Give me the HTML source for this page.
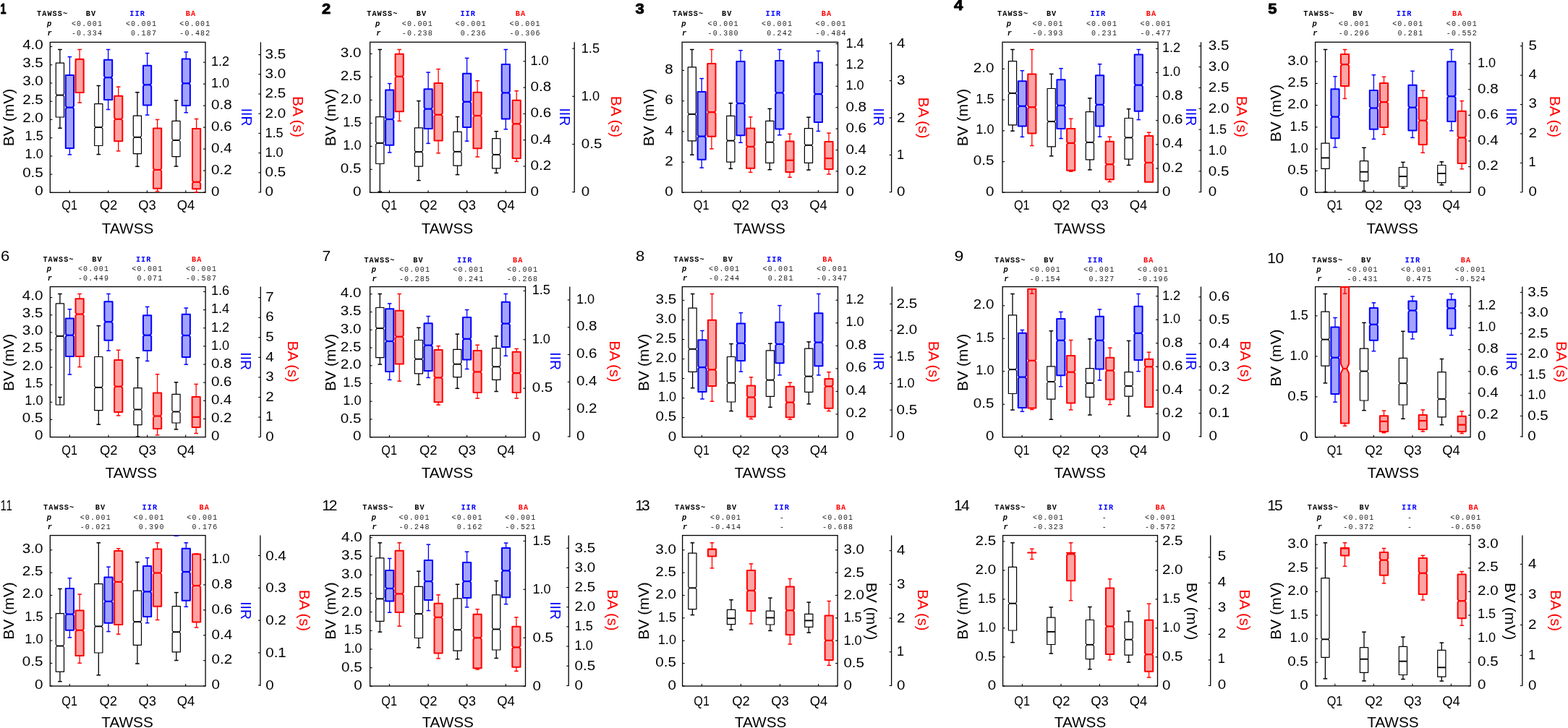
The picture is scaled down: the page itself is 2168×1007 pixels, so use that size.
<!DOCTYPE html><html><head><meta charset="utf-8"><title>Figure</title><style>html,body{margin:0;padding:0;background:#fff;width:2168px;height:1007px;overflow:hidden}svg{display:block}text{font-family:"Liberation Sans",Arial,sans-serif}text.m{font-family:"Liberation Mono","Courier New",monospace}</style></head><body><svg width="2168" height="1007" viewBox="0 0 2168 1007">
<rect width="2168" height="1007" fill="#fff"/>
<text transform="translate(0.50,19.45) scale(0.72,1)" font-size="20" fill="#000" font-weight="bold" stroke="#000" stroke-width="0.9" stroke-linejoin="round">1</text>
<text x="51.00" y="22.20" font-size="10.2" class="m" font-weight="bold" letter-spacing="1.08">TAWSS~</text>
<text x="118.80" y="22.20" font-size="10.2" class="m" font-weight="bold" letter-spacing="1.08">BV</text>
<text x="179.30" y="22.20" font-size="10.2" fill="#0000ff" class="m" font-weight="bold" letter-spacing="1.08">IIR</text>
<text x="256.70" y="22.20" font-size="10.2" fill="#ff0000" class="m" font-weight="bold" letter-spacing="1.08">BA</text>
<text x="65.10" y="35.80" font-size="10.5" class="m" font-weight="bold" font-style="italic">p</text>
<text x="65.40" y="48.80" font-size="10.5" class="m" font-weight="bold" font-style="italic">r</text>
<text x="142.10" y="35.80" font-size="10.0" text-anchor="end" fill="#222" class="m" letter-spacing="1.20">&lt;0.001</text>
<text x="142.10" y="48.80" font-size="10.0" text-anchor="end" fill="#222" class="m" letter-spacing="1.20">-0.334</text>
<text x="217.10" y="35.80" font-size="10.0" text-anchor="end" fill="#222" class="m" letter-spacing="1.20">&lt;0.001</text>
<text x="217.10" y="48.80" font-size="10.0" text-anchor="end" fill="#222" class="m" letter-spacing="1.20">0.187</text>
<text x="291.50" y="35.80" font-size="10.0" text-anchor="end" fill="#222" class="m" letter-spacing="1.20">&lt;0.001</text>
<text x="291.50" y="48.80" font-size="10.0" text-anchor="end" fill="#222" class="m" letter-spacing="1.20">-0.482</text>
<rect x="69.30" y="58.40" width="214.70" height="207.90" fill="none" stroke="#000" stroke-width="1.3"/>
<line x1="96.40" y1="266.30" x2="96.40" y2="263.30" stroke="#000" stroke-width="1.1"/>
<line x1="149.80" y1="266.30" x2="149.80" y2="263.30" stroke="#000" stroke-width="1.1"/>
<line x1="203.40" y1="266.30" x2="203.40" y2="263.30" stroke="#000" stroke-width="1.1"/>
<line x1="256.80" y1="266.30" x2="256.80" y2="263.30" stroke="#000" stroke-width="1.1"/>
<text x="96.10" y="289.90" font-size="18.4" text-anchor="middle" textLength="21.6" lengthAdjust="spacingAndGlyphs">Q1</text>
<text x="150.00" y="289.90" font-size="18.4" text-anchor="middle">Q2</text>
<text x="203.60" y="289.90" font-size="18.4" text-anchor="middle">Q3</text>
<text x="257.00" y="289.90" font-size="18.4" text-anchor="middle">Q4</text>
<text x="176.60" y="322.80" font-size="21" text-anchor="middle" textLength="71.5" lengthAdjust="spacingAndGlyphs">TAWSS</text>
<line x1="69.30" y1="266.40" x2="72.30" y2="266.40" stroke="#000" stroke-width="1.1"/>
<text x="59.80" y="269.90" font-size="17.6" text-anchor="end" textLength="11.45" lengthAdjust="spacingAndGlyphs">0</text>
<line x1="69.30" y1="241.16" x2="72.30" y2="241.16" stroke="#000" stroke-width="1.1"/>
<text x="59.80" y="244.66" font-size="17.6" text-anchor="end" textLength="28.62" lengthAdjust="spacingAndGlyphs">0.5</text>
<line x1="69.30" y1="215.92" x2="72.30" y2="215.92" stroke="#000" stroke-width="1.1"/>
<text x="59.80" y="219.42" font-size="17.6" text-anchor="end" textLength="25.20" lengthAdjust="spacingAndGlyphs">1.0</text>
<line x1="69.30" y1="190.69" x2="72.30" y2="190.69" stroke="#000" stroke-width="1.1"/>
<text x="59.80" y="194.19" font-size="17.6" text-anchor="end" textLength="25.20" lengthAdjust="spacingAndGlyphs">1.5</text>
<line x1="69.30" y1="165.45" x2="72.30" y2="165.45" stroke="#000" stroke-width="1.1"/>
<text x="59.80" y="168.95" font-size="17.6" text-anchor="end" textLength="28.62" lengthAdjust="spacingAndGlyphs">2.0</text>
<line x1="69.30" y1="140.21" x2="72.30" y2="140.21" stroke="#000" stroke-width="1.1"/>
<text x="59.80" y="143.71" font-size="17.6" text-anchor="end" textLength="28.62" lengthAdjust="spacingAndGlyphs">2.5</text>
<line x1="69.30" y1="114.97" x2="72.30" y2="114.97" stroke="#000" stroke-width="1.1"/>
<text x="59.80" y="118.47" font-size="17.6" text-anchor="end" textLength="28.62" lengthAdjust="spacingAndGlyphs">3.0</text>
<line x1="69.30" y1="89.74" x2="72.30" y2="89.74" stroke="#000" stroke-width="1.1"/>
<text x="59.80" y="93.24" font-size="17.6" text-anchor="end" textLength="28.62" lengthAdjust="spacingAndGlyphs">3.5</text>
<line x1="69.30" y1="64.50" x2="72.30" y2="64.50" stroke="#000" stroke-width="1.1"/>
<text x="59.80" y="68.00" font-size="17.6" text-anchor="end" textLength="28.62" lengthAdjust="spacingAndGlyphs">4.0</text>
<text transform="translate(18.60,162.50) rotate(-90)" font-size="21" text-anchor="middle" fill="#000">BV (mV)</text>
<line x1="284.00" y1="266.00" x2="281.00" y2="266.00" stroke="#000" stroke-width="1.1"/>
<text x="292.00" y="270.50" font-size="17.6" textLength="11.45" lengthAdjust="spacingAndGlyphs">0</text>
<line x1="284.00" y1="236.03" x2="281.00" y2="236.03" stroke="#000" stroke-width="1.1"/>
<text x="292.00" y="240.53" font-size="17.6" textLength="28.62" lengthAdjust="spacingAndGlyphs">0.2</text>
<line x1="284.00" y1="206.07" x2="281.00" y2="206.07" stroke="#000" stroke-width="1.1"/>
<text x="292.00" y="210.57" font-size="17.6" textLength="28.62" lengthAdjust="spacingAndGlyphs">0.4</text>
<line x1="284.00" y1="176.10" x2="281.00" y2="176.10" stroke="#000" stroke-width="1.1"/>
<text x="292.00" y="180.60" font-size="17.6" textLength="28.62" lengthAdjust="spacingAndGlyphs">0.6</text>
<line x1="284.00" y1="146.13" x2="281.00" y2="146.13" stroke="#000" stroke-width="1.1"/>
<text x="292.00" y="150.63" font-size="17.6" textLength="28.62" lengthAdjust="spacingAndGlyphs">0.8</text>
<line x1="284.00" y1="116.17" x2="281.00" y2="116.17" stroke="#000" stroke-width="1.1"/>
<text x="292.00" y="120.67" font-size="17.6" textLength="25.20" lengthAdjust="spacingAndGlyphs">1.0</text>
<line x1="284.00" y1="86.20" x2="281.00" y2="86.20" stroke="#000" stroke-width="1.1"/>
<text x="292.00" y="90.70" font-size="17.6" textLength="25.20" lengthAdjust="spacingAndGlyphs">1.2</text>
<text transform="translate(333.80,162.00) rotate(90)" font-size="21" text-anchor="middle" fill="#0000ff" textLength="24.6" lengthAdjust="spacingAndGlyphs">IIR</text>
<line x1="360.40" y1="58.40" x2="360.40" y2="266.30" stroke="#000" stroke-width="1.3"/>
<line x1="360.40" y1="266.00" x2="357.40" y2="266.00" stroke="#000" stroke-width="1.1"/>
<text x="366.50" y="271.30" font-size="17.6" textLength="11.45" lengthAdjust="spacingAndGlyphs">0</text>
<line x1="360.40" y1="238.80" x2="357.40" y2="238.80" stroke="#000" stroke-width="1.1"/>
<text x="366.50" y="244.10" font-size="17.6" textLength="28.62" lengthAdjust="spacingAndGlyphs">0.5</text>
<line x1="360.40" y1="211.60" x2="357.40" y2="211.60" stroke="#000" stroke-width="1.1"/>
<text x="366.50" y="216.90" font-size="17.6" textLength="25.20" lengthAdjust="spacingAndGlyphs">1.0</text>
<line x1="360.40" y1="184.40" x2="357.40" y2="184.40" stroke="#000" stroke-width="1.1"/>
<text x="366.50" y="189.70" font-size="17.6" textLength="25.20" lengthAdjust="spacingAndGlyphs">1.5</text>
<line x1="360.40" y1="157.20" x2="357.40" y2="157.20" stroke="#000" stroke-width="1.1"/>
<text x="366.50" y="162.50" font-size="17.6" textLength="28.62" lengthAdjust="spacingAndGlyphs">2.0</text>
<line x1="360.40" y1="130.00" x2="357.40" y2="130.00" stroke="#000" stroke-width="1.1"/>
<text x="366.50" y="135.30" font-size="17.6" textLength="28.62" lengthAdjust="spacingAndGlyphs">2.5</text>
<line x1="360.40" y1="102.80" x2="357.40" y2="102.80" stroke="#000" stroke-width="1.1"/>
<text x="366.50" y="108.10" font-size="17.6" textLength="28.62" lengthAdjust="spacingAndGlyphs">3.0</text>
<line x1="360.40" y1="75.60" x2="357.40" y2="75.60" stroke="#000" stroke-width="1.1"/>
<text x="366.50" y="80.90" font-size="17.6" textLength="28.62" lengthAdjust="spacingAndGlyphs">3.5</text>
<text transform="translate(405.00,161.50) rotate(90)" font-size="21" text-anchor="middle" fill="#ff0000">BA (s)</text>
<path d="M77.30,87.20H88.50V129.60L87.00,131.60L88.50,133.60V162.00H77.30V133.60L78.80,131.60L77.30,129.60Z" fill="#fff" stroke="#000" stroke-width="1.2" stroke-linejoin="round"/>
<line x1="82.90" y1="68.50" x2="82.90" y2="87.20" stroke="#000" stroke-width="1.3"/>
<line x1="80.10" y1="68.50" x2="85.70" y2="68.50" stroke="#000" stroke-width="1.5"/>
<line x1="82.90" y1="177.30" x2="82.90" y2="162.00" stroke="#000" stroke-width="1.3"/>
<line x1="80.10" y1="177.30" x2="85.70" y2="177.30" stroke="#000" stroke-width="1.5"/>
<line x1="78.80" y1="131.60" x2="87.00" y2="131.60" stroke="#000" stroke-width="1.9"/>
<path d="M90.80,103.90H102.00V146.70L100.50,148.70L102.00,150.70V205.10H90.80V150.70L92.30,148.70L90.80,146.70Z" fill="#a3a3ff" stroke="#0000ff" stroke-width="2.0" stroke-linejoin="round"/>
<line x1="96.40" y1="78.60" x2="96.40" y2="103.90" stroke="#0000ff" stroke-width="1.3"/>
<line x1="93.60" y1="78.60" x2="99.20" y2="78.60" stroke="#0000ff" stroke-width="1.5"/>
<line x1="96.40" y1="213.90" x2="96.40" y2="205.10" stroke="#0000ff" stroke-width="1.3"/>
<line x1="93.60" y1="213.90" x2="99.20" y2="213.90" stroke="#0000ff" stroke-width="1.5"/>
<line x1="92.30" y1="148.70" x2="100.50" y2="148.70" stroke="#0000ff" stroke-width="2.2"/>
<path d="M104.50,81.90H115.70V81.90L114.20,81.90L115.70,83.90V128.10H104.50V83.90L106.00,81.90L104.50,81.90Z" fill="#ffa3a3" stroke="#ff0000" stroke-width="2.0" stroke-linejoin="round"/>
<line x1="110.10" y1="68.50" x2="110.10" y2="81.90" stroke="#ff0000" stroke-width="1.3"/>
<line x1="107.30" y1="68.50" x2="112.90" y2="68.50" stroke="#ff0000" stroke-width="1.5"/>
<line x1="110.10" y1="142.00" x2="110.10" y2="128.10" stroke="#ff0000" stroke-width="1.3"/>
<line x1="107.30" y1="142.00" x2="112.90" y2="142.00" stroke="#ff0000" stroke-width="1.5"/>
<line x1="106.00" y1="81.90" x2="114.20" y2="81.90" stroke="#ff0000" stroke-width="2.2"/>
<path d="M130.70,143.60H141.90V174.10L140.40,176.10L141.90,178.10V201.50H130.70V178.10L132.20,176.10L130.70,174.10Z" fill="#fff" stroke="#000" stroke-width="1.2" stroke-linejoin="round"/>
<line x1="136.30" y1="118.50" x2="136.30" y2="143.60" stroke="#000" stroke-width="1.3"/>
<line x1="133.50" y1="118.50" x2="139.10" y2="118.50" stroke="#000" stroke-width="1.5"/>
<line x1="136.30" y1="213.60" x2="136.30" y2="201.50" stroke="#000" stroke-width="1.3"/>
<line x1="133.50" y1="213.60" x2="139.10" y2="213.60" stroke="#000" stroke-width="1.5"/>
<line x1="132.20" y1="176.10" x2="140.40" y2="176.10" stroke="#000" stroke-width="1.9"/>
<path d="M144.00,82.80H155.20V105.20L153.70,107.20L155.20,109.20V138.00H144.00V109.20L145.50,107.20L144.00,105.20Z" fill="#a3a3ff" stroke="#0000ff" stroke-width="2.0" stroke-linejoin="round"/>
<line x1="149.60" y1="68.50" x2="149.60" y2="82.80" stroke="#0000ff" stroke-width="1.3"/>
<line x1="146.80" y1="68.50" x2="152.40" y2="68.50" stroke="#0000ff" stroke-width="1.5"/>
<line x1="149.60" y1="151.50" x2="149.60" y2="138.00" stroke="#0000ff" stroke-width="1.3"/>
<line x1="146.80" y1="151.50" x2="152.40" y2="151.50" stroke="#0000ff" stroke-width="1.5"/>
<line x1="145.50" y1="107.20" x2="153.70" y2="107.20" stroke="#0000ff" stroke-width="2.2"/>
<path d="M158.10,132.80H169.30V162.80L167.80,164.80L169.30,166.80V195.20H158.10V166.80L159.60,164.80L158.10,162.80Z" fill="#ffa3a3" stroke="#ff0000" stroke-width="2.0" stroke-linejoin="round"/>
<line x1="163.70" y1="120.10" x2="163.70" y2="132.80" stroke="#ff0000" stroke-width="1.3"/>
<line x1="160.90" y1="120.10" x2="166.50" y2="120.10" stroke="#ff0000" stroke-width="1.5"/>
<line x1="163.70" y1="208.90" x2="163.70" y2="195.20" stroke="#ff0000" stroke-width="1.3"/>
<line x1="160.90" y1="208.90" x2="166.50" y2="208.90" stroke="#ff0000" stroke-width="1.5"/>
<line x1="159.60" y1="164.80" x2="167.80" y2="164.80" stroke="#ff0000" stroke-width="2.2"/>
<path d="M184.30,160.20H195.50V187.80L194.00,189.80L195.50,191.80V212.70H184.30V191.80L185.80,189.80L184.30,187.80Z" fill="#fff" stroke="#000" stroke-width="1.2" stroke-linejoin="round"/>
<line x1="189.90" y1="127.70" x2="189.90" y2="160.20" stroke="#000" stroke-width="1.3"/>
<line x1="187.10" y1="127.70" x2="192.70" y2="127.70" stroke="#000" stroke-width="1.5"/>
<line x1="189.90" y1="230.30" x2="189.90" y2="212.70" stroke="#000" stroke-width="1.3"/>
<line x1="187.10" y1="230.30" x2="192.70" y2="230.30" stroke="#000" stroke-width="1.5"/>
<line x1="185.80" y1="189.80" x2="194.00" y2="189.80" stroke="#000" stroke-width="1.9"/>
<path d="M198.00,90.80H209.20V115.30L207.70,117.30L209.20,119.30V145.40H198.00V119.30L199.50,117.30L198.00,115.30Z" fill="#a3a3ff" stroke="#0000ff" stroke-width="2.0" stroke-linejoin="round"/>
<line x1="203.60" y1="73.60" x2="203.60" y2="90.80" stroke="#0000ff" stroke-width="1.3"/>
<line x1="200.80" y1="73.60" x2="206.40" y2="73.60" stroke="#0000ff" stroke-width="1.5"/>
<line x1="203.60" y1="159.10" x2="203.60" y2="145.40" stroke="#0000ff" stroke-width="1.3"/>
<line x1="200.80" y1="159.10" x2="206.40" y2="159.10" stroke="#0000ff" stroke-width="1.5"/>
<line x1="199.50" y1="117.30" x2="207.70" y2="117.30" stroke="#0000ff" stroke-width="2.2"/>
<path d="M212.00,177.60H223.20V232.90L221.70,234.90L223.20,236.90V260.70H212.00V236.90L213.50,234.90L212.00,232.90Z" fill="#ffa3a3" stroke="#ff0000" stroke-width="2.0" stroke-linejoin="round"/>
<line x1="217.60" y1="165.40" x2="217.60" y2="177.60" stroke="#ff0000" stroke-width="1.3"/>
<line x1="214.80" y1="165.40" x2="220.40" y2="165.40" stroke="#ff0000" stroke-width="1.5"/>
<line x1="217.60" y1="264.60" x2="217.60" y2="260.70" stroke="#ff0000" stroke-width="1.3"/>
<line x1="214.80" y1="264.60" x2="220.40" y2="264.60" stroke="#ff0000" stroke-width="1.5"/>
<line x1="213.50" y1="234.90" x2="221.70" y2="234.90" stroke="#ff0000" stroke-width="2.2"/>
<path d="M237.90,167.40H249.10V192.00L247.60,194.00L249.10,196.00V216.60H237.90V196.00L239.40,194.00L237.90,192.00Z" fill="#fff" stroke="#000" stroke-width="1.2" stroke-linejoin="round"/>
<line x1="243.50" y1="138.80" x2="243.50" y2="167.40" stroke="#000" stroke-width="1.3"/>
<line x1="240.70" y1="138.80" x2="246.30" y2="138.80" stroke="#000" stroke-width="1.5"/>
<line x1="243.50" y1="230.10" x2="243.50" y2="216.60" stroke="#000" stroke-width="1.3"/>
<line x1="240.70" y1="230.10" x2="246.30" y2="230.10" stroke="#000" stroke-width="1.5"/>
<line x1="239.40" y1="194.00" x2="247.60" y2="194.00" stroke="#000" stroke-width="1.9"/>
<path d="M251.70,81.60H262.90V113.30L261.40,115.30L262.90,117.30V145.90H251.70V117.30L253.20,115.30L251.70,113.30Z" fill="#a3a3ff" stroke="#0000ff" stroke-width="2.0" stroke-linejoin="round"/>
<line x1="257.30" y1="72.00" x2="257.30" y2="81.60" stroke="#0000ff" stroke-width="1.3"/>
<line x1="254.50" y1="72.00" x2="260.10" y2="72.00" stroke="#0000ff" stroke-width="1.5"/>
<line x1="257.30" y1="155.80" x2="257.30" y2="145.90" stroke="#0000ff" stroke-width="1.3"/>
<line x1="254.50" y1="155.80" x2="260.10" y2="155.80" stroke="#0000ff" stroke-width="1.5"/>
<line x1="253.20" y1="115.30" x2="261.40" y2="115.30" stroke="#0000ff" stroke-width="2.2"/>
<path d="M266.00,177.90H277.20V249.80L275.70,251.80L277.20,253.80V261.30H266.00V253.80L267.50,251.80L266.00,249.80Z" fill="#ffa3a3" stroke="#ff0000" stroke-width="2.0" stroke-linejoin="round"/>
<line x1="271.60" y1="164.50" x2="271.60" y2="177.90" stroke="#ff0000" stroke-width="1.3"/>
<line x1="268.80" y1="164.50" x2="274.40" y2="164.50" stroke="#ff0000" stroke-width="1.5"/>
<line x1="271.60" y1="266.00" x2="271.60" y2="261.30" stroke="#ff0000" stroke-width="1.3"/>
<line x1="268.80" y1="266.00" x2="274.40" y2="266.00" stroke="#ff0000" stroke-width="1.5"/>
<line x1="267.50" y1="251.80" x2="275.70" y2="251.80" stroke="#ff0000" stroke-width="2.2"/>
<text transform="translate(445.10,19.35) scale(1.1,1)" font-size="20" fill="#000" font-weight="bold" stroke="#000" stroke-width="0.9" stroke-linejoin="round">2</text>
<text x="507.20" y="22.10" font-size="10.2" class="m" font-weight="bold" letter-spacing="1.08">TAWSS~</text>
<text x="575.70" y="22.10" font-size="10.2" class="m" font-weight="bold" letter-spacing="1.08">BV</text>
<text x="636.40" y="22.10" font-size="10.2" fill="#0000ff" class="m" font-weight="bold" letter-spacing="1.08">IIR</text>
<text x="712.70" y="22.10" font-size="10.2" fill="#ff0000" class="m" font-weight="bold" letter-spacing="1.08">BA</text>
<text x="518.90" y="35.90" font-size="10.5" class="m" font-weight="bold" font-style="italic">p</text>
<text x="520.30" y="48.70" font-size="10.5" class="m" font-weight="bold" font-style="italic">r</text>
<text x="599.00" y="35.90" font-size="10.0" text-anchor="end" fill="#222" class="m" letter-spacing="1.20">&lt;0.001</text>
<text x="599.00" y="48.70" font-size="10.0" text-anchor="end" fill="#222" class="m" letter-spacing="1.20">-0.238</text>
<text x="672.80" y="35.90" font-size="10.0" text-anchor="end" fill="#222" class="m" letter-spacing="1.20">&lt;0.001</text>
<text x="672.80" y="48.70" font-size="10.0" text-anchor="end" fill="#222" class="m" letter-spacing="1.20">0.236</text>
<text x="747.80" y="35.90" font-size="10.0" text-anchor="end" fill="#222" class="m" letter-spacing="1.20">&lt;0.001</text>
<text x="747.80" y="48.70" font-size="10.0" text-anchor="end" fill="#222" class="m" letter-spacing="1.20">-0.306</text>
<rect x="511.60" y="58.30" width="214.90" height="208.00" fill="none" stroke="#000" stroke-width="1.3"/>
<line x1="538.40" y1="266.30" x2="538.40" y2="263.30" stroke="#000" stroke-width="1.1"/>
<line x1="592.10" y1="266.30" x2="592.10" y2="263.30" stroke="#000" stroke-width="1.1"/>
<line x1="645.60" y1="266.30" x2="645.60" y2="263.30" stroke="#000" stroke-width="1.1"/>
<line x1="699.30" y1="266.30" x2="699.30" y2="263.30" stroke="#000" stroke-width="1.1"/>
<text x="538.10" y="289.90" font-size="18.4" text-anchor="middle" textLength="21.6" lengthAdjust="spacingAndGlyphs">Q1</text>
<text x="592.30" y="289.90" font-size="18.4" text-anchor="middle">Q2</text>
<text x="645.80" y="289.90" font-size="18.4" text-anchor="middle">Q3</text>
<text x="699.50" y="289.90" font-size="18.4" text-anchor="middle">Q4</text>
<text x="618.40" y="322.80" font-size="21" text-anchor="middle" textLength="71.5" lengthAdjust="spacingAndGlyphs">TAWSS</text>
<line x1="511.60" y1="266.30" x2="514.60" y2="266.30" stroke="#000" stroke-width="1.1"/>
<text x="499.50" y="270.50" font-size="17.6" text-anchor="end" textLength="11.45" lengthAdjust="spacingAndGlyphs">0</text>
<line x1="511.60" y1="234.32" x2="514.60" y2="234.32" stroke="#000" stroke-width="1.1"/>
<text x="499.50" y="238.52" font-size="17.6" text-anchor="end" textLength="28.62" lengthAdjust="spacingAndGlyphs">0.5</text>
<line x1="511.60" y1="202.33" x2="514.60" y2="202.33" stroke="#000" stroke-width="1.1"/>
<text x="499.50" y="206.53" font-size="17.6" text-anchor="end" textLength="25.20" lengthAdjust="spacingAndGlyphs">1.0</text>
<line x1="511.60" y1="170.35" x2="514.60" y2="170.35" stroke="#000" stroke-width="1.1"/>
<text x="499.50" y="174.55" font-size="17.6" text-anchor="end" textLength="25.20" lengthAdjust="spacingAndGlyphs">1.5</text>
<line x1="511.60" y1="138.37" x2="514.60" y2="138.37" stroke="#000" stroke-width="1.1"/>
<text x="499.50" y="142.57" font-size="17.6" text-anchor="end" textLength="28.62" lengthAdjust="spacingAndGlyphs">2.0</text>
<line x1="511.60" y1="106.38" x2="514.60" y2="106.38" stroke="#000" stroke-width="1.1"/>
<text x="499.50" y="110.58" font-size="17.6" text-anchor="end" textLength="28.62" lengthAdjust="spacingAndGlyphs">2.5</text>
<line x1="511.60" y1="74.40" x2="514.60" y2="74.40" stroke="#000" stroke-width="1.1"/>
<text x="499.50" y="78.60" font-size="17.6" text-anchor="end" textLength="28.62" lengthAdjust="spacingAndGlyphs">3.0</text>
<text transform="translate(463.80,162.50) rotate(-90)" font-size="21" text-anchor="middle" fill="#000">BV (mV)</text>
<line x1="726.50" y1="266.30" x2="723.50" y2="266.30" stroke="#000" stroke-width="1.1"/>
<text x="733.50" y="271.30" font-size="17.6" textLength="11.45" lengthAdjust="spacingAndGlyphs">0</text>
<line x1="726.50" y1="230.00" x2="723.50" y2="230.00" stroke="#000" stroke-width="1.1"/>
<text x="733.50" y="235.00" font-size="17.6" textLength="28.62" lengthAdjust="spacingAndGlyphs">0.2</text>
<line x1="726.50" y1="193.70" x2="723.50" y2="193.70" stroke="#000" stroke-width="1.1"/>
<text x="733.50" y="198.70" font-size="17.6" textLength="28.62" lengthAdjust="spacingAndGlyphs">0.4</text>
<line x1="726.50" y1="157.40" x2="723.50" y2="157.40" stroke="#000" stroke-width="1.1"/>
<text x="733.50" y="162.40" font-size="17.6" textLength="28.62" lengthAdjust="spacingAndGlyphs">0.6</text>
<line x1="726.50" y1="121.10" x2="723.50" y2="121.10" stroke="#000" stroke-width="1.1"/>
<text x="733.50" y="126.10" font-size="17.6" textLength="28.62" lengthAdjust="spacingAndGlyphs">0.8</text>
<line x1="726.50" y1="84.80" x2="723.50" y2="84.80" stroke="#000" stroke-width="1.1"/>
<text x="733.50" y="89.80" font-size="17.6" textLength="25.20" lengthAdjust="spacingAndGlyphs">1.0</text>
<text transform="translate(774.30,161.80) rotate(90)" font-size="21" text-anchor="middle" fill="#0000ff" textLength="24.6" lengthAdjust="spacingAndGlyphs">IIR</text>
<line x1="794.20" y1="58.30" x2="794.20" y2="266.30" stroke="#000" stroke-width="1.3"/>
<line x1="794.20" y1="265.70" x2="791.20" y2="265.70" stroke="#000" stroke-width="1.1"/>
<text x="803.80" y="271.40" font-size="17.6" textLength="11.45" lengthAdjust="spacingAndGlyphs">0</text>
<line x1="794.20" y1="199.50" x2="791.20" y2="199.50" stroke="#000" stroke-width="1.1"/>
<text x="803.80" y="205.20" font-size="17.6" textLength="28.62" lengthAdjust="spacingAndGlyphs">0.5</text>
<line x1="794.20" y1="133.30" x2="791.20" y2="133.30" stroke="#000" stroke-width="1.1"/>
<text x="803.80" y="139.00" font-size="17.6" textLength="25.20" lengthAdjust="spacingAndGlyphs">1.0</text>
<line x1="794.20" y1="67.10" x2="791.20" y2="67.10" stroke="#000" stroke-width="1.1"/>
<text x="803.80" y="72.80" font-size="17.6" textLength="25.20" lengthAdjust="spacingAndGlyphs">1.5</text>
<text transform="translate(844.50,161.30) rotate(90)" font-size="21" text-anchor="middle" fill="#ff0000">BA (s)</text>
<path d="M519.70,161.60H530.90V195.90L529.40,197.90L530.90,199.90V226.50H519.70V199.90L521.20,197.90L519.70,195.90Z" fill="#fff" stroke="#000" stroke-width="1.2" stroke-linejoin="round"/>
<line x1="525.30" y1="68.50" x2="525.30" y2="161.60" stroke="#000" stroke-width="1.3"/>
<line x1="522.50" y1="68.50" x2="528.10" y2="68.50" stroke="#000" stroke-width="1.5"/>
<line x1="525.30" y1="265.10" x2="525.30" y2="226.50" stroke="#000" stroke-width="1.3"/>
<line x1="522.50" y1="265.10" x2="528.10" y2="265.10" stroke="#000" stroke-width="1.5"/>
<line x1="521.20" y1="197.90" x2="529.40" y2="197.90" stroke="#000" stroke-width="1.9"/>
<path d="M533.10,124.50H544.30V163.00L542.80,165.00L544.30,167.00V200.80H533.10V167.00L534.60,165.00L533.10,163.00Z" fill="#a3a3ff" stroke="#0000ff" stroke-width="2.0" stroke-linejoin="round"/>
<line x1="538.70" y1="115.60" x2="538.70" y2="124.50" stroke="#0000ff" stroke-width="1.3"/>
<line x1="535.90" y1="115.60" x2="541.50" y2="115.60" stroke="#0000ff" stroke-width="1.5"/>
<line x1="538.70" y1="211.00" x2="538.70" y2="200.80" stroke="#0000ff" stroke-width="1.3"/>
<line x1="535.90" y1="211.00" x2="541.50" y2="211.00" stroke="#0000ff" stroke-width="1.5"/>
<line x1="534.60" y1="165.00" x2="542.80" y2="165.00" stroke="#0000ff" stroke-width="2.2"/>
<path d="M546.60,74.70H557.80V103.80L556.30,105.80L557.80,107.80V154.30H546.60V107.80L548.10,105.80L546.60,103.80Z" fill="#ffa3a3" stroke="#ff0000" stroke-width="2.0" stroke-linejoin="round"/>
<line x1="552.20" y1="68.50" x2="552.20" y2="74.70" stroke="#ff0000" stroke-width="1.3"/>
<line x1="549.40" y1="68.50" x2="555.00" y2="68.50" stroke="#ff0000" stroke-width="1.5"/>
<line x1="552.20" y1="167.40" x2="552.20" y2="154.30" stroke="#ff0000" stroke-width="1.3"/>
<line x1="549.40" y1="167.40" x2="555.00" y2="167.40" stroke="#ff0000" stroke-width="1.5"/>
<line x1="548.10" y1="105.80" x2="556.30" y2="105.80" stroke="#ff0000" stroke-width="2.2"/>
<path d="M573.30,176.90H584.50V208.10L583.00,210.10L584.50,212.10V230.10H573.30V212.10L574.80,210.10L573.30,208.10Z" fill="#fff" stroke="#000" stroke-width="1.2" stroke-linejoin="round"/>
<line x1="578.90" y1="139.60" x2="578.90" y2="176.90" stroke="#000" stroke-width="1.3"/>
<line x1="576.10" y1="139.60" x2="581.70" y2="139.60" stroke="#000" stroke-width="1.5"/>
<line x1="578.90" y1="249.60" x2="578.90" y2="230.10" stroke="#000" stroke-width="1.3"/>
<line x1="576.10" y1="249.60" x2="581.70" y2="249.60" stroke="#000" stroke-width="1.5"/>
<line x1="574.80" y1="210.10" x2="583.00" y2="210.10" stroke="#000" stroke-width="1.9"/>
<path d="M586.50,123.30H597.70V148.70L596.20,150.70L597.70,152.70V178.10H586.50V152.70L588.00,150.70L586.50,148.70Z" fill="#a3a3ff" stroke="#0000ff" stroke-width="2.0" stroke-linejoin="round"/>
<line x1="592.10" y1="100.10" x2="592.10" y2="123.30" stroke="#0000ff" stroke-width="1.3"/>
<line x1="589.30" y1="100.10" x2="594.90" y2="100.10" stroke="#0000ff" stroke-width="1.5"/>
<line x1="592.10" y1="198.40" x2="592.10" y2="178.10" stroke="#0000ff" stroke-width="1.3"/>
<line x1="589.30" y1="198.40" x2="594.90" y2="198.40" stroke="#0000ff" stroke-width="1.5"/>
<line x1="588.00" y1="150.70" x2="596.20" y2="150.70" stroke="#0000ff" stroke-width="2.2"/>
<path d="M600.50,115.00H611.70V156.70L610.20,158.70L611.70,160.70V194.60H600.50V160.70L602.00,158.70L600.50,156.70Z" fill="#ffa3a3" stroke="#ff0000" stroke-width="2.0" stroke-linejoin="round"/>
<line x1="606.10" y1="95.60" x2="606.10" y2="115.00" stroke="#ff0000" stroke-width="1.3"/>
<line x1="603.30" y1="95.60" x2="608.90" y2="95.60" stroke="#ff0000" stroke-width="1.5"/>
<line x1="606.10" y1="211.80" x2="606.10" y2="194.60" stroke="#ff0000" stroke-width="1.3"/>
<line x1="603.30" y1="211.80" x2="608.90" y2="211.80" stroke="#ff0000" stroke-width="1.5"/>
<line x1="602.00" y1="158.70" x2="610.20" y2="158.70" stroke="#ff0000" stroke-width="2.2"/>
<path d="M626.90,182.40H638.10V207.80L636.60,209.80L638.10,211.80V229.10H626.90V211.80L628.40,209.80L626.90,207.80Z" fill="#fff" stroke="#000" stroke-width="1.2" stroke-linejoin="round"/>
<line x1="632.50" y1="161.50" x2="632.50" y2="182.40" stroke="#000" stroke-width="1.3"/>
<line x1="629.70" y1="161.50" x2="635.30" y2="161.50" stroke="#000" stroke-width="1.5"/>
<line x1="632.50" y1="241.60" x2="632.50" y2="229.10" stroke="#000" stroke-width="1.3"/>
<line x1="629.70" y1="241.60" x2="635.30" y2="241.60" stroke="#000" stroke-width="1.5"/>
<line x1="628.40" y1="209.80" x2="636.60" y2="209.80" stroke="#000" stroke-width="1.9"/>
<path d="M640.00,101.80H651.20V138.80L649.70,140.80L651.20,142.80V176.10H640.00V142.80L641.50,140.80L640.00,138.80Z" fill="#a3a3ff" stroke="#0000ff" stroke-width="2.0" stroke-linejoin="round"/>
<line x1="645.60" y1="80.40" x2="645.60" y2="101.80" stroke="#0000ff" stroke-width="1.3"/>
<line x1="642.80" y1="80.40" x2="648.40" y2="80.40" stroke="#0000ff" stroke-width="1.5"/>
<line x1="645.60" y1="195.20" x2="645.60" y2="176.10" stroke="#0000ff" stroke-width="1.3"/>
<line x1="642.80" y1="195.20" x2="648.40" y2="195.20" stroke="#0000ff" stroke-width="1.5"/>
<line x1="641.50" y1="140.80" x2="649.70" y2="140.80" stroke="#0000ff" stroke-width="2.2"/>
<path d="M654.50,127.80H665.70V158.00L664.20,160.00L665.70,162.00V205.30H654.50V162.00L656.00,160.00L654.50,158.00Z" fill="#ffa3a3" stroke="#ff0000" stroke-width="2.0" stroke-linejoin="round"/>
<line x1="660.10" y1="111.70" x2="660.10" y2="127.80" stroke="#ff0000" stroke-width="1.3"/>
<line x1="657.30" y1="111.70" x2="662.90" y2="111.70" stroke="#ff0000" stroke-width="1.5"/>
<line x1="660.10" y1="217.00" x2="660.10" y2="205.30" stroke="#ff0000" stroke-width="1.3"/>
<line x1="657.30" y1="217.00" x2="662.90" y2="217.00" stroke="#ff0000" stroke-width="1.5"/>
<line x1="656.00" y1="160.00" x2="664.20" y2="160.00" stroke="#ff0000" stroke-width="2.2"/>
<path d="M680.60,191.60H691.80V211.90L690.30,213.90L691.80,215.90V232.90H680.60V215.90L682.10,213.90L680.60,211.90Z" fill="#fff" stroke="#000" stroke-width="1.2" stroke-linejoin="round"/>
<line x1="686.20" y1="181.70" x2="686.20" y2="191.60" stroke="#000" stroke-width="1.3"/>
<line x1="683.40" y1="181.70" x2="689.00" y2="181.70" stroke="#000" stroke-width="1.5"/>
<line x1="686.20" y1="239.30" x2="686.20" y2="232.90" stroke="#000" stroke-width="1.3"/>
<line x1="683.40" y1="239.30" x2="689.00" y2="239.30" stroke="#000" stroke-width="1.5"/>
<line x1="682.10" y1="213.90" x2="690.30" y2="213.90" stroke="#000" stroke-width="1.9"/>
<path d="M693.70,89.00H704.90V126.40L703.40,128.40L704.90,130.40V164.60H693.70V130.40L695.20,128.40L693.70,126.40Z" fill="#a3a3ff" stroke="#0000ff" stroke-width="2.0" stroke-linejoin="round"/>
<line x1="699.30" y1="68.50" x2="699.30" y2="89.00" stroke="#0000ff" stroke-width="1.3"/>
<line x1="696.50" y1="68.50" x2="702.10" y2="68.50" stroke="#0000ff" stroke-width="1.5"/>
<line x1="699.30" y1="178.80" x2="699.30" y2="164.60" stroke="#0000ff" stroke-width="1.3"/>
<line x1="696.50" y1="178.80" x2="702.10" y2="178.80" stroke="#0000ff" stroke-width="1.5"/>
<line x1="695.20" y1="128.40" x2="703.40" y2="128.40" stroke="#0000ff" stroke-width="2.2"/>
<path d="M708.60,138.80H719.80V169.30L718.30,171.30L719.80,173.30V219.00H708.60V173.30L710.10,171.30L708.60,169.30Z" fill="#ffa3a3" stroke="#ff0000" stroke-width="2.0" stroke-linejoin="round"/>
<line x1="714.20" y1="125.70" x2="714.20" y2="138.80" stroke="#ff0000" stroke-width="1.3"/>
<line x1="711.40" y1="125.70" x2="717.00" y2="125.70" stroke="#ff0000" stroke-width="1.5"/>
<line x1="714.20" y1="223.40" x2="714.20" y2="219.00" stroke="#ff0000" stroke-width="1.3"/>
<line x1="711.40" y1="223.40" x2="717.00" y2="223.40" stroke="#ff0000" stroke-width="1.5"/>
<line x1="710.10" y1="171.30" x2="718.30" y2="171.30" stroke="#ff0000" stroke-width="2.2"/>
<text transform="translate(878.60,19.45) scale(1.1,1)" font-size="20" fill="#000" font-weight="bold" stroke="#000" stroke-width="0.9" stroke-linejoin="round">3</text>
<text x="930.10" y="22.10" font-size="10.2" class="m" font-weight="bold" letter-spacing="1.08">TAWSS~</text>
<text x="998.00" y="22.10" font-size="10.2" class="m" font-weight="bold" letter-spacing="1.08">BV</text>
<text x="1058.60" y="22.10" font-size="10.2" fill="#0000ff" class="m" font-weight="bold" letter-spacing="1.08">IIR</text>
<text x="1135.80" y="22.10" font-size="10.2" fill="#ff0000" class="m" font-weight="bold" letter-spacing="1.08">BA</text>
<text x="942.20" y="35.70" font-size="10.5" class="m" font-weight="bold" font-style="italic">p</text>
<text x="943.10" y="48.60" font-size="10.5" class="m" font-weight="bold" font-style="italic">r</text>
<text x="1021.80" y="35.70" font-size="10.0" text-anchor="end" fill="#222" class="m" letter-spacing="1.20">&lt;0.001</text>
<text x="1021.80" y="48.60" font-size="10.0" text-anchor="end" fill="#222" class="m" letter-spacing="1.20">-0.380</text>
<text x="1096.20" y="35.70" font-size="10.0" text-anchor="end" fill="#222" class="m" letter-spacing="1.20">&lt;0.001</text>
<text x="1096.20" y="48.60" font-size="10.0" text-anchor="end" fill="#222" class="m" letter-spacing="1.20">0.242</text>
<text x="1170.80" y="35.70" font-size="10.0" text-anchor="end" fill="#222" class="m" letter-spacing="1.20">&lt;0.001</text>
<text x="1170.80" y="48.60" font-size="10.0" text-anchor="end" fill="#222" class="m" letter-spacing="1.20">-0.484</text>
<rect x="943.10" y="58.30" width="215.40" height="207.80" fill="none" stroke="#000" stroke-width="1.3"/>
<line x1="969.90" y1="266.10" x2="969.90" y2="263.10" stroke="#000" stroke-width="1.1"/>
<line x1="1023.60" y1="266.10" x2="1023.60" y2="263.10" stroke="#000" stroke-width="1.1"/>
<line x1="1077.70" y1="266.10" x2="1077.70" y2="263.10" stroke="#000" stroke-width="1.1"/>
<line x1="1131.40" y1="266.10" x2="1131.40" y2="263.10" stroke="#000" stroke-width="1.1"/>
<text x="969.60" y="289.90" font-size="18.4" text-anchor="middle" textLength="21.6" lengthAdjust="spacingAndGlyphs">Q1</text>
<text x="1023.80" y="289.90" font-size="18.4" text-anchor="middle">Q2</text>
<text x="1077.90" y="289.90" font-size="18.4" text-anchor="middle">Q3</text>
<text x="1131.60" y="289.90" font-size="18.4" text-anchor="middle">Q4</text>
<text x="1050.10" y="322.80" font-size="21" text-anchor="middle" textLength="71.5" lengthAdjust="spacingAndGlyphs">TAWSS</text>
<line x1="943.10" y1="266.50" x2="946.10" y2="266.50" stroke="#000" stroke-width="1.1"/>
<text x="930.70" y="271.10" font-size="17.6" text-anchor="end" textLength="11.45" lengthAdjust="spacingAndGlyphs">0</text>
<line x1="943.10" y1="224.22" x2="946.10" y2="224.22" stroke="#000" stroke-width="1.1"/>
<text x="930.70" y="228.82" font-size="17.6" text-anchor="end" textLength="11.45" lengthAdjust="spacingAndGlyphs">2</text>
<line x1="943.10" y1="181.95" x2="946.10" y2="181.95" stroke="#000" stroke-width="1.1"/>
<text x="930.70" y="186.55" font-size="17.6" text-anchor="end" textLength="11.45" lengthAdjust="spacingAndGlyphs">4</text>
<line x1="943.10" y1="139.68" x2="946.10" y2="139.68" stroke="#000" stroke-width="1.1"/>
<text x="930.70" y="144.28" font-size="17.6" text-anchor="end" textLength="11.45" lengthAdjust="spacingAndGlyphs">6</text>
<line x1="943.10" y1="97.40" x2="946.10" y2="97.40" stroke="#000" stroke-width="1.1"/>
<text x="930.70" y="102.00" font-size="17.6" text-anchor="end" textLength="11.45" lengthAdjust="spacingAndGlyphs">8</text>
<text transform="translate(903.80,162.50) rotate(-90)" font-size="21" text-anchor="middle" fill="#000">BV (mV)</text>
<line x1="1158.50" y1="266.30" x2="1155.50" y2="266.30" stroke="#000" stroke-width="1.1"/>
<text x="1169.40" y="271.30" font-size="17.6" textLength="11.45" lengthAdjust="spacingAndGlyphs">0</text>
<line x1="1158.50" y1="236.90" x2="1155.50" y2="236.90" stroke="#000" stroke-width="1.1"/>
<text x="1169.40" y="241.90" font-size="17.6" textLength="28.62" lengthAdjust="spacingAndGlyphs">0.2</text>
<line x1="1158.50" y1="207.50" x2="1155.50" y2="207.50" stroke="#000" stroke-width="1.1"/>
<text x="1169.40" y="212.50" font-size="17.6" textLength="28.62" lengthAdjust="spacingAndGlyphs">0.4</text>
<line x1="1158.50" y1="178.10" x2="1155.50" y2="178.10" stroke="#000" stroke-width="1.1"/>
<text x="1169.40" y="183.10" font-size="17.6" textLength="28.62" lengthAdjust="spacingAndGlyphs">0.6</text>
<line x1="1158.50" y1="148.70" x2="1155.50" y2="148.70" stroke="#000" stroke-width="1.1"/>
<text x="1169.40" y="153.70" font-size="17.6" textLength="28.62" lengthAdjust="spacingAndGlyphs">0.8</text>
<line x1="1158.50" y1="119.30" x2="1155.50" y2="119.30" stroke="#000" stroke-width="1.1"/>
<text x="1169.40" y="124.30" font-size="17.6" textLength="25.20" lengthAdjust="spacingAndGlyphs">1.0</text>
<line x1="1158.50" y1="89.90" x2="1155.50" y2="89.90" stroke="#000" stroke-width="1.1"/>
<text x="1169.40" y="94.90" font-size="17.6" textLength="25.20" lengthAdjust="spacingAndGlyphs">1.2</text>
<line x1="1158.50" y1="60.50" x2="1155.50" y2="60.50" stroke="#000" stroke-width="1.1"/>
<text x="1169.40" y="65.50" font-size="17.6" textLength="25.20" lengthAdjust="spacingAndGlyphs">1.4</text>
<text transform="translate(1207.70,161.80) rotate(90)" font-size="21" text-anchor="middle" fill="#0000ff" textLength="24.6" lengthAdjust="spacingAndGlyphs">IIR</text>
<line x1="1232.60" y1="58.30" x2="1232.60" y2="266.10" stroke="#000" stroke-width="1.3"/>
<line x1="1232.60" y1="265.70" x2="1229.60" y2="265.70" stroke="#000" stroke-width="1.1"/>
<text x="1240.10" y="271.40" font-size="17.6" textLength="11.45" lengthAdjust="spacingAndGlyphs">0</text>
<line x1="1232.60" y1="214.35" x2="1229.60" y2="214.35" stroke="#000" stroke-width="1.1"/>
<text x="1240.10" y="220.05" font-size="17.6" textLength="10.08" lengthAdjust="spacingAndGlyphs">1</text>
<line x1="1232.60" y1="163.00" x2="1229.60" y2="163.00" stroke="#000" stroke-width="1.1"/>
<text x="1240.10" y="168.70" font-size="17.6" textLength="11.45" lengthAdjust="spacingAndGlyphs">2</text>
<line x1="1232.60" y1="111.65" x2="1229.60" y2="111.65" stroke="#000" stroke-width="1.1"/>
<text x="1240.10" y="117.35" font-size="17.6" textLength="11.45" lengthAdjust="spacingAndGlyphs">3</text>
<line x1="1232.60" y1="60.30" x2="1229.60" y2="60.30" stroke="#000" stroke-width="1.1"/>
<text x="1240.10" y="66.00" font-size="17.6" textLength="11.45" lengthAdjust="spacingAndGlyphs">4</text>
<text transform="translate(1269.60,163.00) rotate(90)" font-size="21" text-anchor="middle" fill="#ff0000">BA (s)</text>
<path d="M951.20,92.90H962.40V155.90L960.90,157.90L962.40,159.90V194.90H951.20V159.90L952.70,157.90L951.20,155.90Z" fill="#fff" stroke="#000" stroke-width="1.2" stroke-linejoin="round"/>
<line x1="956.80" y1="68.50" x2="956.80" y2="92.90" stroke="#000" stroke-width="1.3"/>
<line x1="954.00" y1="68.50" x2="959.60" y2="68.50" stroke="#000" stroke-width="1.5"/>
<line x1="956.80" y1="214.20" x2="956.80" y2="194.90" stroke="#000" stroke-width="1.3"/>
<line x1="954.00" y1="214.20" x2="959.60" y2="214.20" stroke="#000" stroke-width="1.5"/>
<line x1="952.70" y1="157.90" x2="960.90" y2="157.90" stroke="#000" stroke-width="1.9"/>
<path d="M964.60,126.90H975.80V186.60L974.30,188.60L975.80,190.60V220.80H964.60V190.60L966.10,188.60L964.60,186.60Z" fill="#a3a3ff" stroke="#0000ff" stroke-width="2.0" stroke-linejoin="round"/>
<line x1="970.20" y1="108.60" x2="970.20" y2="126.90" stroke="#0000ff" stroke-width="1.3"/>
<line x1="967.40" y1="108.60" x2="973.00" y2="108.60" stroke="#0000ff" stroke-width="1.5"/>
<line x1="970.20" y1="232.10" x2="970.20" y2="220.80" stroke="#0000ff" stroke-width="1.3"/>
<line x1="967.40" y1="232.10" x2="973.00" y2="232.10" stroke="#0000ff" stroke-width="1.5"/>
<line x1="966.10" y1="188.60" x2="974.30" y2="188.60" stroke="#0000ff" stroke-width="2.2"/>
<path d="M978.30,87.90H989.50V153.10L988.00,155.10L989.50,157.10V188.80H978.30V157.10L979.80,155.10L978.30,153.10Z" fill="#ffa3a3" stroke="#ff0000" stroke-width="2.0" stroke-linejoin="round"/>
<line x1="983.90" y1="68.50" x2="983.90" y2="87.90" stroke="#ff0000" stroke-width="1.3"/>
<line x1="981.10" y1="68.50" x2="986.70" y2="68.50" stroke="#ff0000" stroke-width="1.5"/>
<line x1="983.90" y1="205.90" x2="983.90" y2="188.80" stroke="#ff0000" stroke-width="1.3"/>
<line x1="981.10" y1="205.90" x2="986.70" y2="205.90" stroke="#ff0000" stroke-width="1.5"/>
<line x1="979.80" y1="155.10" x2="988.00" y2="155.10" stroke="#ff0000" stroke-width="2.2"/>
<path d="M1004.70,160.30H1015.90V192.60L1014.40,194.60L1015.90,196.60V224.10H1004.70V196.60L1006.20,194.60L1004.70,192.60Z" fill="#fff" stroke="#000" stroke-width="1.2" stroke-linejoin="round"/>
<line x1="1010.30" y1="142.70" x2="1010.30" y2="160.30" stroke="#000" stroke-width="1.3"/>
<line x1="1007.50" y1="142.70" x2="1013.10" y2="142.70" stroke="#000" stroke-width="1.5"/>
<line x1="1010.30" y1="233.30" x2="1010.30" y2="224.10" stroke="#000" stroke-width="1.3"/>
<line x1="1007.50" y1="233.30" x2="1013.10" y2="233.30" stroke="#000" stroke-width="1.5"/>
<line x1="1006.20" y1="194.60" x2="1014.40" y2="194.60" stroke="#000" stroke-width="1.9"/>
<path d="M1018.40,84.90H1029.60V141.00L1028.10,143.00L1029.60,145.00V187.20H1018.40V145.00L1019.90,143.00L1018.40,141.00Z" fill="#a3a3ff" stroke="#0000ff" stroke-width="2.0" stroke-linejoin="round"/>
<line x1="1024.00" y1="69.70" x2="1024.00" y2="84.90" stroke="#0000ff" stroke-width="1.3"/>
<line x1="1021.20" y1="69.70" x2="1026.80" y2="69.70" stroke="#0000ff" stroke-width="1.5"/>
<line x1="1024.00" y1="197.30" x2="1024.00" y2="187.20" stroke="#0000ff" stroke-width="1.3"/>
<line x1="1021.20" y1="197.30" x2="1026.80" y2="197.30" stroke="#0000ff" stroke-width="1.5"/>
<line x1="1019.90" y1="143.00" x2="1028.10" y2="143.00" stroke="#0000ff" stroke-width="2.2"/>
<path d="M1032.10,177.60H1043.30V200.90L1041.80,202.90L1043.30,204.90V232.70H1032.10V204.90L1033.60,202.90L1032.10,200.90Z" fill="#ffa3a3" stroke="#ff0000" stroke-width="2.0" stroke-linejoin="round"/>
<line x1="1037.70" y1="161.80" x2="1037.70" y2="177.60" stroke="#ff0000" stroke-width="1.3"/>
<line x1="1034.90" y1="161.80" x2="1040.50" y2="161.80" stroke="#ff0000" stroke-width="1.5"/>
<line x1="1037.70" y1="238.40" x2="1037.70" y2="232.70" stroke="#ff0000" stroke-width="1.3"/>
<line x1="1034.90" y1="238.40" x2="1040.50" y2="238.40" stroke="#ff0000" stroke-width="1.5"/>
<line x1="1033.60" y1="202.90" x2="1041.80" y2="202.90" stroke="#ff0000" stroke-width="2.2"/>
<path d="M1058.70,167.30H1069.90V194.70L1068.40,196.70L1069.90,198.70V225.30H1058.70V198.70L1060.20,196.70L1058.70,194.70Z" fill="#fff" stroke="#000" stroke-width="1.2" stroke-linejoin="round"/>
<line x1="1064.30" y1="150.40" x2="1064.30" y2="167.30" stroke="#000" stroke-width="1.3"/>
<line x1="1061.50" y1="150.40" x2="1067.10" y2="150.40" stroke="#000" stroke-width="1.5"/>
<line x1="1064.30" y1="234.70" x2="1064.30" y2="225.30" stroke="#000" stroke-width="1.3"/>
<line x1="1061.50" y1="234.70" x2="1067.10" y2="234.70" stroke="#000" stroke-width="1.5"/>
<line x1="1060.20" y1="196.70" x2="1068.40" y2="196.70" stroke="#000" stroke-width="1.9"/>
<path d="M1072.20,84.00H1083.40V126.40L1081.90,128.40L1083.40,130.40V178.50H1072.20V130.40L1073.70,128.40L1072.20,126.40Z" fill="#a3a3ff" stroke="#0000ff" stroke-width="2.0" stroke-linejoin="round"/>
<line x1="1077.80" y1="68.50" x2="1077.80" y2="84.00" stroke="#0000ff" stroke-width="1.3"/>
<line x1="1075.00" y1="68.50" x2="1080.60" y2="68.50" stroke="#0000ff" stroke-width="1.5"/>
<line x1="1077.80" y1="186.80" x2="1077.80" y2="178.50" stroke="#0000ff" stroke-width="1.3"/>
<line x1="1075.00" y1="186.80" x2="1080.60" y2="186.80" stroke="#0000ff" stroke-width="1.5"/>
<line x1="1073.70" y1="128.40" x2="1081.90" y2="128.40" stroke="#0000ff" stroke-width="2.2"/>
<path d="M1086.40,195.50H1097.60V238.10H1086.40Z" fill="#ffa3a3" stroke="#ff0000" stroke-width="2.0" stroke-linejoin="round"/>
<line x1="1092.00" y1="185.30" x2="1092.00" y2="195.50" stroke="#ff0000" stroke-width="1.3"/>
<line x1="1089.20" y1="185.30" x2="1094.80" y2="185.30" stroke="#ff0000" stroke-width="1.5"/>
<line x1="1092.00" y1="245.20" x2="1092.00" y2="238.10" stroke="#ff0000" stroke-width="1.3"/>
<line x1="1089.20" y1="245.20" x2="1094.80" y2="245.20" stroke="#ff0000" stroke-width="1.5"/>
<line x1="1086.40" y1="221.70" x2="1097.60" y2="221.70" stroke="#ff0000" stroke-width="2.2"/>
<path d="M1112.40,177.60H1123.60V198.80L1122.10,200.80L1123.60,202.80V225.30H1112.40V202.80L1113.90,200.80L1112.40,198.80Z" fill="#fff" stroke="#000" stroke-width="1.2" stroke-linejoin="round"/>
<line x1="1118.00" y1="162.20" x2="1118.00" y2="177.60" stroke="#000" stroke-width="1.3"/>
<line x1="1115.20" y1="162.20" x2="1120.80" y2="162.20" stroke="#000" stroke-width="1.5"/>
<line x1="1118.00" y1="235.10" x2="1118.00" y2="225.30" stroke="#000" stroke-width="1.3"/>
<line x1="1115.20" y1="235.10" x2="1120.80" y2="235.10" stroke="#000" stroke-width="1.5"/>
<line x1="1113.90" y1="200.80" x2="1122.10" y2="200.80" stroke="#000" stroke-width="1.9"/>
<path d="M1125.80,86.40H1137.00V128.10L1135.50,130.10L1137.00,132.10V168.90H1125.80V132.10L1127.30,130.10L1125.80,128.10Z" fill="#a3a3ff" stroke="#0000ff" stroke-width="2.0" stroke-linejoin="round"/>
<line x1="1131.40" y1="70.50" x2="1131.40" y2="86.40" stroke="#0000ff" stroke-width="1.3"/>
<line x1="1128.60" y1="70.50" x2="1134.20" y2="70.50" stroke="#0000ff" stroke-width="1.5"/>
<line x1="1131.40" y1="181.50" x2="1131.40" y2="168.90" stroke="#0000ff" stroke-width="1.3"/>
<line x1="1128.60" y1="181.50" x2="1134.20" y2="181.50" stroke="#0000ff" stroke-width="1.5"/>
<line x1="1127.30" y1="130.10" x2="1135.50" y2="130.10" stroke="#0000ff" stroke-width="2.2"/>
<path d="M1140.40,196.00H1151.60V233.90H1140.40Z" fill="#ffa3a3" stroke="#ff0000" stroke-width="2.0" stroke-linejoin="round"/>
<line x1="1146.00" y1="184.10" x2="1146.00" y2="196.00" stroke="#ff0000" stroke-width="1.3"/>
<line x1="1143.20" y1="184.10" x2="1148.80" y2="184.10" stroke="#ff0000" stroke-width="1.5"/>
<line x1="1146.00" y1="241.00" x2="1146.00" y2="233.90" stroke="#ff0000" stroke-width="1.3"/>
<line x1="1143.20" y1="241.00" x2="1148.80" y2="241.00" stroke="#ff0000" stroke-width="1.5"/>
<line x1="1140.40" y1="219.00" x2="1151.60" y2="219.00" stroke="#ff0000" stroke-width="2.2"/>
<text transform="translate(1318.90,14.45) scale(1.12,1)" font-size="20" fill="#000" font-weight="bold" stroke="#000" stroke-width="0.9" stroke-linejoin="round">4</text>
<text x="1379.00" y="22.10" font-size="10.2" class="m" font-weight="bold" letter-spacing="1.08">TAWSS~</text>
<text x="1446.90" y="22.10" font-size="10.2" class="m" font-weight="bold" letter-spacing="1.08">BV</text>
<text x="1507.50" y="22.10" font-size="10.2" fill="#0000ff" class="m" font-weight="bold" letter-spacing="1.08">IIR</text>
<text x="1584.70" y="22.10" font-size="10.2" fill="#ff0000" class="m" font-weight="bold" letter-spacing="1.08">BA</text>
<text x="1391.80" y="35.70" font-size="10.5" class="m" font-weight="bold" font-style="italic">p</text>
<text x="1392.70" y="48.60" font-size="10.5" class="m" font-weight="bold" font-style="italic">r</text>
<text x="1470.70" y="35.70" font-size="10.0" text-anchor="end" fill="#222" class="m" letter-spacing="1.20">&lt;0.001</text>
<text x="1470.70" y="48.60" font-size="10.0" text-anchor="end" fill="#222" class="m" letter-spacing="1.20">-0.393</text>
<text x="1545.10" y="35.70" font-size="10.0" text-anchor="end" fill="#222" class="m" letter-spacing="1.20">&lt;0.001</text>
<text x="1545.10" y="48.60" font-size="10.0" text-anchor="end" fill="#222" class="m" letter-spacing="1.20">0.231</text>
<text x="1619.70" y="35.70" font-size="10.0" text-anchor="end" fill="#222" class="m" letter-spacing="1.20">&lt;0.001</text>
<text x="1619.70" y="48.60" font-size="10.0" text-anchor="end" fill="#222" class="m" letter-spacing="1.20">-0.477</text>
<rect x="1386.00" y="58.30" width="215.10" height="207.80" fill="none" stroke="#000" stroke-width="1.3"/>
<line x1="1413.10" y1="266.10" x2="1413.10" y2="263.10" stroke="#000" stroke-width="1.1"/>
<line x1="1466.80" y1="266.10" x2="1466.80" y2="263.10" stroke="#000" stroke-width="1.1"/>
<line x1="1520.40" y1="266.10" x2="1520.40" y2="263.10" stroke="#000" stroke-width="1.1"/>
<line x1="1573.70" y1="266.10" x2="1573.70" y2="263.10" stroke="#000" stroke-width="1.1"/>
<text x="1412.80" y="289.90" font-size="18.4" text-anchor="middle" textLength="21.6" lengthAdjust="spacingAndGlyphs">Q1</text>
<text x="1467.00" y="289.90" font-size="18.4" text-anchor="middle">Q2</text>
<text x="1520.60" y="289.90" font-size="18.4" text-anchor="middle">Q3</text>
<text x="1573.90" y="289.90" font-size="18.4" text-anchor="middle">Q4</text>
<text x="1492.90" y="322.80" font-size="21" text-anchor="middle" textLength="71.5" lengthAdjust="spacingAndGlyphs">TAWSS</text>
<line x1="1386.00" y1="266.40" x2="1389.00" y2="266.40" stroke="#000" stroke-width="1.1"/>
<text x="1374.50" y="270.90" font-size="17.6" text-anchor="end" textLength="11.45" lengthAdjust="spacingAndGlyphs">0</text>
<line x1="1386.00" y1="223.62" x2="1389.00" y2="223.62" stroke="#000" stroke-width="1.1"/>
<text x="1374.50" y="228.12" font-size="17.6" text-anchor="end" textLength="28.62" lengthAdjust="spacingAndGlyphs">0.5</text>
<line x1="1386.00" y1="180.85" x2="1389.00" y2="180.85" stroke="#000" stroke-width="1.1"/>
<text x="1374.50" y="185.35" font-size="17.6" text-anchor="end" textLength="25.20" lengthAdjust="spacingAndGlyphs">1.0</text>
<line x1="1386.00" y1="138.07" x2="1389.00" y2="138.07" stroke="#000" stroke-width="1.1"/>
<text x="1374.50" y="142.57" font-size="17.6" text-anchor="end" textLength="25.20" lengthAdjust="spacingAndGlyphs">1.5</text>
<line x1="1386.00" y1="95.30" x2="1389.00" y2="95.30" stroke="#000" stroke-width="1.1"/>
<text x="1374.50" y="99.80" font-size="17.6" text-anchor="end" textLength="28.62" lengthAdjust="spacingAndGlyphs">2.0</text>
<text transform="translate(1337.80,162.50) rotate(-90)" font-size="21" text-anchor="middle" fill="#000">BV (mV)</text>
<line x1="1601.10" y1="266.10" x2="1598.10" y2="266.10" stroke="#000" stroke-width="1.1"/>
<text x="1606.90" y="270.70" font-size="17.6" textLength="11.45" lengthAdjust="spacingAndGlyphs">0</text>
<line x1="1601.10" y1="232.97" x2="1598.10" y2="232.97" stroke="#000" stroke-width="1.1"/>
<text x="1606.90" y="237.57" font-size="17.6" textLength="28.62" lengthAdjust="spacingAndGlyphs">0.2</text>
<line x1="1601.10" y1="199.83" x2="1598.10" y2="199.83" stroke="#000" stroke-width="1.1"/>
<text x="1606.90" y="204.43" font-size="17.6" textLength="28.62" lengthAdjust="spacingAndGlyphs">0.4</text>
<line x1="1601.10" y1="166.70" x2="1598.10" y2="166.70" stroke="#000" stroke-width="1.1"/>
<text x="1606.90" y="171.30" font-size="17.6" textLength="28.62" lengthAdjust="spacingAndGlyphs">0.6</text>
<line x1="1601.10" y1="133.57" x2="1598.10" y2="133.57" stroke="#000" stroke-width="1.1"/>
<text x="1606.90" y="138.17" font-size="17.6" textLength="28.62" lengthAdjust="spacingAndGlyphs">0.8</text>
<line x1="1601.10" y1="100.43" x2="1598.10" y2="100.43" stroke="#000" stroke-width="1.1"/>
<text x="1606.90" y="105.03" font-size="17.6" textLength="25.20" lengthAdjust="spacingAndGlyphs">1.0</text>
<line x1="1601.10" y1="67.30" x2="1598.10" y2="67.30" stroke="#000" stroke-width="1.1"/>
<text x="1606.90" y="71.90" font-size="17.6" textLength="25.20" lengthAdjust="spacingAndGlyphs">1.2</text>
<text transform="translate(1640.20,161.80) rotate(90)" font-size="21" text-anchor="middle" fill="#0000ff" textLength="24.6" lengthAdjust="spacingAndGlyphs">IIR</text>
<line x1="1660.50" y1="58.30" x2="1660.50" y2="266.10" stroke="#000" stroke-width="1.3"/>
<line x1="1660.50" y1="265.70" x2="1657.50" y2="265.70" stroke="#000" stroke-width="1.1"/>
<text x="1670.80" y="271.40" font-size="17.6" textLength="11.45" lengthAdjust="spacingAndGlyphs">0</text>
<line x1="1660.50" y1="236.84" x2="1657.50" y2="236.84" stroke="#000" stroke-width="1.1"/>
<text x="1670.80" y="242.54" font-size="17.6" textLength="28.62" lengthAdjust="spacingAndGlyphs">0.5</text>
<line x1="1660.50" y1="207.99" x2="1657.50" y2="207.99" stroke="#000" stroke-width="1.1"/>
<text x="1670.80" y="213.69" font-size="17.6" textLength="25.20" lengthAdjust="spacingAndGlyphs">1.0</text>
<line x1="1660.50" y1="179.13" x2="1657.50" y2="179.13" stroke="#000" stroke-width="1.1"/>
<text x="1670.80" y="184.83" font-size="17.6" textLength="25.20" lengthAdjust="spacingAndGlyphs">1.5</text>
<line x1="1660.50" y1="150.27" x2="1657.50" y2="150.27" stroke="#000" stroke-width="1.1"/>
<text x="1670.80" y="155.97" font-size="17.6" textLength="28.62" lengthAdjust="spacingAndGlyphs">2.0</text>
<line x1="1660.50" y1="121.41" x2="1657.50" y2="121.41" stroke="#000" stroke-width="1.1"/>
<text x="1670.80" y="127.11" font-size="17.6" textLength="28.62" lengthAdjust="spacingAndGlyphs">2.5</text>
<line x1="1660.50" y1="92.56" x2="1657.50" y2="92.56" stroke="#000" stroke-width="1.1"/>
<text x="1670.80" y="98.26" font-size="17.6" textLength="28.62" lengthAdjust="spacingAndGlyphs">3.0</text>
<line x1="1660.50" y1="63.70" x2="1657.50" y2="63.70" stroke="#000" stroke-width="1.1"/>
<text x="1670.80" y="69.40" font-size="17.6" textLength="28.62" lengthAdjust="spacingAndGlyphs">3.5</text>
<text transform="translate(1710.30,161.30) rotate(90)" font-size="21" text-anchor="middle" fill="#ff0000">BA (s)</text>
<path d="M1394.40,84.60H1405.60V126.90L1404.10,128.90L1405.60,130.90V172.90H1394.40V130.90L1395.90,128.90L1394.40,126.90Z" fill="#fff" stroke="#000" stroke-width="1.2" stroke-linejoin="round"/>
<line x1="1400.00" y1="68.50" x2="1400.00" y2="84.60" stroke="#000" stroke-width="1.3"/>
<line x1="1397.20" y1="68.50" x2="1402.80" y2="68.50" stroke="#000" stroke-width="1.5"/>
<line x1="1400.00" y1="181.20" x2="1400.00" y2="172.90" stroke="#000" stroke-width="1.3"/>
<line x1="1397.20" y1="181.20" x2="1402.80" y2="181.20" stroke="#000" stroke-width="1.5"/>
<line x1="1395.90" y1="128.90" x2="1404.10" y2="128.90" stroke="#000" stroke-width="1.9"/>
<path d="M1407.80,112.20H1419.00V144.80L1417.50,146.80L1419.00,148.80V174.50H1407.80V148.80L1409.30,146.80L1407.80,144.80Z" fill="#a3a3ff" stroke="#0000ff" stroke-width="2.0" stroke-linejoin="round"/>
<line x1="1413.40" y1="97.70" x2="1413.40" y2="112.20" stroke="#0000ff" stroke-width="1.3"/>
<line x1="1410.60" y1="97.70" x2="1416.20" y2="97.70" stroke="#0000ff" stroke-width="1.5"/>
<line x1="1413.40" y1="189.40" x2="1413.40" y2="174.50" stroke="#0000ff" stroke-width="1.3"/>
<line x1="1410.60" y1="189.40" x2="1416.20" y2="189.40" stroke="#0000ff" stroke-width="1.5"/>
<line x1="1409.30" y1="146.80" x2="1417.50" y2="146.80" stroke="#0000ff" stroke-width="2.2"/>
<path d="M1421.20,102.40H1432.40V146.30L1430.90,148.30L1432.40,150.30V184.40H1421.20V150.30L1422.70,148.30L1421.20,146.30Z" fill="#ffa3a3" stroke="#ff0000" stroke-width="2.0" stroke-linejoin="round"/>
<line x1="1426.80" y1="68.50" x2="1426.80" y2="102.40" stroke="#ff0000" stroke-width="1.3"/>
<line x1="1424.00" y1="68.50" x2="1429.60" y2="68.50" stroke="#ff0000" stroke-width="1.5"/>
<line x1="1426.80" y1="201.50" x2="1426.80" y2="184.40" stroke="#ff0000" stroke-width="1.3"/>
<line x1="1424.00" y1="201.50" x2="1429.60" y2="201.50" stroke="#ff0000" stroke-width="1.5"/>
<line x1="1422.70" y1="148.30" x2="1430.90" y2="148.30" stroke="#ff0000" stroke-width="2.2"/>
<path d="M1448.10,122.50H1459.30V166.10L1457.80,168.10L1459.30,170.10V202.90H1448.10V170.10L1449.60,168.10L1448.10,166.10Z" fill="#fff" stroke="#000" stroke-width="1.2" stroke-linejoin="round"/>
<line x1="1453.70" y1="102.40" x2="1453.70" y2="122.50" stroke="#000" stroke-width="1.3"/>
<line x1="1450.90" y1="102.40" x2="1456.50" y2="102.40" stroke="#000" stroke-width="1.5"/>
<line x1="1453.70" y1="215.80" x2="1453.70" y2="202.90" stroke="#000" stroke-width="1.3"/>
<line x1="1450.90" y1="215.80" x2="1456.50" y2="215.80" stroke="#000" stroke-width="1.5"/>
<line x1="1449.60" y1="168.10" x2="1457.80" y2="168.10" stroke="#000" stroke-width="1.9"/>
<path d="M1461.40,110.20H1472.60V143.90L1471.10,145.90L1472.60,147.90V177.90H1461.40V147.90L1462.90,145.90L1461.40,143.90Z" fill="#a3a3ff" stroke="#0000ff" stroke-width="2.0" stroke-linejoin="round"/>
<line x1="1467.00" y1="94.70" x2="1467.00" y2="110.20" stroke="#0000ff" stroke-width="1.3"/>
<line x1="1464.20" y1="94.70" x2="1469.80" y2="94.70" stroke="#0000ff" stroke-width="1.5"/>
<line x1="1467.00" y1="191.60" x2="1467.00" y2="177.90" stroke="#0000ff" stroke-width="1.3"/>
<line x1="1464.20" y1="191.60" x2="1469.80" y2="191.60" stroke="#0000ff" stroke-width="1.5"/>
<line x1="1462.90" y1="145.90" x2="1471.10" y2="145.90" stroke="#0000ff" stroke-width="2.2"/>
<path d="M1475.10,178.10H1486.30V195.90L1484.80,197.90L1486.30,199.90V235.70H1475.10V199.90L1476.60,197.90L1475.10,195.90Z" fill="#ffa3a3" stroke="#ff0000" stroke-width="2.0" stroke-linejoin="round"/>
<line x1="1480.70" y1="164.20" x2="1480.70" y2="178.10" stroke="#ff0000" stroke-width="1.3"/>
<line x1="1477.90" y1="164.20" x2="1483.50" y2="164.20" stroke="#ff0000" stroke-width="1.5"/>
<line x1="1480.70" y1="237.20" x2="1480.70" y2="235.70" stroke="#ff0000" stroke-width="1.3"/>
<line x1="1477.90" y1="237.20" x2="1483.50" y2="237.20" stroke="#ff0000" stroke-width="1.5"/>
<line x1="1476.60" y1="197.90" x2="1484.80" y2="197.90" stroke="#ff0000" stroke-width="2.2"/>
<path d="M1501.30,154.60H1512.50V194.90L1511.00,196.90L1512.50,198.90V220.80H1501.30V198.90L1502.80,196.90L1501.30,194.90Z" fill="#fff" stroke="#000" stroke-width="1.2" stroke-linejoin="round"/>
<line x1="1506.90" y1="135.80" x2="1506.90" y2="154.60" stroke="#000" stroke-width="1.3"/>
<line x1="1504.10" y1="135.80" x2="1509.70" y2="135.80" stroke="#000" stroke-width="1.5"/>
<line x1="1506.90" y1="234.90" x2="1506.90" y2="220.80" stroke="#000" stroke-width="1.3"/>
<line x1="1504.10" y1="234.90" x2="1509.70" y2="234.90" stroke="#000" stroke-width="1.5"/>
<line x1="1502.80" y1="196.90" x2="1511.00" y2="196.90" stroke="#000" stroke-width="1.9"/>
<path d="M1515.00,104.20H1526.20V142.80L1524.70,144.80L1526.20,146.80V174.50H1515.00V146.80L1516.50,144.80L1515.00,142.80Z" fill="#a3a3ff" stroke="#0000ff" stroke-width="2.0" stroke-linejoin="round"/>
<line x1="1520.60" y1="88.70" x2="1520.60" y2="104.20" stroke="#0000ff" stroke-width="1.3"/>
<line x1="1517.80" y1="88.70" x2="1523.40" y2="88.70" stroke="#0000ff" stroke-width="1.5"/>
<line x1="1520.60" y1="189.20" x2="1520.60" y2="174.50" stroke="#0000ff" stroke-width="1.3"/>
<line x1="1517.80" y1="189.20" x2="1523.40" y2="189.20" stroke="#0000ff" stroke-width="1.5"/>
<line x1="1516.50" y1="144.80" x2="1524.70" y2="144.80" stroke="#0000ff" stroke-width="2.2"/>
<path d="M1528.70,195.80H1539.90V225.30L1538.40,227.30L1539.90,229.30V248.20H1528.70V229.30L1530.20,227.30L1528.70,225.30Z" fill="#ffa3a3" stroke="#ff0000" stroke-width="2.0" stroke-linejoin="round"/>
<line x1="1534.30" y1="189.20" x2="1534.30" y2="195.80" stroke="#ff0000" stroke-width="1.3"/>
<line x1="1531.50" y1="189.20" x2="1537.10" y2="189.20" stroke="#ff0000" stroke-width="1.5"/>
<line x1="1534.30" y1="251.50" x2="1534.30" y2="248.20" stroke="#ff0000" stroke-width="1.3"/>
<line x1="1531.50" y1="251.50" x2="1537.10" y2="251.50" stroke="#ff0000" stroke-width="1.5"/>
<line x1="1530.20" y1="227.30" x2="1538.40" y2="227.30" stroke="#ff0000" stroke-width="2.2"/>
<path d="M1555.00,163.50H1566.20V188.40L1564.70,190.40L1566.20,192.40V220.20H1555.00V192.40L1556.50,190.40L1555.00,188.40Z" fill="#fff" stroke="#000" stroke-width="1.2" stroke-linejoin="round"/>
<line x1="1560.60" y1="150.70" x2="1560.60" y2="163.50" stroke="#000" stroke-width="1.3"/>
<line x1="1557.80" y1="150.70" x2="1563.40" y2="150.70" stroke="#000" stroke-width="1.5"/>
<line x1="1560.60" y1="228.50" x2="1560.60" y2="220.20" stroke="#000" stroke-width="1.3"/>
<line x1="1557.80" y1="228.50" x2="1563.40" y2="228.50" stroke="#000" stroke-width="1.5"/>
<line x1="1556.50" y1="190.40" x2="1564.70" y2="190.40" stroke="#000" stroke-width="1.9"/>
<path d="M1568.70,75.60H1579.90V115.70L1578.40,117.70L1579.90,119.70V153.70H1568.70V119.70L1570.20,117.70L1568.70,115.70Z" fill="#a3a3ff" stroke="#0000ff" stroke-width="2.0" stroke-linejoin="round"/>
<line x1="1574.30" y1="68.50" x2="1574.30" y2="75.60" stroke="#0000ff" stroke-width="1.3"/>
<line x1="1571.50" y1="68.50" x2="1577.10" y2="68.50" stroke="#0000ff" stroke-width="1.5"/>
<line x1="1574.30" y1="165.60" x2="1574.30" y2="153.70" stroke="#0000ff" stroke-width="1.3"/>
<line x1="1571.50" y1="165.60" x2="1577.10" y2="165.60" stroke="#0000ff" stroke-width="1.5"/>
<line x1="1570.20" y1="117.70" x2="1578.40" y2="117.70" stroke="#0000ff" stroke-width="2.2"/>
<path d="M1583.00,188.00H1594.20V223.00L1592.70,225.00L1594.20,227.00V251.80H1583.00V227.00L1584.50,225.00L1583.00,223.00Z" fill="#ffa3a3" stroke="#ff0000" stroke-width="2.0" stroke-linejoin="round"/>
<line x1="1588.60" y1="183.20" x2="1588.60" y2="188.00" stroke="#ff0000" stroke-width="1.3"/>
<line x1="1585.80" y1="183.20" x2="1591.40" y2="183.20" stroke="#ff0000" stroke-width="1.5"/>
<line x1="1584.50" y1="225.00" x2="1592.70" y2="225.00" stroke="#ff0000" stroke-width="2.2"/>
<text transform="translate(1753.30,19.45) scale(1.1,1)" font-size="20" fill="#000" font-weight="bold" stroke="#000" stroke-width="0.9" stroke-linejoin="round">5</text>
<text x="1802.30" y="22.10" font-size="10.2" class="m" font-weight="bold" letter-spacing="1.08">TAWSS~</text>
<text x="1870.20" y="22.10" font-size="10.2" class="m" font-weight="bold" letter-spacing="1.08">BV</text>
<text x="1930.80" y="22.10" font-size="10.2" fill="#0000ff" class="m" font-weight="bold" letter-spacing="1.08">IIR</text>
<text x="2008.00" y="22.10" font-size="10.2" fill="#ff0000" class="m" font-weight="bold" letter-spacing="1.08">BA</text>
<text x="1814.40" y="35.70" font-size="10.5" class="m" font-weight="bold" font-style="italic">p</text>
<text x="1815.30" y="48.60" font-size="10.5" class="m" font-weight="bold" font-style="italic">r</text>
<text x="1894.00" y="35.70" font-size="10.0" text-anchor="end" fill="#222" class="m" letter-spacing="1.20">&lt;0.001</text>
<text x="1894.00" y="48.60" font-size="10.0" text-anchor="end" fill="#222" class="m" letter-spacing="1.20">-0.296</text>
<text x="1968.40" y="35.70" font-size="10.0" text-anchor="end" fill="#222" class="m" letter-spacing="1.20">&lt;0.001</text>
<text x="1968.40" y="48.60" font-size="10.0" text-anchor="end" fill="#222" class="m" letter-spacing="1.20">0.281</text>
<text x="2043.00" y="35.70" font-size="10.0" text-anchor="end" fill="#222" class="m" letter-spacing="1.20">&lt;0.001</text>
<text x="2043.00" y="48.60" font-size="10.0" text-anchor="end" fill="#222" class="m" letter-spacing="1.20">-0.552</text>
<rect x="1818.60" y="58.30" width="214.50" height="207.80" fill="none" stroke="#000" stroke-width="1.3"/>
<line x1="1845.80" y1="266.10" x2="1845.80" y2="263.10" stroke="#000" stroke-width="1.1"/>
<line x1="1899.40" y1="266.10" x2="1899.40" y2="263.10" stroke="#000" stroke-width="1.1"/>
<line x1="1953.00" y1="266.10" x2="1953.00" y2="263.10" stroke="#000" stroke-width="1.1"/>
<line x1="2006.40" y1="266.10" x2="2006.40" y2="263.10" stroke="#000" stroke-width="1.1"/>
<text x="1845.50" y="289.90" font-size="18.4" text-anchor="middle" textLength="21.6" lengthAdjust="spacingAndGlyphs">Q1</text>
<text x="1899.60" y="289.90" font-size="18.4" text-anchor="middle">Q2</text>
<text x="1953.20" y="289.90" font-size="18.4" text-anchor="middle">Q3</text>
<text x="2006.60" y="289.90" font-size="18.4" text-anchor="middle">Q4</text>
<text x="1925.20" y="322.80" font-size="21" text-anchor="middle" textLength="71.5" lengthAdjust="spacingAndGlyphs">TAWSS</text>
<line x1="1818.60" y1="266.50" x2="1821.60" y2="266.50" stroke="#000" stroke-width="1.1"/>
<text x="1808.80" y="271.30" font-size="17.6" text-anchor="end" textLength="11.45" lengthAdjust="spacingAndGlyphs">0</text>
<line x1="1818.60" y1="236.28" x2="1821.60" y2="236.28" stroke="#000" stroke-width="1.1"/>
<text x="1808.80" y="241.08" font-size="17.6" text-anchor="end" textLength="28.62" lengthAdjust="spacingAndGlyphs">0.5</text>
<line x1="1818.60" y1="206.07" x2="1821.60" y2="206.07" stroke="#000" stroke-width="1.1"/>
<text x="1808.80" y="210.87" font-size="17.6" text-anchor="end" textLength="25.20" lengthAdjust="spacingAndGlyphs">1.0</text>
<line x1="1818.60" y1="175.85" x2="1821.60" y2="175.85" stroke="#000" stroke-width="1.1"/>
<text x="1808.80" y="180.65" font-size="17.6" text-anchor="end" textLength="25.20" lengthAdjust="spacingAndGlyphs">1.5</text>
<line x1="1818.60" y1="145.63" x2="1821.60" y2="145.63" stroke="#000" stroke-width="1.1"/>
<text x="1808.80" y="150.43" font-size="17.6" text-anchor="end" textLength="28.62" lengthAdjust="spacingAndGlyphs">2.0</text>
<line x1="1818.60" y1="115.42" x2="1821.60" y2="115.42" stroke="#000" stroke-width="1.1"/>
<text x="1808.80" y="120.22" font-size="17.6" text-anchor="end" textLength="28.62" lengthAdjust="spacingAndGlyphs">2.5</text>
<line x1="1818.60" y1="85.20" x2="1821.60" y2="85.20" stroke="#000" stroke-width="1.1"/>
<text x="1808.80" y="90.00" font-size="17.6" text-anchor="end" textLength="28.62" lengthAdjust="spacingAndGlyphs">3.0</text>
<text transform="translate(1770.60,156.70) rotate(-90)" font-size="21" text-anchor="middle" fill="#000">BV (mV)</text>
<line x1="2033.10" y1="266.20" x2="2030.10" y2="266.20" stroke="#000" stroke-width="1.1"/>
<text x="2043.00" y="271.00" font-size="17.6" textLength="11.45" lengthAdjust="spacingAndGlyphs">0</text>
<line x1="2033.10" y1="230.58" x2="2030.10" y2="230.58" stroke="#000" stroke-width="1.1"/>
<text x="2043.00" y="235.38" font-size="17.6" textLength="28.62" lengthAdjust="spacingAndGlyphs">0.2</text>
<line x1="2033.10" y1="194.96" x2="2030.10" y2="194.96" stroke="#000" stroke-width="1.1"/>
<text x="2043.00" y="199.76" font-size="17.6" textLength="28.62" lengthAdjust="spacingAndGlyphs">0.4</text>
<line x1="2033.10" y1="159.34" x2="2030.10" y2="159.34" stroke="#000" stroke-width="1.1"/>
<text x="2043.00" y="164.14" font-size="17.6" textLength="28.62" lengthAdjust="spacingAndGlyphs">0.6</text>
<line x1="2033.10" y1="123.72" x2="2030.10" y2="123.72" stroke="#000" stroke-width="1.1"/>
<text x="2043.00" y="128.52" font-size="17.6" textLength="28.62" lengthAdjust="spacingAndGlyphs">0.8</text>
<line x1="2033.10" y1="88.10" x2="2030.10" y2="88.10" stroke="#000" stroke-width="1.1"/>
<text x="2043.00" y="92.90" font-size="17.6" textLength="25.20" lengthAdjust="spacingAndGlyphs">1.0</text>
<text transform="translate(2083.40,161.90) rotate(90)" font-size="21" text-anchor="middle" fill="#0000ff" textLength="24.6" lengthAdjust="spacingAndGlyphs">IIR</text>
<line x1="2104.90" y1="58.30" x2="2104.90" y2="266.10" stroke="#000" stroke-width="1.3"/>
<line x1="2104.90" y1="265.90" x2="2101.90" y2="265.90" stroke="#000" stroke-width="1.1"/>
<text x="2113.40" y="270.70" font-size="17.6" textLength="11.45" lengthAdjust="spacingAndGlyphs">0</text>
<line x1="2104.90" y1="225.46" x2="2101.90" y2="225.46" stroke="#000" stroke-width="1.1"/>
<text x="2113.40" y="230.26" font-size="17.6" textLength="10.08" lengthAdjust="spacingAndGlyphs">1</text>
<line x1="2104.90" y1="185.02" x2="2101.90" y2="185.02" stroke="#000" stroke-width="1.1"/>
<text x="2113.40" y="189.82" font-size="17.6" textLength="11.45" lengthAdjust="spacingAndGlyphs">2</text>
<line x1="2104.90" y1="144.58" x2="2101.90" y2="144.58" stroke="#000" stroke-width="1.1"/>
<text x="2113.40" y="149.38" font-size="17.6" textLength="11.45" lengthAdjust="spacingAndGlyphs">3</text>
<line x1="2104.90" y1="104.14" x2="2101.90" y2="104.14" stroke="#000" stroke-width="1.1"/>
<text x="2113.40" y="108.94" font-size="17.6" textLength="11.45" lengthAdjust="spacingAndGlyphs">4</text>
<line x1="2104.90" y1="63.70" x2="2101.90" y2="63.70" stroke="#000" stroke-width="1.1"/>
<text x="2113.40" y="68.50" font-size="17.6" textLength="11.45" lengthAdjust="spacingAndGlyphs">5</text>
<text transform="translate(2142.60,161.30) rotate(90)" font-size="21" text-anchor="middle" fill="#ff0000">BA (s)</text>
<path d="M1826.90,198.10H1838.10V233.30H1826.90Z" fill="#fff" stroke="#000" stroke-width="1.2" stroke-linejoin="round"/>
<line x1="1832.50" y1="68.50" x2="1832.50" y2="198.10" stroke="#000" stroke-width="1.3"/>
<line x1="1829.70" y1="68.50" x2="1835.30" y2="68.50" stroke="#000" stroke-width="1.5"/>
<line x1="1832.50" y1="265.50" x2="1832.50" y2="233.30" stroke="#000" stroke-width="1.3"/>
<line x1="1829.70" y1="265.50" x2="1835.30" y2="265.50" stroke="#000" stroke-width="1.5"/>
<line x1="1826.90" y1="218.40" x2="1838.10" y2="218.40" stroke="#000" stroke-width="1.9"/>
<path d="M1840.40,123.30H1851.60V159.60L1850.10,161.60L1851.60,163.60V191.20H1840.40V163.60L1841.90,161.60L1840.40,159.60Z" fill="#a3a3ff" stroke="#0000ff" stroke-width="2.0" stroke-linejoin="round"/>
<line x1="1846.00" y1="105.80" x2="1846.00" y2="123.30" stroke="#0000ff" stroke-width="1.3"/>
<line x1="1843.20" y1="105.80" x2="1848.80" y2="105.80" stroke="#0000ff" stroke-width="1.5"/>
<line x1="1846.00" y1="203.90" x2="1846.00" y2="191.20" stroke="#0000ff" stroke-width="1.3"/>
<line x1="1843.20" y1="203.90" x2="1848.80" y2="203.90" stroke="#0000ff" stroke-width="1.5"/>
<line x1="1841.90" y1="161.60" x2="1850.10" y2="161.60" stroke="#0000ff" stroke-width="2.2"/>
<path d="M1853.90,75.00H1865.10V87.10L1863.60,89.10L1865.10,91.10V118.90H1853.90V91.10L1855.40,89.10L1853.90,87.10Z" fill="#ffa3a3" stroke="#ff0000" stroke-width="2.0" stroke-linejoin="round"/>
<line x1="1859.50" y1="68.50" x2="1859.50" y2="75.00" stroke="#ff0000" stroke-width="1.3"/>
<line x1="1856.70" y1="68.50" x2="1862.30" y2="68.50" stroke="#ff0000" stroke-width="1.5"/>
<line x1="1859.50" y1="136.40" x2="1859.50" y2="118.90" stroke="#ff0000" stroke-width="1.3"/>
<line x1="1856.70" y1="136.40" x2="1862.30" y2="136.40" stroke="#ff0000" stroke-width="1.5"/>
<line x1="1855.40" y1="89.10" x2="1863.60" y2="89.10" stroke="#ff0000" stroke-width="2.2"/>
<path d="M1880.40,222.60H1891.60V250.30H1880.40Z" fill="#fff" stroke="#000" stroke-width="1.2" stroke-linejoin="round"/>
<line x1="1886.00" y1="204.30" x2="1886.00" y2="222.60" stroke="#000" stroke-width="1.3"/>
<line x1="1883.20" y1="204.30" x2="1888.80" y2="204.30" stroke="#000" stroke-width="1.5"/>
<line x1="1886.00" y1="264.30" x2="1886.00" y2="250.30" stroke="#000" stroke-width="1.3"/>
<line x1="1883.20" y1="264.30" x2="1888.80" y2="264.30" stroke="#000" stroke-width="1.5"/>
<line x1="1880.40" y1="237.70" x2="1891.60" y2="237.70" stroke="#000" stroke-width="1.9"/>
<path d="M1893.80,124.90H1905.00V147.50L1903.50,149.50L1905.00,151.50V178.80H1893.80V151.50L1895.30,149.50L1893.80,147.50Z" fill="#a3a3ff" stroke="#0000ff" stroke-width="2.0" stroke-linejoin="round"/>
<line x1="1899.40" y1="103.60" x2="1899.40" y2="124.90" stroke="#0000ff" stroke-width="1.3"/>
<line x1="1896.60" y1="103.60" x2="1902.20" y2="103.60" stroke="#0000ff" stroke-width="1.5"/>
<line x1="1899.40" y1="192.40" x2="1899.40" y2="178.80" stroke="#0000ff" stroke-width="1.3"/>
<line x1="1896.60" y1="192.40" x2="1902.20" y2="192.40" stroke="#0000ff" stroke-width="1.5"/>
<line x1="1895.30" y1="149.50" x2="1903.50" y2="149.50" stroke="#0000ff" stroke-width="2.2"/>
<path d="M1907.90,115.00H1919.10V139.20L1917.60,141.20L1919.10,143.20V176.10H1907.90V143.20L1909.40,141.20L1907.90,139.20Z" fill="#ffa3a3" stroke="#ff0000" stroke-width="2.0" stroke-linejoin="round"/>
<line x1="1913.50" y1="106.30" x2="1913.50" y2="115.00" stroke="#ff0000" stroke-width="1.3"/>
<line x1="1910.70" y1="106.30" x2="1916.30" y2="106.30" stroke="#ff0000" stroke-width="1.5"/>
<line x1="1913.50" y1="186.00" x2="1913.50" y2="176.10" stroke="#ff0000" stroke-width="1.3"/>
<line x1="1910.70" y1="186.00" x2="1916.30" y2="186.00" stroke="#ff0000" stroke-width="1.5"/>
<line x1="1909.40" y1="141.20" x2="1917.60" y2="141.20" stroke="#ff0000" stroke-width="2.2"/>
<path d="M1934.30,231.50H1945.50V258.00H1934.30Z" fill="#fff" stroke="#000" stroke-width="1.2" stroke-linejoin="round"/>
<line x1="1939.90" y1="224.40" x2="1939.90" y2="231.50" stroke="#000" stroke-width="1.3"/>
<line x1="1937.10" y1="224.40" x2="1942.70" y2="224.40" stroke="#000" stroke-width="1.5"/>
<line x1="1939.90" y1="260.40" x2="1939.90" y2="258.00" stroke="#000" stroke-width="1.3"/>
<line x1="1937.10" y1="260.40" x2="1942.70" y2="260.40" stroke="#000" stroke-width="1.5"/>
<line x1="1934.30" y1="244.00" x2="1945.50" y2="244.00" stroke="#000" stroke-width="1.9"/>
<path d="M1947.40,117.70H1958.60V146.70L1957.10,148.70L1958.60,150.70V180.50H1947.40V150.70L1948.90,148.70L1947.40,146.70Z" fill="#a3a3ff" stroke="#0000ff" stroke-width="2.0" stroke-linejoin="round"/>
<line x1="1953.00" y1="98.30" x2="1953.00" y2="117.70" stroke="#0000ff" stroke-width="1.3"/>
<line x1="1950.20" y1="98.30" x2="1955.80" y2="98.30" stroke="#0000ff" stroke-width="1.5"/>
<line x1="1953.00" y1="190.40" x2="1953.00" y2="180.50" stroke="#0000ff" stroke-width="1.3"/>
<line x1="1950.20" y1="190.40" x2="1955.80" y2="190.40" stroke="#0000ff" stroke-width="1.5"/>
<line x1="1948.90" y1="148.70" x2="1957.10" y2="148.70" stroke="#0000ff" stroke-width="2.2"/>
<path d="M1961.70,134.90H1972.90V164.70L1971.40,166.70L1972.90,168.70V199.90H1961.70V168.70L1963.20,166.70L1961.70,164.70Z" fill="#ffa3a3" stroke="#ff0000" stroke-width="2.0" stroke-linejoin="round"/>
<line x1="1967.30" y1="125.30" x2="1967.30" y2="134.90" stroke="#ff0000" stroke-width="1.3"/>
<line x1="1964.50" y1="125.30" x2="1970.10" y2="125.30" stroke="#ff0000" stroke-width="1.5"/>
<line x1="1967.30" y1="211.30" x2="1967.30" y2="199.90" stroke="#ff0000" stroke-width="1.3"/>
<line x1="1964.50" y1="211.30" x2="1970.10" y2="211.30" stroke="#ff0000" stroke-width="1.5"/>
<line x1="1963.20" y1="166.70" x2="1971.40" y2="166.70" stroke="#ff0000" stroke-width="2.2"/>
<path d="M1987.70,228.50H1998.90V252.70H1987.70Z" fill="#fff" stroke="#000" stroke-width="1.2" stroke-linejoin="round"/>
<line x1="1993.30" y1="223.80" x2="1993.30" y2="228.50" stroke="#000" stroke-width="1.3"/>
<line x1="1990.50" y1="223.80" x2="1996.10" y2="223.80" stroke="#000" stroke-width="1.5"/>
<line x1="1993.30" y1="255.90" x2="1993.30" y2="252.70" stroke="#000" stroke-width="1.3"/>
<line x1="1990.50" y1="255.90" x2="1996.10" y2="255.90" stroke="#000" stroke-width="1.5"/>
<line x1="1987.70" y1="239.90" x2="1998.90" y2="239.90" stroke="#000" stroke-width="1.9"/>
<path d="M2001.30,85.20H2012.50V131.20L2011.00,133.20L2012.50,135.20V168.00H2001.30V135.20L2002.80,133.20L2001.30,131.20Z" fill="#a3a3ff" stroke="#0000ff" stroke-width="2.0" stroke-linejoin="round"/>
<line x1="2006.90" y1="68.50" x2="2006.90" y2="85.20" stroke="#0000ff" stroke-width="1.3"/>
<line x1="2004.10" y1="68.50" x2="2009.70" y2="68.50" stroke="#0000ff" stroke-width="1.5"/>
<line x1="2006.90" y1="180.90" x2="2006.90" y2="168.00" stroke="#0000ff" stroke-width="1.3"/>
<line x1="2004.10" y1="180.90" x2="2009.70" y2="180.90" stroke="#0000ff" stroke-width="1.5"/>
<line x1="2002.80" y1="133.20" x2="2011.00" y2="133.20" stroke="#0000ff" stroke-width="2.2"/>
<path d="M2015.60,153.70H2026.80V188.40L2025.30,190.40L2026.80,192.40V226.10H2015.60V192.40L2017.10,190.40L2015.60,188.40Z" fill="#ffa3a3" stroke="#ff0000" stroke-width="2.0" stroke-linejoin="round"/>
<line x1="2021.20" y1="139.60" x2="2021.20" y2="153.70" stroke="#ff0000" stroke-width="1.3"/>
<line x1="2018.40" y1="139.60" x2="2024.00" y2="139.60" stroke="#ff0000" stroke-width="1.5"/>
<line x1="2021.20" y1="233.70" x2="2021.20" y2="226.10" stroke="#ff0000" stroke-width="1.3"/>
<line x1="2018.40" y1="233.70" x2="2024.00" y2="233.70" stroke="#ff0000" stroke-width="1.5"/>
<line x1="2017.10" y1="190.40" x2="2025.30" y2="190.40" stroke="#ff0000" stroke-width="2.2"/>
<text transform="translate(1.10,361.30) scale(1.05,1)" font-size="21" fill="#000" font-weight="normal">6</text>
<text x="59.40" y="362.10" font-size="10.2" class="m" font-weight="bold" letter-spacing="1.08">TAWSS~</text>
<text x="127.30" y="362.10" font-size="10.2" class="m" font-weight="bold" letter-spacing="1.08">BV</text>
<text x="187.90" y="362.10" font-size="10.2" fill="#0000ff" class="m" font-weight="bold" letter-spacing="1.08">IIR</text>
<text x="265.10" y="362.10" font-size="10.2" fill="#ff0000" class="m" font-weight="bold" letter-spacing="1.08">BA</text>
<text x="64.80" y="375.20" font-size="10.5" class="m" font-weight="bold" font-style="italic">p</text>
<text x="65.70" y="388.40" font-size="10.5" class="m" font-weight="bold" font-style="italic">r</text>
<text x="151.10" y="375.20" font-size="10.0" text-anchor="end" fill="#222" class="m" letter-spacing="1.20">&lt;0.001</text>
<text x="151.10" y="388.40" font-size="10.0" text-anchor="end" fill="#222" class="m" letter-spacing="1.20">-0.449</text>
<text x="225.50" y="375.20" font-size="10.0" text-anchor="end" fill="#222" class="m" letter-spacing="1.20">&lt;0.001</text>
<text x="225.50" y="388.40" font-size="10.0" text-anchor="end" fill="#222" class="m" letter-spacing="1.20">0.071</text>
<text x="300.10" y="375.20" font-size="10.0" text-anchor="end" fill="#222" class="m" letter-spacing="1.20">&lt;0.001</text>
<text x="300.10" y="388.40" font-size="10.0" text-anchor="end" fill="#222" class="m" letter-spacing="1.20">-0.587</text>
<rect x="69.30" y="396.60" width="214.80" height="208.00" fill="none" stroke="#000" stroke-width="1.3"/>
<line x1="96.40" y1="604.60" x2="96.40" y2="601.60" stroke="#000" stroke-width="1.1"/>
<line x1="150.00" y1="604.60" x2="150.00" y2="601.60" stroke="#000" stroke-width="1.1"/>
<line x1="203.60" y1="604.60" x2="203.60" y2="601.60" stroke="#000" stroke-width="1.1"/>
<line x1="256.70" y1="604.60" x2="256.70" y2="601.60" stroke="#000" stroke-width="1.1"/>
<text x="96.10" y="628.60" font-size="18.4" text-anchor="middle" textLength="21.6" lengthAdjust="spacingAndGlyphs">Q1</text>
<text x="150.20" y="628.60" font-size="18.4" text-anchor="middle">Q2</text>
<text x="203.80" y="628.60" font-size="18.4" text-anchor="middle">Q3</text>
<text x="256.90" y="628.60" font-size="18.4" text-anchor="middle">Q4</text>
<text x="181.30" y="660.90" font-size="21" text-anchor="middle" textLength="71.5" lengthAdjust="spacingAndGlyphs">TAWSS</text>
<line x1="69.30" y1="604.50" x2="72.30" y2="604.50" stroke="#000" stroke-width="1.1"/>
<text x="59.50" y="608.00" font-size="17.6" text-anchor="end" textLength="11.45" lengthAdjust="spacingAndGlyphs">0</text>
<line x1="69.30" y1="580.39" x2="72.30" y2="580.39" stroke="#000" stroke-width="1.1"/>
<text x="59.50" y="583.89" font-size="17.6" text-anchor="end" textLength="28.62" lengthAdjust="spacingAndGlyphs">0.5</text>
<line x1="69.30" y1="556.27" x2="72.30" y2="556.27" stroke="#000" stroke-width="1.1"/>
<text x="59.50" y="559.77" font-size="17.6" text-anchor="end" textLength="25.20" lengthAdjust="spacingAndGlyphs">1.0</text>
<line x1="69.30" y1="532.16" x2="72.30" y2="532.16" stroke="#000" stroke-width="1.1"/>
<text x="59.50" y="535.66" font-size="17.6" text-anchor="end" textLength="25.20" lengthAdjust="spacingAndGlyphs">1.5</text>
<line x1="69.30" y1="508.05" x2="72.30" y2="508.05" stroke="#000" stroke-width="1.1"/>
<text x="59.50" y="511.55" font-size="17.6" text-anchor="end" textLength="28.62" lengthAdjust="spacingAndGlyphs">2.0</text>
<line x1="69.30" y1="483.94" x2="72.30" y2="483.94" stroke="#000" stroke-width="1.1"/>
<text x="59.50" y="487.44" font-size="17.6" text-anchor="end" textLength="28.62" lengthAdjust="spacingAndGlyphs">2.5</text>
<line x1="69.30" y1="459.83" x2="72.30" y2="459.83" stroke="#000" stroke-width="1.1"/>
<text x="59.50" y="463.33" font-size="17.6" text-anchor="end" textLength="28.62" lengthAdjust="spacingAndGlyphs">3.0</text>
<line x1="69.30" y1="435.71" x2="72.30" y2="435.71" stroke="#000" stroke-width="1.1"/>
<text x="59.50" y="439.21" font-size="17.6" text-anchor="end" textLength="28.62" lengthAdjust="spacingAndGlyphs">3.5</text>
<line x1="69.30" y1="411.60" x2="72.30" y2="411.60" stroke="#000" stroke-width="1.1"/>
<text x="59.50" y="415.10" font-size="17.6" text-anchor="end" textLength="28.62" lengthAdjust="spacingAndGlyphs">4.0</text>
<text transform="translate(18.60,501.30) rotate(-90)" font-size="21" text-anchor="middle" fill="#000">BV (mV)</text>
<line x1="284.10" y1="604.50" x2="281.10" y2="604.50" stroke="#000" stroke-width="1.1"/>
<text x="291.90" y="609.30" font-size="17.6" textLength="11.45" lengthAdjust="spacingAndGlyphs">0</text>
<line x1="284.10" y1="579.38" x2="281.10" y2="579.38" stroke="#000" stroke-width="1.1"/>
<text x="291.90" y="584.17" font-size="17.6" textLength="28.62" lengthAdjust="spacingAndGlyphs">0.2</text>
<line x1="284.10" y1="554.25" x2="281.10" y2="554.25" stroke="#000" stroke-width="1.1"/>
<text x="291.90" y="559.05" font-size="17.6" textLength="28.62" lengthAdjust="spacingAndGlyphs">0.4</text>
<line x1="284.10" y1="529.12" x2="281.10" y2="529.12" stroke="#000" stroke-width="1.1"/>
<text x="291.90" y="533.92" font-size="17.6" textLength="28.62" lengthAdjust="spacingAndGlyphs">0.6</text>
<line x1="284.10" y1="504.00" x2="281.10" y2="504.00" stroke="#000" stroke-width="1.1"/>
<text x="291.90" y="508.80" font-size="17.6" textLength="28.62" lengthAdjust="spacingAndGlyphs">0.8</text>
<line x1="284.10" y1="478.88" x2="281.10" y2="478.88" stroke="#000" stroke-width="1.1"/>
<text x="291.90" y="483.68" font-size="17.6" textLength="25.20" lengthAdjust="spacingAndGlyphs">1.0</text>
<line x1="284.10" y1="453.75" x2="281.10" y2="453.75" stroke="#000" stroke-width="1.1"/>
<text x="291.90" y="458.55" font-size="17.6" textLength="25.20" lengthAdjust="spacingAndGlyphs">1.2</text>
<line x1="284.10" y1="428.62" x2="281.10" y2="428.62" stroke="#000" stroke-width="1.1"/>
<text x="291.90" y="433.43" font-size="17.6" textLength="25.20" lengthAdjust="spacingAndGlyphs">1.4</text>
<line x1="284.10" y1="403.50" x2="281.10" y2="403.50" stroke="#000" stroke-width="1.1"/>
<text x="291.90" y="408.30" font-size="17.6" textLength="25.20" lengthAdjust="spacingAndGlyphs">1.6</text>
<text transform="translate(333.10,499.60) rotate(90)" font-size="21" text-anchor="middle" fill="#0000ff" textLength="24.6" lengthAdjust="spacingAndGlyphs">IIR</text>
<line x1="360.30" y1="396.60" x2="360.30" y2="604.60" stroke="#000" stroke-width="1.3"/>
<line x1="360.30" y1="604.60" x2="357.30" y2="604.60" stroke="#000" stroke-width="1.1"/>
<text x="367.20" y="609.80" font-size="17.6" textLength="11.45" lengthAdjust="spacingAndGlyphs">0</text>
<line x1="360.30" y1="577.04" x2="357.30" y2="577.04" stroke="#000" stroke-width="1.1"/>
<text x="367.20" y="582.24" font-size="17.6" textLength="10.08" lengthAdjust="spacingAndGlyphs">1</text>
<line x1="360.30" y1="549.49" x2="357.30" y2="549.49" stroke="#000" stroke-width="1.1"/>
<text x="367.20" y="554.69" font-size="17.6" textLength="11.45" lengthAdjust="spacingAndGlyphs">2</text>
<line x1="360.30" y1="521.93" x2="357.30" y2="521.93" stroke="#000" stroke-width="1.1"/>
<text x="367.20" y="527.13" font-size="17.6" textLength="11.45" lengthAdjust="spacingAndGlyphs">3</text>
<line x1="360.30" y1="494.37" x2="357.30" y2="494.37" stroke="#000" stroke-width="1.1"/>
<text x="367.20" y="499.57" font-size="17.6" textLength="11.45" lengthAdjust="spacingAndGlyphs">4</text>
<line x1="360.30" y1="466.81" x2="357.30" y2="466.81" stroke="#000" stroke-width="1.1"/>
<text x="367.20" y="472.01" font-size="17.6" textLength="11.45" lengthAdjust="spacingAndGlyphs">5</text>
<line x1="360.30" y1="439.26" x2="357.30" y2="439.26" stroke="#000" stroke-width="1.1"/>
<text x="367.20" y="444.46" font-size="17.6" textLength="11.45" lengthAdjust="spacingAndGlyphs">6</text>
<line x1="360.30" y1="411.70" x2="357.30" y2="411.70" stroke="#000" stroke-width="1.1"/>
<text x="367.20" y="416.90" font-size="17.6" textLength="11.45" lengthAdjust="spacingAndGlyphs">7</text>
<text transform="translate(397.60,500.10) rotate(90)" font-size="21" text-anchor="middle" fill="#ff0000">BA (s)</text>
<path d="M77.30,419.90H88.50V462.90L87.00,464.90L88.50,466.90V560.00H77.30V466.90L78.80,464.90L77.30,462.90Z" fill="#fff" stroke="#000" stroke-width="1.2" stroke-linejoin="round"/>
<line x1="82.90" y1="406.50" x2="82.90" y2="419.90" stroke="#000" stroke-width="1.3"/>
<line x1="80.10" y1="406.50" x2="85.70" y2="406.50" stroke="#000" stroke-width="1.5"/>
<line x1="82.90" y1="549.50" x2="82.90" y2="560.00" stroke="#000" stroke-width="1.3"/>
<line x1="80.10" y1="549.50" x2="85.70" y2="549.50" stroke="#000" stroke-width="1.5"/>
<line x1="78.80" y1="464.90" x2="87.00" y2="464.90" stroke="#000" stroke-width="1.9"/>
<path d="M90.80,440.40H102.00V461.70L100.50,463.70L102.00,465.70V492.90H90.80V465.70L92.30,463.70L90.80,461.70Z" fill="#a3a3ff" stroke="#0000ff" stroke-width="2.0" stroke-linejoin="round"/>
<line x1="96.40" y1="427.70" x2="96.40" y2="440.40" stroke="#0000ff" stroke-width="1.3"/>
<line x1="93.60" y1="427.70" x2="99.20" y2="427.70" stroke="#0000ff" stroke-width="1.5"/>
<line x1="96.40" y1="518.00" x2="96.40" y2="492.90" stroke="#0000ff" stroke-width="1.3"/>
<line x1="93.60" y1="518.00" x2="99.20" y2="518.00" stroke="#0000ff" stroke-width="1.5"/>
<line x1="92.30" y1="463.70" x2="100.50" y2="463.70" stroke="#0000ff" stroke-width="2.2"/>
<path d="M104.50,413.30H115.70V432.50L114.20,434.50L115.70,436.50V492.90H104.50V436.50L106.00,434.50L104.50,432.50Z" fill="#ffa3a3" stroke="#ff0000" stroke-width="2.0" stroke-linejoin="round"/>
<line x1="110.10" y1="406.50" x2="110.10" y2="413.30" stroke="#ff0000" stroke-width="1.3"/>
<line x1="107.30" y1="406.50" x2="112.90" y2="406.50" stroke="#ff0000" stroke-width="1.5"/>
<line x1="110.10" y1="507.60" x2="110.10" y2="492.90" stroke="#ff0000" stroke-width="1.3"/>
<line x1="107.30" y1="507.60" x2="112.90" y2="507.60" stroke="#ff0000" stroke-width="1.5"/>
<line x1="106.00" y1="434.50" x2="114.20" y2="434.50" stroke="#ff0000" stroke-width="2.2"/>
<path d="M130.70,493.50H141.90V533.90L140.40,535.90L141.90,537.90V567.70H130.70V537.90L132.20,535.90L130.70,533.90Z" fill="#fff" stroke="#000" stroke-width="1.2" stroke-linejoin="round"/>
<line x1="136.30" y1="450.60" x2="136.30" y2="493.50" stroke="#000" stroke-width="1.3"/>
<line x1="133.50" y1="450.60" x2="139.10" y2="450.60" stroke="#000" stroke-width="1.5"/>
<line x1="136.30" y1="587.20" x2="136.30" y2="567.70" stroke="#000" stroke-width="1.3"/>
<line x1="133.50" y1="587.20" x2="139.10" y2="587.20" stroke="#000" stroke-width="1.5"/>
<line x1="132.20" y1="535.90" x2="140.40" y2="535.90" stroke="#000" stroke-width="1.9"/>
<path d="M144.40,417.20H155.60V443.20L154.10,445.20L155.60,447.20V470.80H144.40V447.20L145.90,445.20L144.40,443.20Z" fill="#a3a3ff" stroke="#0000ff" stroke-width="2.0" stroke-linejoin="round"/>
<line x1="150.00" y1="406.50" x2="150.00" y2="417.20" stroke="#0000ff" stroke-width="1.3"/>
<line x1="147.20" y1="406.50" x2="152.80" y2="406.50" stroke="#0000ff" stroke-width="1.5"/>
<line x1="150.00" y1="485.10" x2="150.00" y2="470.80" stroke="#0000ff" stroke-width="1.3"/>
<line x1="147.20" y1="485.10" x2="152.80" y2="485.10" stroke="#0000ff" stroke-width="1.5"/>
<line x1="145.90" y1="445.20" x2="154.10" y2="445.20" stroke="#0000ff" stroke-width="2.2"/>
<path d="M158.10,497.90H169.30V532.70L167.80,534.70L169.30,536.70V570.10H158.10V536.70L159.60,534.70L158.10,532.70Z" fill="#ffa3a3" stroke="#ff0000" stroke-width="2.0" stroke-linejoin="round"/>
<line x1="163.70" y1="484.30" x2="163.70" y2="497.90" stroke="#ff0000" stroke-width="1.3"/>
<line x1="160.90" y1="484.30" x2="166.50" y2="484.30" stroke="#ff0000" stroke-width="1.5"/>
<line x1="163.70" y1="574.90" x2="163.70" y2="570.10" stroke="#ff0000" stroke-width="1.3"/>
<line x1="160.90" y1="574.90" x2="166.50" y2="574.90" stroke="#ff0000" stroke-width="1.5"/>
<line x1="159.60" y1="534.70" x2="167.80" y2="534.70" stroke="#ff0000" stroke-width="2.2"/>
<path d="M184.90,536.70H196.10V564.50L194.60,566.50L196.10,568.50V587.60H184.90V568.50L186.40,566.50L184.90,564.50Z" fill="#fff" stroke="#000" stroke-width="1.2" stroke-linejoin="round"/>
<line x1="190.50" y1="494.70" x2="190.50" y2="536.70" stroke="#000" stroke-width="1.3"/>
<line x1="187.70" y1="494.70" x2="193.30" y2="494.70" stroke="#000" stroke-width="1.5"/>
<line x1="190.50" y1="604.10" x2="190.50" y2="587.60" stroke="#000" stroke-width="1.3"/>
<line x1="187.70" y1="604.10" x2="193.30" y2="604.10" stroke="#000" stroke-width="1.5"/>
<line x1="186.40" y1="566.50" x2="194.60" y2="566.50" stroke="#000" stroke-width="1.9"/>
<path d="M198.00,436.30H209.20V461.70L207.70,463.70L209.20,465.70V485.10H198.00V465.70L199.50,463.70L198.00,461.70Z" fill="#a3a3ff" stroke="#0000ff" stroke-width="2.0" stroke-linejoin="round"/>
<line x1="203.60" y1="424.40" x2="203.60" y2="436.30" stroke="#0000ff" stroke-width="1.3"/>
<line x1="200.80" y1="424.40" x2="206.40" y2="424.40" stroke="#0000ff" stroke-width="1.5"/>
<line x1="203.60" y1="499.40" x2="203.60" y2="485.10" stroke="#0000ff" stroke-width="1.3"/>
<line x1="200.80" y1="499.40" x2="206.40" y2="499.40" stroke="#0000ff" stroke-width="1.5"/>
<line x1="199.50" y1="463.70" x2="207.70" y2="463.70" stroke="#0000ff" stroke-width="2.2"/>
<path d="M212.00,543.50H223.20V573.50L221.70,575.50L223.20,577.50V593.10H212.00V577.50L213.50,575.50L212.00,573.50Z" fill="#ffa3a3" stroke="#ff0000" stroke-width="2.0" stroke-linejoin="round"/>
<line x1="217.60" y1="517.70" x2="217.60" y2="543.50" stroke="#ff0000" stroke-width="1.3"/>
<line x1="214.80" y1="517.70" x2="220.40" y2="517.70" stroke="#ff0000" stroke-width="1.5"/>
<line x1="217.60" y1="601.90" x2="217.60" y2="593.10" stroke="#ff0000" stroke-width="1.3"/>
<line x1="214.80" y1="601.90" x2="220.40" y2="601.90" stroke="#ff0000" stroke-width="1.5"/>
<line x1="213.50" y1="575.50" x2="221.70" y2="575.50" stroke="#ff0000" stroke-width="2.2"/>
<path d="M237.90,545.40H249.10V567.50L247.60,569.50L249.10,571.50V585.00H237.90V571.50L239.40,569.50L237.90,567.50Z" fill="#fff" stroke="#000" stroke-width="1.2" stroke-linejoin="round"/>
<line x1="243.50" y1="528.80" x2="243.50" y2="545.40" stroke="#000" stroke-width="1.3"/>
<line x1="240.70" y1="528.80" x2="246.30" y2="528.80" stroke="#000" stroke-width="1.5"/>
<line x1="243.50" y1="593.90" x2="243.50" y2="585.00" stroke="#000" stroke-width="1.3"/>
<line x1="240.70" y1="593.90" x2="246.30" y2="593.90" stroke="#000" stroke-width="1.5"/>
<line x1="239.40" y1="569.50" x2="247.60" y2="569.50" stroke="#000" stroke-width="1.9"/>
<path d="M251.70,434.70H262.90V462.00L261.40,464.00L262.90,466.00V494.10H251.70V466.00L253.20,464.00L251.70,462.00Z" fill="#a3a3ff" stroke="#0000ff" stroke-width="2.0" stroke-linejoin="round"/>
<line x1="257.30" y1="426.10" x2="257.30" y2="434.70" stroke="#0000ff" stroke-width="1.3"/>
<line x1="254.50" y1="426.10" x2="260.10" y2="426.10" stroke="#0000ff" stroke-width="1.5"/>
<line x1="257.30" y1="504.20" x2="257.30" y2="494.10" stroke="#0000ff" stroke-width="1.3"/>
<line x1="254.50" y1="504.20" x2="260.10" y2="504.20" stroke="#0000ff" stroke-width="1.5"/>
<line x1="253.20" y1="464.00" x2="261.40" y2="464.00" stroke="#0000ff" stroke-width="2.2"/>
<path d="M265.60,549.00H276.80V591.00H265.60Z" fill="#ffa3a3" stroke="#ff0000" stroke-width="2.0" stroke-linejoin="round"/>
<line x1="271.20" y1="531.40" x2="271.20" y2="549.00" stroke="#ff0000" stroke-width="1.3"/>
<line x1="268.40" y1="531.40" x2="274.00" y2="531.40" stroke="#ff0000" stroke-width="1.5"/>
<line x1="271.20" y1="599.50" x2="271.20" y2="591.00" stroke="#ff0000" stroke-width="1.3"/>
<line x1="268.40" y1="599.50" x2="274.00" y2="599.50" stroke="#ff0000" stroke-width="1.5"/>
<line x1="265.60" y1="576.90" x2="276.80" y2="576.90" stroke="#ff0000" stroke-width="2.2"/>
<text transform="translate(445.60,361.10) scale(1.0,1)" font-size="21" fill="#000" font-weight="normal">7</text>
<text x="503.40" y="362.90" font-size="10.2" class="m" font-weight="bold" letter-spacing="1.08">TAWSS~</text>
<text x="571.30" y="362.90" font-size="10.2" class="m" font-weight="bold" letter-spacing="1.08">BV</text>
<text x="631.90" y="362.90" font-size="10.2" fill="#0000ff" class="m" font-weight="bold" letter-spacing="1.08">IIR</text>
<text x="709.10" y="362.90" font-size="10.2" fill="#ff0000" class="m" font-weight="bold" letter-spacing="1.08">BA</text>
<text x="513.70" y="375.90" font-size="10.5" class="m" font-weight="bold" font-style="italic">p</text>
<text x="514.60" y="389.20" font-size="10.5" class="m" font-weight="bold" font-style="italic">r</text>
<text x="595.10" y="375.90" font-size="10.0" text-anchor="end" fill="#222" class="m" letter-spacing="1.20">&lt;0.001</text>
<text x="595.10" y="389.20" font-size="10.0" text-anchor="end" fill="#222" class="m" letter-spacing="1.20">-0.285</text>
<text x="669.50" y="375.90" font-size="10.0" text-anchor="end" fill="#222" class="m" letter-spacing="1.20">&lt;0.001</text>
<text x="669.50" y="389.20" font-size="10.0" text-anchor="end" fill="#222" class="m" letter-spacing="1.20">0.241</text>
<text x="744.10" y="375.90" font-size="10.0" text-anchor="end" fill="#222" class="m" letter-spacing="1.20">&lt;0.001</text>
<text x="744.10" y="389.20" font-size="10.0" text-anchor="end" fill="#222" class="m" letter-spacing="1.20">-0.268</text>
<rect x="511.60" y="396.60" width="214.90" height="208.10" fill="none" stroke="#000" stroke-width="1.3"/>
<line x1="538.40" y1="604.70" x2="538.40" y2="601.70" stroke="#000" stroke-width="1.1"/>
<line x1="592.10" y1="604.70" x2="592.10" y2="601.70" stroke="#000" stroke-width="1.1"/>
<line x1="645.60" y1="604.70" x2="645.60" y2="601.70" stroke="#000" stroke-width="1.1"/>
<line x1="699.30" y1="604.70" x2="699.30" y2="601.70" stroke="#000" stroke-width="1.1"/>
<text x="538.10" y="628.80" font-size="18.4" text-anchor="middle" textLength="21.6" lengthAdjust="spacingAndGlyphs">Q1</text>
<text x="592.30" y="628.80" font-size="18.4" text-anchor="middle">Q2</text>
<text x="645.80" y="628.80" font-size="18.4" text-anchor="middle">Q3</text>
<text x="699.50" y="628.80" font-size="18.4" text-anchor="middle">Q4</text>
<text x="618.40" y="660.90" font-size="21" text-anchor="middle" textLength="71.5" lengthAdjust="spacingAndGlyphs">TAWSS</text>
<line x1="511.60" y1="604.70" x2="514.60" y2="604.70" stroke="#000" stroke-width="1.1"/>
<text x="499.50" y="609.30" font-size="17.6" text-anchor="end" textLength="11.45" lengthAdjust="spacingAndGlyphs">0</text>
<line x1="511.60" y1="579.96" x2="514.60" y2="579.96" stroke="#000" stroke-width="1.1"/>
<text x="499.50" y="584.56" font-size="17.6" text-anchor="end" textLength="28.62" lengthAdjust="spacingAndGlyphs">0.5</text>
<line x1="511.60" y1="555.23" x2="514.60" y2="555.23" stroke="#000" stroke-width="1.1"/>
<text x="499.50" y="559.83" font-size="17.6" text-anchor="end" textLength="25.20" lengthAdjust="spacingAndGlyphs">1.0</text>
<line x1="511.60" y1="530.49" x2="514.60" y2="530.49" stroke="#000" stroke-width="1.1"/>
<text x="499.50" y="535.09" font-size="17.6" text-anchor="end" textLength="25.20" lengthAdjust="spacingAndGlyphs">1.5</text>
<line x1="511.60" y1="505.75" x2="514.60" y2="505.75" stroke="#000" stroke-width="1.1"/>
<text x="499.50" y="510.35" font-size="17.6" text-anchor="end" textLength="28.62" lengthAdjust="spacingAndGlyphs">2.0</text>
<line x1="511.60" y1="481.01" x2="514.60" y2="481.01" stroke="#000" stroke-width="1.1"/>
<text x="499.50" y="485.61" font-size="17.6" text-anchor="end" textLength="28.62" lengthAdjust="spacingAndGlyphs">2.5</text>
<line x1="511.60" y1="456.28" x2="514.60" y2="456.28" stroke="#000" stroke-width="1.1"/>
<text x="499.50" y="460.88" font-size="17.6" text-anchor="end" textLength="28.62" lengthAdjust="spacingAndGlyphs">3.0</text>
<line x1="511.60" y1="431.54" x2="514.60" y2="431.54" stroke="#000" stroke-width="1.1"/>
<text x="499.50" y="436.14" font-size="17.6" text-anchor="end" textLength="28.62" lengthAdjust="spacingAndGlyphs">3.5</text>
<line x1="511.60" y1="406.80" x2="514.60" y2="406.80" stroke="#000" stroke-width="1.1"/>
<text x="499.50" y="411.40" font-size="17.6" text-anchor="end" textLength="28.62" lengthAdjust="spacingAndGlyphs">4.0</text>
<text transform="translate(463.80,501.30) rotate(-90)" font-size="21" text-anchor="middle" fill="#000">BV (mV)</text>
<line x1="726.50" y1="604.50" x2="723.50" y2="604.50" stroke="#000" stroke-width="1.1"/>
<text x="735.70" y="609.50" font-size="17.6" textLength="11.45" lengthAdjust="spacingAndGlyphs">0</text>
<line x1="726.50" y1="537.10" x2="723.50" y2="537.10" stroke="#000" stroke-width="1.1"/>
<text x="735.70" y="542.10" font-size="17.6" textLength="28.62" lengthAdjust="spacingAndGlyphs">0.5</text>
<line x1="726.50" y1="469.70" x2="723.50" y2="469.70" stroke="#000" stroke-width="1.1"/>
<text x="735.70" y="474.70" font-size="17.6" textLength="25.20" lengthAdjust="spacingAndGlyphs">1.0</text>
<line x1="726.50" y1="402.30" x2="723.50" y2="402.30" stroke="#000" stroke-width="1.1"/>
<text x="735.70" y="407.30" font-size="17.6" textLength="25.20" lengthAdjust="spacingAndGlyphs">1.5</text>
<text transform="translate(761.30,499.60) rotate(90)" font-size="21" text-anchor="middle" fill="#0000ff" textLength="24.6" lengthAdjust="spacingAndGlyphs">IIR</text>
<line x1="787.80" y1="396.60" x2="787.80" y2="604.70" stroke="#000" stroke-width="1.3"/>
<line x1="787.80" y1="603.90" x2="784.80" y2="603.90" stroke="#000" stroke-width="1.1"/>
<text x="796.90" y="608.50" font-size="17.6" textLength="11.45" lengthAdjust="spacingAndGlyphs">0</text>
<line x1="787.80" y1="566.10" x2="784.80" y2="566.10" stroke="#000" stroke-width="1.1"/>
<text x="796.90" y="570.70" font-size="17.6" textLength="28.62" lengthAdjust="spacingAndGlyphs">0.2</text>
<line x1="787.80" y1="528.30" x2="784.80" y2="528.30" stroke="#000" stroke-width="1.1"/>
<text x="796.90" y="532.90" font-size="17.6" textLength="28.62" lengthAdjust="spacingAndGlyphs">0.4</text>
<line x1="787.80" y1="490.50" x2="784.80" y2="490.50" stroke="#000" stroke-width="1.1"/>
<text x="796.90" y="495.10" font-size="17.6" textLength="28.62" lengthAdjust="spacingAndGlyphs">0.6</text>
<line x1="787.80" y1="452.70" x2="784.80" y2="452.70" stroke="#000" stroke-width="1.1"/>
<text x="796.90" y="457.30" font-size="17.6" textLength="28.62" lengthAdjust="spacingAndGlyphs">0.8</text>
<line x1="787.80" y1="414.90" x2="784.80" y2="414.90" stroke="#000" stroke-width="1.1"/>
<text x="796.90" y="419.50" font-size="17.6" textLength="25.20" lengthAdjust="spacingAndGlyphs">1.0</text>
<text transform="translate(843.30,499.90) rotate(90)" font-size="21" text-anchor="middle" fill="#ff0000">BA (s)</text>
<path d="M519.70,425.50H530.90V452.10L529.40,454.10L530.90,456.10V494.70H519.70V456.10L521.20,454.10L519.70,452.10Z" fill="#fff" stroke="#000" stroke-width="1.2" stroke-linejoin="round"/>
<line x1="525.30" y1="406.50" x2="525.30" y2="425.50" stroke="#000" stroke-width="1.3"/>
<line x1="522.50" y1="406.50" x2="528.10" y2="406.50" stroke="#000" stroke-width="1.5"/>
<line x1="525.30" y1="504.00" x2="525.30" y2="494.70" stroke="#000" stroke-width="1.3"/>
<line x1="522.50" y1="504.00" x2="528.10" y2="504.00" stroke="#000" stroke-width="1.5"/>
<line x1="521.20" y1="454.10" x2="529.40" y2="454.10" stroke="#000" stroke-width="1.9"/>
<path d="M533.10,427.30H544.30V470.00L542.80,472.00L544.30,474.00V514.10H533.10V474.00L534.60,472.00L533.10,470.00Z" fill="#a3a3ff" stroke="#0000ff" stroke-width="2.0" stroke-linejoin="round"/>
<line x1="538.70" y1="419.90" x2="538.70" y2="427.30" stroke="#0000ff" stroke-width="1.3"/>
<line x1="535.90" y1="419.90" x2="541.50" y2="419.90" stroke="#0000ff" stroke-width="1.5"/>
<line x1="538.70" y1="525.40" x2="538.70" y2="514.10" stroke="#0000ff" stroke-width="1.3"/>
<line x1="535.90" y1="525.40" x2="541.50" y2="525.40" stroke="#0000ff" stroke-width="1.5"/>
<line x1="534.60" y1="472.00" x2="542.80" y2="472.00" stroke="#0000ff" stroke-width="2.2"/>
<path d="M546.60,429.70H557.80V463.70L556.30,465.70L557.80,467.70V503.40H546.60V467.70L548.10,465.70L546.60,463.70Z" fill="#ffa3a3" stroke="#ff0000" stroke-width="2.0" stroke-linejoin="round"/>
<line x1="552.20" y1="406.50" x2="552.20" y2="429.70" stroke="#ff0000" stroke-width="1.3"/>
<line x1="549.40" y1="406.50" x2="555.00" y2="406.50" stroke="#ff0000" stroke-width="1.5"/>
<line x1="552.20" y1="527.20" x2="552.20" y2="503.40" stroke="#ff0000" stroke-width="1.3"/>
<line x1="549.40" y1="527.20" x2="555.00" y2="527.20" stroke="#ff0000" stroke-width="1.5"/>
<line x1="548.10" y1="465.70" x2="556.30" y2="465.70" stroke="#ff0000" stroke-width="2.2"/>
<path d="M573.30,470.50H584.50V494.70L583.00,496.70L584.50,498.70V516.80H573.30V498.70L574.80,496.70L573.30,494.70Z" fill="#fff" stroke="#000" stroke-width="1.2" stroke-linejoin="round"/>
<line x1="578.90" y1="453.30" x2="578.90" y2="470.50" stroke="#000" stroke-width="1.3"/>
<line x1="576.10" y1="453.30" x2="581.70" y2="453.30" stroke="#000" stroke-width="1.5"/>
<line x1="578.90" y1="532.00" x2="578.90" y2="516.80" stroke="#000" stroke-width="1.3"/>
<line x1="576.10" y1="532.00" x2="581.70" y2="532.00" stroke="#000" stroke-width="1.5"/>
<line x1="574.80" y1="496.70" x2="583.00" y2="496.70" stroke="#000" stroke-width="1.9"/>
<path d="M586.50,447.20H597.70V475.60L596.20,477.60L597.70,479.60V512.90H586.50V479.60L588.00,477.60L586.50,475.60Z" fill="#a3a3ff" stroke="#0000ff" stroke-width="2.0" stroke-linejoin="round"/>
<line x1="592.10" y1="437.50" x2="592.10" y2="447.20" stroke="#0000ff" stroke-width="1.3"/>
<line x1="589.30" y1="437.50" x2="594.90" y2="437.50" stroke="#0000ff" stroke-width="1.5"/>
<line x1="592.10" y1="522.40" x2="592.10" y2="512.90" stroke="#0000ff" stroke-width="1.3"/>
<line x1="589.30" y1="522.40" x2="594.90" y2="522.40" stroke="#0000ff" stroke-width="1.5"/>
<line x1="588.00" y1="477.60" x2="596.20" y2="477.60" stroke="#0000ff" stroke-width="2.2"/>
<path d="M600.50,483.90H611.70V520.40L610.20,522.40L611.70,524.40V556.20H600.50V524.40L602.00,522.40L600.50,520.40Z" fill="#ffa3a3" stroke="#ff0000" stroke-width="2.0" stroke-linejoin="round"/>
<line x1="606.10" y1="478.60" x2="606.10" y2="483.90" stroke="#ff0000" stroke-width="1.3"/>
<line x1="603.30" y1="478.60" x2="608.90" y2="478.60" stroke="#ff0000" stroke-width="1.5"/>
<line x1="606.10" y1="560.00" x2="606.10" y2="556.20" stroke="#ff0000" stroke-width="1.3"/>
<line x1="603.30" y1="560.00" x2="608.90" y2="560.00" stroke="#ff0000" stroke-width="1.5"/>
<line x1="602.00" y1="522.40" x2="610.20" y2="522.40" stroke="#ff0000" stroke-width="2.2"/>
<path d="M626.70,483.40H637.90V501.70L636.40,503.70L637.90,505.70V521.60H626.70V505.70L628.20,503.70L626.70,501.70Z" fill="#fff" stroke="#000" stroke-width="1.2" stroke-linejoin="round"/>
<line x1="632.30" y1="462.10" x2="632.30" y2="483.40" stroke="#000" stroke-width="1.3"/>
<line x1="629.50" y1="462.10" x2="635.10" y2="462.10" stroke="#000" stroke-width="1.5"/>
<line x1="632.30" y1="537.30" x2="632.30" y2="521.60" stroke="#000" stroke-width="1.3"/>
<line x1="629.50" y1="537.30" x2="635.10" y2="537.30" stroke="#000" stroke-width="1.5"/>
<line x1="628.20" y1="503.70" x2="636.40" y2="503.70" stroke="#000" stroke-width="1.9"/>
<path d="M640.00,439.00H651.20V466.80L649.70,468.80L651.20,470.80V497.40H640.00V470.80L641.50,468.80L640.00,466.80Z" fill="#a3a3ff" stroke="#0000ff" stroke-width="2.0" stroke-linejoin="round"/>
<line x1="645.60" y1="428.50" x2="645.60" y2="439.00" stroke="#0000ff" stroke-width="1.3"/>
<line x1="642.80" y1="428.50" x2="648.40" y2="428.50" stroke="#0000ff" stroke-width="1.5"/>
<line x1="645.60" y1="510.50" x2="645.60" y2="497.40" stroke="#0000ff" stroke-width="1.3"/>
<line x1="642.80" y1="510.50" x2="648.40" y2="510.50" stroke="#0000ff" stroke-width="1.5"/>
<line x1="641.50" y1="468.80" x2="649.70" y2="468.80" stroke="#0000ff" stroke-width="2.2"/>
<path d="M654.50,485.10H665.70V512.40L664.20,514.40L665.70,516.40V543.10H654.50V516.40L656.00,514.40L654.50,512.40Z" fill="#ffa3a3" stroke="#ff0000" stroke-width="2.0" stroke-linejoin="round"/>
<line x1="660.10" y1="477.20" x2="660.10" y2="485.10" stroke="#ff0000" stroke-width="1.3"/>
<line x1="657.30" y1="477.20" x2="662.90" y2="477.20" stroke="#ff0000" stroke-width="1.5"/>
<line x1="660.10" y1="551.00" x2="660.10" y2="543.10" stroke="#ff0000" stroke-width="1.3"/>
<line x1="657.30" y1="551.00" x2="662.90" y2="551.00" stroke="#ff0000" stroke-width="1.5"/>
<line x1="656.00" y1="514.40" x2="664.20" y2="514.40" stroke="#ff0000" stroke-width="2.2"/>
<path d="M680.60,481.60H691.80V505.30L690.30,507.30L691.80,509.30V525.40H680.60V509.30L682.10,507.30L680.60,505.30Z" fill="#fff" stroke="#000" stroke-width="1.2" stroke-linejoin="round"/>
<line x1="686.20" y1="464.90" x2="686.20" y2="481.60" stroke="#000" stroke-width="1.3"/>
<line x1="683.40" y1="464.90" x2="689.00" y2="464.90" stroke="#000" stroke-width="1.5"/>
<line x1="686.20" y1="541.50" x2="686.20" y2="525.40" stroke="#000" stroke-width="1.3"/>
<line x1="683.40" y1="541.50" x2="689.00" y2="541.50" stroke="#000" stroke-width="1.5"/>
<line x1="682.10" y1="507.30" x2="690.30" y2="507.30" stroke="#000" stroke-width="1.9"/>
<path d="M693.70,417.80H704.90V445.60L703.40,447.60L704.90,449.60V480.00H693.70V449.60L695.20,447.60L693.70,445.60Z" fill="#a3a3ff" stroke="#0000ff" stroke-width="2.0" stroke-linejoin="round"/>
<line x1="699.30" y1="406.50" x2="699.30" y2="417.80" stroke="#0000ff" stroke-width="1.3"/>
<line x1="696.50" y1="406.50" x2="702.10" y2="406.50" stroke="#0000ff" stroke-width="1.5"/>
<line x1="699.30" y1="492.30" x2="699.30" y2="480.00" stroke="#0000ff" stroke-width="1.3"/>
<line x1="696.50" y1="492.30" x2="702.10" y2="492.30" stroke="#0000ff" stroke-width="1.5"/>
<line x1="695.20" y1="447.60" x2="703.40" y2="447.60" stroke="#0000ff" stroke-width="2.2"/>
<path d="M708.60,486.70H719.80V514.10L718.30,516.10L719.80,518.10V543.10H708.60V518.10L710.10,516.10L708.60,514.10Z" fill="#ffa3a3" stroke="#ff0000" stroke-width="2.0" stroke-linejoin="round"/>
<line x1="714.20" y1="482.40" x2="714.20" y2="486.70" stroke="#ff0000" stroke-width="1.3"/>
<line x1="711.40" y1="482.40" x2="717.00" y2="482.40" stroke="#ff0000" stroke-width="1.5"/>
<line x1="714.20" y1="551.00" x2="714.20" y2="543.10" stroke="#ff0000" stroke-width="1.3"/>
<line x1="711.40" y1="551.00" x2="717.00" y2="551.00" stroke="#ff0000" stroke-width="1.5"/>
<line x1="710.10" y1="516.10" x2="718.30" y2="516.10" stroke="#ff0000" stroke-width="2.2"/>
<text transform="translate(879.00,361.10) scale(1.05,1)" font-size="21" fill="#000" font-weight="normal">8</text>
<text x="931.60" y="362.10" font-size="10.2" class="m" font-weight="bold" letter-spacing="1.08">TAWSS~</text>
<text x="999.50" y="362.10" font-size="10.2" class="m" font-weight="bold" letter-spacing="1.08">BV</text>
<text x="1060.10" y="362.10" font-size="10.2" fill="#0000ff" class="m" font-weight="bold" letter-spacing="1.08">IIR</text>
<text x="1137.30" y="362.10" font-size="10.2" fill="#ff0000" class="m" font-weight="bold" letter-spacing="1.08">BA</text>
<text x="943.00" y="375.30" font-size="10.5" class="m" font-weight="bold" font-style="italic">p</text>
<text x="943.90" y="388.40" font-size="10.5" class="m" font-weight="bold" font-style="italic">r</text>
<text x="1023.30" y="375.30" font-size="10.0" text-anchor="end" fill="#222" class="m" letter-spacing="1.20">&lt;0.001</text>
<text x="1023.30" y="388.40" font-size="10.0" text-anchor="end" fill="#222" class="m" letter-spacing="1.20">-0.244</text>
<text x="1097.70" y="375.30" font-size="10.0" text-anchor="end" fill="#222" class="m" letter-spacing="1.20">&lt;0.001</text>
<text x="1097.70" y="388.40" font-size="10.0" text-anchor="end" fill="#222" class="m" letter-spacing="1.20">0.281</text>
<text x="1172.30" y="375.30" font-size="10.0" text-anchor="end" fill="#222" class="m" letter-spacing="1.20">&lt;0.001</text>
<text x="1172.30" y="388.40" font-size="10.0" text-anchor="end" fill="#222" class="m" letter-spacing="1.20">-0.347</text>
<rect x="943.30" y="396.60" width="215.20" height="208.10" fill="none" stroke="#000" stroke-width="1.3"/>
<line x1="970.40" y1="604.70" x2="970.40" y2="601.70" stroke="#000" stroke-width="1.1"/>
<line x1="1024.40" y1="604.70" x2="1024.40" y2="601.70" stroke="#000" stroke-width="1.1"/>
<line x1="1078.40" y1="604.70" x2="1078.40" y2="601.70" stroke="#000" stroke-width="1.1"/>
<line x1="1131.70" y1="604.70" x2="1131.70" y2="601.70" stroke="#000" stroke-width="1.1"/>
<text x="970.10" y="628.80" font-size="18.4" text-anchor="middle" textLength="21.6" lengthAdjust="spacingAndGlyphs">Q1</text>
<text x="1024.60" y="628.80" font-size="18.4" text-anchor="middle">Q2</text>
<text x="1078.60" y="628.80" font-size="18.4" text-anchor="middle">Q3</text>
<text x="1131.90" y="628.80" font-size="18.4" text-anchor="middle">Q4</text>
<text x="1051.20" y="660.90" font-size="21" text-anchor="middle" textLength="71.5" lengthAdjust="spacingAndGlyphs">TAWSS</text>
<line x1="943.30" y1="604.70" x2="946.30" y2="604.70" stroke="#000" stroke-width="1.1"/>
<text x="935.10" y="609.50" font-size="17.6" text-anchor="end" textLength="11.45" lengthAdjust="spacingAndGlyphs">0</text>
<line x1="943.30" y1="577.66" x2="946.30" y2="577.66" stroke="#000" stroke-width="1.1"/>
<text x="935.10" y="582.46" font-size="17.6" text-anchor="end" textLength="28.62" lengthAdjust="spacingAndGlyphs">0.5</text>
<line x1="943.30" y1="550.61" x2="946.30" y2="550.61" stroke="#000" stroke-width="1.1"/>
<text x="935.10" y="555.41" font-size="17.6" text-anchor="end" textLength="25.20" lengthAdjust="spacingAndGlyphs">1.0</text>
<line x1="943.30" y1="523.57" x2="946.30" y2="523.57" stroke="#000" stroke-width="1.1"/>
<text x="935.10" y="528.37" font-size="17.6" text-anchor="end" textLength="25.20" lengthAdjust="spacingAndGlyphs">1.5</text>
<line x1="943.30" y1="496.53" x2="946.30" y2="496.53" stroke="#000" stroke-width="1.1"/>
<text x="935.10" y="501.33" font-size="17.6" text-anchor="end" textLength="28.62" lengthAdjust="spacingAndGlyphs">2.0</text>
<line x1="943.30" y1="469.49" x2="946.30" y2="469.49" stroke="#000" stroke-width="1.1"/>
<text x="935.10" y="474.29" font-size="17.6" text-anchor="end" textLength="28.62" lengthAdjust="spacingAndGlyphs">2.5</text>
<line x1="943.30" y1="442.44" x2="946.30" y2="442.44" stroke="#000" stroke-width="1.1"/>
<text x="935.10" y="447.24" font-size="17.6" text-anchor="end" textLength="28.62" lengthAdjust="spacingAndGlyphs">3.0</text>
<line x1="943.30" y1="415.40" x2="946.30" y2="415.40" stroke="#000" stroke-width="1.1"/>
<text x="935.10" y="420.20" font-size="17.6" text-anchor="end" textLength="28.62" lengthAdjust="spacingAndGlyphs">3.5</text>
<text transform="translate(896.60,501.30) rotate(-90)" font-size="21" text-anchor="middle" fill="#000">BV (mV)</text>
<line x1="1158.50" y1="604.50" x2="1155.50" y2="604.50" stroke="#000" stroke-width="1.1"/>
<text x="1169.40" y="609.00" font-size="17.6" textLength="11.45" lengthAdjust="spacingAndGlyphs">0</text>
<line x1="1158.50" y1="572.95" x2="1155.50" y2="572.95" stroke="#000" stroke-width="1.1"/>
<text x="1169.40" y="577.45" font-size="17.6" textLength="28.62" lengthAdjust="spacingAndGlyphs">0.2</text>
<line x1="1158.50" y1="541.40" x2="1155.50" y2="541.40" stroke="#000" stroke-width="1.1"/>
<text x="1169.40" y="545.90" font-size="17.6" textLength="28.62" lengthAdjust="spacingAndGlyphs">0.4</text>
<line x1="1158.50" y1="509.85" x2="1155.50" y2="509.85" stroke="#000" stroke-width="1.1"/>
<text x="1169.40" y="514.35" font-size="17.6" textLength="28.62" lengthAdjust="spacingAndGlyphs">0.6</text>
<line x1="1158.50" y1="478.30" x2="1155.50" y2="478.30" stroke="#000" stroke-width="1.1"/>
<text x="1169.40" y="482.80" font-size="17.6" textLength="28.62" lengthAdjust="spacingAndGlyphs">0.8</text>
<line x1="1158.50" y1="446.75" x2="1155.50" y2="446.75" stroke="#000" stroke-width="1.1"/>
<text x="1169.40" y="451.25" font-size="17.6" textLength="25.20" lengthAdjust="spacingAndGlyphs">1.0</text>
<line x1="1158.50" y1="415.20" x2="1155.50" y2="415.20" stroke="#000" stroke-width="1.1"/>
<text x="1169.40" y="419.70" font-size="17.6" textLength="25.20" lengthAdjust="spacingAndGlyphs">1.2</text>
<text transform="translate(1207.70,499.90) rotate(90)" font-size="21" text-anchor="middle" fill="#0000ff" textLength="24.6" lengthAdjust="spacingAndGlyphs">IIR</text>
<line x1="1233.30" y1="396.60" x2="1233.30" y2="604.70" stroke="#000" stroke-width="1.3"/>
<line x1="1233.30" y1="603.90" x2="1230.30" y2="603.90" stroke="#000" stroke-width="1.1"/>
<text x="1239.50" y="609.20" font-size="17.6" textLength="11.45" lengthAdjust="spacingAndGlyphs">0</text>
<line x1="1233.30" y1="567.20" x2="1230.30" y2="567.20" stroke="#000" stroke-width="1.1"/>
<text x="1239.50" y="572.50" font-size="17.6" textLength="28.62" lengthAdjust="spacingAndGlyphs">0.5</text>
<line x1="1233.30" y1="530.50" x2="1230.30" y2="530.50" stroke="#000" stroke-width="1.1"/>
<text x="1239.50" y="535.80" font-size="17.6" textLength="25.20" lengthAdjust="spacingAndGlyphs">1.0</text>
<line x1="1233.30" y1="493.80" x2="1230.30" y2="493.80" stroke="#000" stroke-width="1.1"/>
<text x="1239.50" y="499.10" font-size="17.6" textLength="25.20" lengthAdjust="spacingAndGlyphs">1.5</text>
<line x1="1233.30" y1="457.10" x2="1230.30" y2="457.10" stroke="#000" stroke-width="1.1"/>
<text x="1239.50" y="462.40" font-size="17.6" textLength="28.62" lengthAdjust="spacingAndGlyphs">2.0</text>
<line x1="1233.30" y1="420.40" x2="1230.30" y2="420.40" stroke="#000" stroke-width="1.1"/>
<text x="1239.50" y="425.70" font-size="17.6" textLength="28.62" lengthAdjust="spacingAndGlyphs">2.5</text>
<text transform="translate(1283.50,500.40) rotate(90)" font-size="21" text-anchor="middle" fill="#ff0000">BA (s)</text>
<path d="M952.00,426.10H963.20V480.80L961.70,482.80L963.20,484.80V514.40H952.00V484.80L953.50,482.80L952.00,480.80Z" fill="#fff" stroke="#000" stroke-width="1.2" stroke-linejoin="round"/>
<line x1="957.60" y1="406.50" x2="957.60" y2="426.10" stroke="#000" stroke-width="1.3"/>
<line x1="954.80" y1="406.50" x2="960.40" y2="406.50" stroke="#000" stroke-width="1.5"/>
<line x1="957.60" y1="536.70" x2="957.60" y2="514.40" stroke="#000" stroke-width="1.3"/>
<line x1="954.80" y1="536.70" x2="960.40" y2="536.70" stroke="#000" stroke-width="1.5"/>
<line x1="953.50" y1="482.80" x2="961.70" y2="482.80" stroke="#000" stroke-width="1.9"/>
<path d="M965.40,470.20H976.60V506.10L975.10,508.10L976.60,510.10V542.10H965.40V510.10L966.90,508.10L965.40,506.10Z" fill="#a3a3ff" stroke="#0000ff" stroke-width="2.0" stroke-linejoin="round"/>
<line x1="971.00" y1="457.40" x2="971.00" y2="470.20" stroke="#0000ff" stroke-width="1.3"/>
<line x1="968.20" y1="457.40" x2="973.80" y2="457.40" stroke="#0000ff" stroke-width="1.5"/>
<line x1="971.00" y1="551.90" x2="971.00" y2="542.10" stroke="#0000ff" stroke-width="1.3"/>
<line x1="968.20" y1="551.90" x2="973.80" y2="551.90" stroke="#0000ff" stroke-width="1.5"/>
<line x1="966.90" y1="508.10" x2="975.10" y2="508.10" stroke="#0000ff" stroke-width="2.2"/>
<path d="M978.90,442.80H990.10V509.30L988.60,511.30L990.10,513.30V534.00H978.90V513.30L980.40,511.30L978.90,509.30Z" fill="#ffa3a3" stroke="#ff0000" stroke-width="2.0" stroke-linejoin="round"/>
<line x1="984.50" y1="406.50" x2="984.50" y2="442.80" stroke="#ff0000" stroke-width="1.3"/>
<line x1="981.70" y1="406.50" x2="987.30" y2="406.50" stroke="#ff0000" stroke-width="1.5"/>
<line x1="984.50" y1="555.20" x2="984.50" y2="534.00" stroke="#ff0000" stroke-width="1.3"/>
<line x1="981.70" y1="555.20" x2="987.30" y2="555.20" stroke="#ff0000" stroke-width="1.5"/>
<line x1="980.40" y1="511.30" x2="988.60" y2="511.30" stroke="#ff0000" stroke-width="2.2"/>
<path d="M1005.40,493.50H1016.60V527.60L1015.10,529.60L1016.60,531.60V556.00H1005.40V531.60L1006.90,529.60L1005.40,527.60Z" fill="#fff" stroke="#000" stroke-width="1.2" stroke-linejoin="round"/>
<line x1="1011.00" y1="475.60" x2="1011.00" y2="493.50" stroke="#000" stroke-width="1.3"/>
<line x1="1008.20" y1="475.60" x2="1013.80" y2="475.60" stroke="#000" stroke-width="1.5"/>
<line x1="1011.00" y1="568.60" x2="1011.00" y2="556.00" stroke="#000" stroke-width="1.3"/>
<line x1="1008.20" y1="568.60" x2="1013.80" y2="568.60" stroke="#000" stroke-width="1.5"/>
<line x1="1006.90" y1="529.60" x2="1015.10" y2="529.60" stroke="#000" stroke-width="1.9"/>
<path d="M1018.80,447.60H1030.00V472.80L1028.50,474.80L1030.00,476.80V499.10H1018.80V476.80L1020.30,474.80L1018.80,472.80Z" fill="#a3a3ff" stroke="#0000ff" stroke-width="2.0" stroke-linejoin="round"/>
<line x1="1024.40" y1="432.70" x2="1024.40" y2="447.60" stroke="#0000ff" stroke-width="1.3"/>
<line x1="1021.60" y1="432.70" x2="1027.20" y2="432.70" stroke="#0000ff" stroke-width="1.5"/>
<line x1="1024.40" y1="514.10" x2="1024.40" y2="499.10" stroke="#0000ff" stroke-width="1.3"/>
<line x1="1021.60" y1="514.10" x2="1027.20" y2="514.10" stroke="#0000ff" stroke-width="1.5"/>
<line x1="1020.30" y1="474.80" x2="1028.50" y2="474.80" stroke="#0000ff" stroke-width="2.2"/>
<path d="M1032.90,533.50H1044.10V547.50L1042.60,549.50L1044.10,551.50V576.40H1032.90V551.50L1034.40,549.50L1032.90,547.50Z" fill="#ffa3a3" stroke="#ff0000" stroke-width="2.0" stroke-linejoin="round"/>
<line x1="1038.50" y1="521.80" x2="1038.50" y2="533.50" stroke="#ff0000" stroke-width="1.3"/>
<line x1="1035.70" y1="521.80" x2="1041.30" y2="521.80" stroke="#ff0000" stroke-width="1.5"/>
<line x1="1038.50" y1="579.60" x2="1038.50" y2="576.40" stroke="#ff0000" stroke-width="1.3"/>
<line x1="1035.70" y1="579.60" x2="1041.30" y2="579.60" stroke="#ff0000" stroke-width="1.5"/>
<line x1="1034.40" y1="549.50" x2="1042.60" y2="549.50" stroke="#ff0000" stroke-width="2.2"/>
<path d="M1059.30,484.80H1070.50V523.70L1069.00,525.70L1070.50,527.70V548.30H1059.30V527.70L1060.80,525.70L1059.30,523.70Z" fill="#fff" stroke="#000" stroke-width="1.2" stroke-linejoin="round"/>
<line x1="1064.90" y1="475.20" x2="1064.90" y2="484.80" stroke="#000" stroke-width="1.3"/>
<line x1="1062.10" y1="475.20" x2="1067.70" y2="475.20" stroke="#000" stroke-width="1.5"/>
<line x1="1064.90" y1="563.30" x2="1064.90" y2="548.30" stroke="#000" stroke-width="1.3"/>
<line x1="1062.10" y1="563.30" x2="1067.70" y2="563.30" stroke="#000" stroke-width="1.5"/>
<line x1="1060.80" y1="525.70" x2="1069.00" y2="525.70" stroke="#000" stroke-width="1.9"/>
<path d="M1072.40,445.80H1083.60V474.00L1082.10,476.00L1083.60,478.00V502.20H1072.40V478.00L1073.90,476.00L1072.40,474.00Z" fill="#a3a3ff" stroke="#0000ff" stroke-width="2.0" stroke-linejoin="round"/>
<line x1="1078.00" y1="422.60" x2="1078.00" y2="445.80" stroke="#0000ff" stroke-width="1.3"/>
<line x1="1075.20" y1="422.60" x2="1080.80" y2="422.60" stroke="#0000ff" stroke-width="1.5"/>
<line x1="1078.00" y1="518.90" x2="1078.00" y2="502.20" stroke="#0000ff" stroke-width="1.3"/>
<line x1="1075.20" y1="518.90" x2="1080.80" y2="518.90" stroke="#0000ff" stroke-width="1.5"/>
<line x1="1073.90" y1="476.00" x2="1082.10" y2="476.00" stroke="#0000ff" stroke-width="2.2"/>
<path d="M1086.70,534.70H1097.90V554.60L1096.40,556.60L1097.90,558.60V577.30H1086.70V558.60L1088.20,556.60L1086.70,554.60Z" fill="#ffa3a3" stroke="#ff0000" stroke-width="2.0" stroke-linejoin="round"/>
<line x1="1092.30" y1="529.20" x2="1092.30" y2="534.70" stroke="#ff0000" stroke-width="1.3"/>
<line x1="1089.50" y1="529.20" x2="1095.10" y2="529.20" stroke="#ff0000" stroke-width="1.5"/>
<line x1="1092.30" y1="580.20" x2="1092.30" y2="577.30" stroke="#ff0000" stroke-width="1.3"/>
<line x1="1089.50" y1="580.20" x2="1095.10" y2="580.20" stroke="#ff0000" stroke-width="1.5"/>
<line x1="1088.20" y1="556.60" x2="1096.40" y2="556.60" stroke="#ff0000" stroke-width="2.2"/>
<path d="M1112.70,482.20H1123.90V518.60L1122.40,520.60L1123.90,522.60V542.30H1112.70V522.60L1114.20,520.60L1112.70,518.60Z" fill="#fff" stroke="#000" stroke-width="1.2" stroke-linejoin="round"/>
<line x1="1118.30" y1="472.90" x2="1118.30" y2="482.20" stroke="#000" stroke-width="1.3"/>
<line x1="1115.50" y1="472.90" x2="1121.10" y2="472.90" stroke="#000" stroke-width="1.5"/>
<line x1="1118.30" y1="558.80" x2="1118.30" y2="542.30" stroke="#000" stroke-width="1.3"/>
<line x1="1115.50" y1="558.80" x2="1121.10" y2="558.80" stroke="#000" stroke-width="1.5"/>
<line x1="1114.20" y1="520.60" x2="1122.40" y2="520.60" stroke="#000" stroke-width="1.9"/>
<path d="M1126.30,433.30H1137.50V471.60L1136.00,473.60L1137.50,475.60V506.20H1126.30V475.60L1127.80,473.60L1126.30,471.60Z" fill="#a3a3ff" stroke="#0000ff" stroke-width="2.0" stroke-linejoin="round"/>
<line x1="1131.90" y1="406.50" x2="1131.90" y2="433.30" stroke="#0000ff" stroke-width="1.3"/>
<line x1="1129.10" y1="406.50" x2="1134.70" y2="406.50" stroke="#0000ff" stroke-width="1.5"/>
<line x1="1131.90" y1="518.90" x2="1131.90" y2="506.20" stroke="#0000ff" stroke-width="1.3"/>
<line x1="1129.10" y1="518.90" x2="1134.70" y2="518.90" stroke="#0000ff" stroke-width="1.5"/>
<line x1="1127.80" y1="473.60" x2="1136.00" y2="473.60" stroke="#0000ff" stroke-width="2.2"/>
<path d="M1140.40,524.00H1151.60V532.40L1150.10,534.40L1151.60,536.40V564.70H1140.40V536.40L1141.90,534.40L1140.40,532.40Z" fill="#ffa3a3" stroke="#ff0000" stroke-width="2.0" stroke-linejoin="round"/>
<line x1="1146.00" y1="514.70" x2="1146.00" y2="524.00" stroke="#ff0000" stroke-width="1.3"/>
<line x1="1143.20" y1="514.70" x2="1148.80" y2="514.70" stroke="#ff0000" stroke-width="1.5"/>
<line x1="1146.00" y1="568.60" x2="1146.00" y2="564.70" stroke="#ff0000" stroke-width="1.3"/>
<line x1="1143.20" y1="568.60" x2="1148.80" y2="568.60" stroke="#ff0000" stroke-width="1.5"/>
<line x1="1141.90" y1="534.40" x2="1150.10" y2="534.40" stroke="#ff0000" stroke-width="2.2"/>
<text transform="translate(1319.60,361.10) scale(1.1,1)" font-size="21" fill="#000" font-weight="normal">9</text>
<text x="1375.30" y="362.90" font-size="10.2" class="m" font-weight="bold" letter-spacing="1.08">TAWSS~</text>
<text x="1443.20" y="362.90" font-size="10.2" class="m" font-weight="bold" letter-spacing="1.08">BV</text>
<text x="1503.80" y="362.90" font-size="10.2" fill="#0000ff" class="m" font-weight="bold" letter-spacing="1.08">IIR</text>
<text x="1581.00" y="362.90" font-size="10.2" fill="#ff0000" class="m" font-weight="bold" letter-spacing="1.08">BA</text>
<text x="1387.40" y="376.20" font-size="10.5" class="m" font-weight="bold" font-style="italic">p</text>
<text x="1388.30" y="389.40" font-size="10.5" class="m" font-weight="bold" font-style="italic">r</text>
<text x="1467.00" y="376.20" font-size="10.0" text-anchor="end" fill="#222" class="m" letter-spacing="1.20">&lt;0.001</text>
<text x="1467.00" y="389.40" font-size="10.0" text-anchor="end" fill="#222" class="m" letter-spacing="1.20">-0.154</text>
<text x="1541.40" y="376.20" font-size="10.0" text-anchor="end" fill="#222" class="m" letter-spacing="1.20">&lt;0.001</text>
<text x="1541.40" y="389.40" font-size="10.0" text-anchor="end" fill="#222" class="m" letter-spacing="1.20">0.327</text>
<text x="1616.00" y="376.20" font-size="10.0" text-anchor="end" fill="#222" class="m" letter-spacing="1.20">&lt;0.001</text>
<text x="1616.00" y="389.40" font-size="10.0" text-anchor="end" fill="#222" class="m" letter-spacing="1.20">-0.196</text>
<rect x="1386.20" y="396.60" width="214.90" height="208.10" fill="none" stroke="#000" stroke-width="1.3"/>
<line x1="1413.10" y1="604.70" x2="1413.10" y2="601.70" stroke="#000" stroke-width="1.1"/>
<line x1="1466.80" y1="604.70" x2="1466.80" y2="601.70" stroke="#000" stroke-width="1.1"/>
<line x1="1520.40" y1="604.70" x2="1520.40" y2="601.70" stroke="#000" stroke-width="1.1"/>
<line x1="1573.70" y1="604.70" x2="1573.70" y2="601.70" stroke="#000" stroke-width="1.1"/>
<text x="1412.80" y="628.80" font-size="18.4" text-anchor="middle" textLength="21.6" lengthAdjust="spacingAndGlyphs">Q1</text>
<text x="1467.00" y="628.80" font-size="18.4" text-anchor="middle">Q2</text>
<text x="1520.60" y="628.80" font-size="18.4" text-anchor="middle">Q3</text>
<text x="1573.90" y="628.80" font-size="18.4" text-anchor="middle">Q4</text>
<text x="1493.20" y="660.90" font-size="21" text-anchor="middle" textLength="71.5" lengthAdjust="spacingAndGlyphs">TAWSS</text>
<line x1="1386.20" y1="604.70" x2="1389.20" y2="604.70" stroke="#000" stroke-width="1.1"/>
<text x="1374.50" y="609.30" font-size="17.6" text-anchor="end" textLength="11.45" lengthAdjust="spacingAndGlyphs">0</text>
<line x1="1386.20" y1="559.23" x2="1389.20" y2="559.23" stroke="#000" stroke-width="1.1"/>
<text x="1374.50" y="563.83" font-size="17.6" text-anchor="end" textLength="28.62" lengthAdjust="spacingAndGlyphs">0.5</text>
<line x1="1386.20" y1="513.75" x2="1389.20" y2="513.75" stroke="#000" stroke-width="1.1"/>
<text x="1374.50" y="518.35" font-size="17.6" text-anchor="end" textLength="25.20" lengthAdjust="spacingAndGlyphs">1.0</text>
<line x1="1386.20" y1="468.28" x2="1389.20" y2="468.28" stroke="#000" stroke-width="1.1"/>
<text x="1374.50" y="472.88" font-size="17.6" text-anchor="end" textLength="25.20" lengthAdjust="spacingAndGlyphs">1.5</text>
<line x1="1386.20" y1="422.80" x2="1389.20" y2="422.80" stroke="#000" stroke-width="1.1"/>
<text x="1374.50" y="427.40" font-size="17.6" text-anchor="end" textLength="28.62" lengthAdjust="spacingAndGlyphs">2.0</text>
<text transform="translate(1337.80,501.30) rotate(-90)" font-size="21" text-anchor="middle" fill="#000">BV (mV)</text>
<line x1="1601.10" y1="604.70" x2="1598.10" y2="604.70" stroke="#000" stroke-width="1.1"/>
<text x="1606.90" y="609.70" font-size="17.6" textLength="11.45" lengthAdjust="spacingAndGlyphs">0</text>
<line x1="1601.10" y1="572.20" x2="1598.10" y2="572.20" stroke="#000" stroke-width="1.1"/>
<text x="1606.90" y="577.20" font-size="17.6" textLength="28.62" lengthAdjust="spacingAndGlyphs">0.2</text>
<line x1="1601.10" y1="539.70" x2="1598.10" y2="539.70" stroke="#000" stroke-width="1.1"/>
<text x="1606.90" y="544.70" font-size="17.6" textLength="28.62" lengthAdjust="spacingAndGlyphs">0.4</text>
<line x1="1601.10" y1="507.20" x2="1598.10" y2="507.20" stroke="#000" stroke-width="1.1"/>
<text x="1606.90" y="512.20" font-size="17.6" textLength="28.62" lengthAdjust="spacingAndGlyphs">0.6</text>
<line x1="1601.10" y1="474.70" x2="1598.10" y2="474.70" stroke="#000" stroke-width="1.1"/>
<text x="1606.90" y="479.70" font-size="17.6" textLength="28.62" lengthAdjust="spacingAndGlyphs">0.8</text>
<line x1="1601.10" y1="442.20" x2="1598.10" y2="442.20" stroke="#000" stroke-width="1.1"/>
<text x="1606.90" y="447.20" font-size="17.6" textLength="25.20" lengthAdjust="spacingAndGlyphs">1.0</text>
<line x1="1601.10" y1="409.70" x2="1598.10" y2="409.70" stroke="#000" stroke-width="1.1"/>
<text x="1606.90" y="414.70" font-size="17.6" textLength="25.20" lengthAdjust="spacingAndGlyphs">1.2</text>
<text transform="translate(1640.20,499.90) rotate(90)" font-size="21" text-anchor="middle" fill="#0000ff" textLength="24.6" lengthAdjust="spacingAndGlyphs">IIR</text>
<line x1="1660.50" y1="396.60" x2="1660.50" y2="604.70" stroke="#000" stroke-width="1.3"/>
<line x1="1660.50" y1="603.80" x2="1657.50" y2="603.80" stroke="#000" stroke-width="1.1"/>
<text x="1671.50" y="609.30" font-size="17.6" textLength="11.45" lengthAdjust="spacingAndGlyphs">0</text>
<line x1="1660.50" y1="571.63" x2="1657.50" y2="571.63" stroke="#000" stroke-width="1.1"/>
<text x="1671.50" y="577.13" font-size="17.6" textLength="28.62" lengthAdjust="spacingAndGlyphs">0.1</text>
<line x1="1660.50" y1="539.47" x2="1657.50" y2="539.47" stroke="#000" stroke-width="1.1"/>
<text x="1671.50" y="544.97" font-size="17.6" textLength="28.62" lengthAdjust="spacingAndGlyphs">0.2</text>
<line x1="1660.50" y1="507.30" x2="1657.50" y2="507.30" stroke="#000" stroke-width="1.1"/>
<text x="1671.50" y="512.80" font-size="17.6" textLength="28.62" lengthAdjust="spacingAndGlyphs">0.3</text>
<line x1="1660.50" y1="475.13" x2="1657.50" y2="475.13" stroke="#000" stroke-width="1.1"/>
<text x="1671.50" y="480.63" font-size="17.6" textLength="28.62" lengthAdjust="spacingAndGlyphs">0.4</text>
<line x1="1660.50" y1="442.97" x2="1657.50" y2="442.97" stroke="#000" stroke-width="1.1"/>
<text x="1671.50" y="448.47" font-size="17.6" textLength="28.62" lengthAdjust="spacingAndGlyphs">0.5</text>
<line x1="1660.50" y1="410.80" x2="1657.50" y2="410.80" stroke="#000" stroke-width="1.1"/>
<text x="1671.50" y="416.30" font-size="17.6" textLength="28.62" lengthAdjust="spacingAndGlyphs">0.6</text>
<text transform="translate(1714.80,499.90) rotate(90)" font-size="21" text-anchor="middle" fill="#ff0000">BA (s)</text>
<path d="M1394.40,435.90H1405.60V509.10L1404.10,511.10L1405.60,513.10V544.50H1394.40V513.10L1395.90,511.10L1394.40,509.10Z" fill="#fff" stroke="#000" stroke-width="1.2" stroke-linejoin="round"/>
<line x1="1400.00" y1="406.50" x2="1400.00" y2="435.90" stroke="#000" stroke-width="1.3"/>
<line x1="1397.20" y1="406.50" x2="1402.80" y2="406.50" stroke="#000" stroke-width="1.5"/>
<line x1="1400.00" y1="567.10" x2="1400.00" y2="544.50" stroke="#000" stroke-width="1.3"/>
<line x1="1397.20" y1="567.10" x2="1402.80" y2="567.10" stroke="#000" stroke-width="1.5"/>
<line x1="1395.90" y1="511.10" x2="1404.10" y2="511.10" stroke="#000" stroke-width="1.9"/>
<path d="M1407.80,460.70H1419.00V519.60L1417.50,521.60L1419.00,523.60V564.10H1407.80V523.60L1409.30,521.60L1407.80,519.60Z" fill="#a3a3ff" stroke="#0000ff" stroke-width="2.0" stroke-linejoin="round"/>
<line x1="1413.40" y1="456.50" x2="1413.40" y2="460.70" stroke="#0000ff" stroke-width="1.3"/>
<line x1="1410.60" y1="456.50" x2="1416.20" y2="456.50" stroke="#0000ff" stroke-width="1.5"/>
<line x1="1413.40" y1="569.30" x2="1413.40" y2="564.10" stroke="#0000ff" stroke-width="1.3"/>
<line x1="1410.60" y1="569.30" x2="1416.20" y2="569.30" stroke="#0000ff" stroke-width="1.5"/>
<line x1="1409.30" y1="521.60" x2="1417.50" y2="521.60" stroke="#0000ff" stroke-width="2.2"/>
<path d="M1421.20,399.70H1432.40V496.80L1430.90,498.80L1432.40,500.80V564.50H1421.20V500.80L1422.70,498.80L1421.20,496.80Z" fill="#ffa3a3" stroke="#ff0000" stroke-width="2.0" stroke-linejoin="round"/>
<line x1="1426.80" y1="406.10" x2="1426.80" y2="399.70" stroke="#ff0000" stroke-width="1.3"/>
<line x1="1424.00" y1="406.10" x2="1429.60" y2="406.10" stroke="#ff0000" stroke-width="1.5"/>
<line x1="1426.80" y1="566.50" x2="1426.80" y2="564.50" stroke="#ff0000" stroke-width="1.3"/>
<line x1="1424.00" y1="566.50" x2="1429.60" y2="566.50" stroke="#ff0000" stroke-width="1.5"/>
<line x1="1422.70" y1="498.80" x2="1430.90" y2="498.80" stroke="#ff0000" stroke-width="2.2"/>
<path d="M1447.70,506.80H1458.90V526.00L1457.40,528.00L1458.90,530.00V552.20H1447.70V530.00L1449.20,528.00L1447.70,526.00Z" fill="#fff" stroke="#000" stroke-width="1.2" stroke-linejoin="round"/>
<line x1="1453.30" y1="457.70" x2="1453.30" y2="506.80" stroke="#000" stroke-width="1.3"/>
<line x1="1450.50" y1="457.70" x2="1456.10" y2="457.70" stroke="#000" stroke-width="1.5"/>
<line x1="1453.30" y1="580.20" x2="1453.30" y2="552.20" stroke="#000" stroke-width="1.3"/>
<line x1="1450.50" y1="580.20" x2="1456.10" y2="580.20" stroke="#000" stroke-width="1.5"/>
<line x1="1449.20" y1="528.00" x2="1457.40" y2="528.00" stroke="#000" stroke-width="1.9"/>
<path d="M1461.20,441.00H1472.40V468.80L1470.90,470.80L1472.40,472.80V519.20H1461.20V472.80L1462.70,470.80L1461.20,468.80Z" fill="#a3a3ff" stroke="#0000ff" stroke-width="2.0" stroke-linejoin="round"/>
<line x1="1466.80" y1="431.50" x2="1466.80" y2="441.00" stroke="#0000ff" stroke-width="1.3"/>
<line x1="1464.00" y1="431.50" x2="1469.60" y2="431.50" stroke="#0000ff" stroke-width="1.5"/>
<line x1="1466.80" y1="534.70" x2="1466.80" y2="519.20" stroke="#0000ff" stroke-width="1.3"/>
<line x1="1464.00" y1="534.70" x2="1469.60" y2="534.70" stroke="#0000ff" stroke-width="1.5"/>
<line x1="1462.70" y1="470.80" x2="1470.90" y2="470.80" stroke="#0000ff" stroke-width="2.2"/>
<path d="M1475.10,491.90H1486.30V512.70L1484.80,514.70L1486.30,516.70V557.60H1475.10V516.70L1476.60,514.70L1475.10,512.70Z" fill="#ffa3a3" stroke="#ff0000" stroke-width="2.0" stroke-linejoin="round"/>
<line x1="1480.70" y1="470.50" x2="1480.70" y2="491.90" stroke="#ff0000" stroke-width="1.3"/>
<line x1="1477.90" y1="470.50" x2="1483.50" y2="470.50" stroke="#ff0000" stroke-width="1.5"/>
<line x1="1480.70" y1="566.90" x2="1480.70" y2="557.60" stroke="#ff0000" stroke-width="1.3"/>
<line x1="1477.90" y1="566.90" x2="1483.50" y2="566.90" stroke="#ff0000" stroke-width="1.5"/>
<line x1="1476.60" y1="514.70" x2="1484.80" y2="514.70" stroke="#ff0000" stroke-width="2.2"/>
<path d="M1501.30,509.70H1512.50V527.90L1511.00,529.90L1512.50,531.90V549.30H1501.30V531.90L1502.80,529.90L1501.30,527.90Z" fill="#fff" stroke="#000" stroke-width="1.2" stroke-linejoin="round"/>
<line x1="1506.90" y1="468.80" x2="1506.90" y2="509.70" stroke="#000" stroke-width="1.3"/>
<line x1="1504.10" y1="468.80" x2="1509.70" y2="468.80" stroke="#000" stroke-width="1.5"/>
<line x1="1506.90" y1="574.00" x2="1506.90" y2="549.30" stroke="#000" stroke-width="1.3"/>
<line x1="1504.10" y1="574.00" x2="1509.70" y2="574.00" stroke="#000" stroke-width="1.5"/>
<line x1="1502.80" y1="529.90" x2="1511.00" y2="529.90" stroke="#000" stroke-width="1.9"/>
<path d="M1514.80,437.80H1526.00V468.80L1524.50,470.80L1526.00,472.80V510.50H1514.80V472.80L1516.30,470.80L1514.80,468.80Z" fill="#a3a3ff" stroke="#0000ff" stroke-width="2.0" stroke-linejoin="round"/>
<line x1="1520.40" y1="427.90" x2="1520.40" y2="437.80" stroke="#0000ff" stroke-width="1.3"/>
<line x1="1517.60" y1="427.90" x2="1523.20" y2="427.90" stroke="#0000ff" stroke-width="1.5"/>
<line x1="1520.40" y1="526.00" x2="1520.40" y2="510.50" stroke="#0000ff" stroke-width="1.3"/>
<line x1="1517.60" y1="526.00" x2="1523.20" y2="526.00" stroke="#0000ff" stroke-width="1.5"/>
<line x1="1516.30" y1="470.80" x2="1524.50" y2="470.80" stroke="#0000ff" stroke-width="2.2"/>
<path d="M1529.10,494.70H1540.30V510.50L1538.80,512.50L1540.30,514.50V552.60H1529.10V514.50L1530.60,512.50L1529.10,510.50Z" fill="#ffa3a3" stroke="#ff0000" stroke-width="2.0" stroke-linejoin="round"/>
<line x1="1534.70" y1="481.20" x2="1534.70" y2="494.70" stroke="#ff0000" stroke-width="1.3"/>
<line x1="1531.90" y1="481.20" x2="1537.50" y2="481.20" stroke="#ff0000" stroke-width="1.5"/>
<line x1="1534.70" y1="559.70" x2="1534.70" y2="552.60" stroke="#ff0000" stroke-width="1.3"/>
<line x1="1531.90" y1="559.70" x2="1537.50" y2="559.70" stroke="#ff0000" stroke-width="1.5"/>
<line x1="1530.60" y1="512.50" x2="1538.80" y2="512.50" stroke="#ff0000" stroke-width="2.2"/>
<path d="M1555.00,514.70H1566.20V532.00L1564.70,534.00L1566.20,536.00V548.10H1555.00V536.00L1556.50,534.00L1555.00,532.00Z" fill="#fff" stroke="#000" stroke-width="1.2" stroke-linejoin="round"/>
<line x1="1560.60" y1="471.40" x2="1560.60" y2="514.70" stroke="#000" stroke-width="1.3"/>
<line x1="1557.80" y1="471.40" x2="1563.40" y2="471.40" stroke="#000" stroke-width="1.5"/>
<line x1="1560.60" y1="575.50" x2="1560.60" y2="548.10" stroke="#000" stroke-width="1.3"/>
<line x1="1557.80" y1="575.50" x2="1563.40" y2="575.50" stroke="#000" stroke-width="1.5"/>
<line x1="1556.50" y1="534.00" x2="1564.70" y2="534.00" stroke="#000" stroke-width="1.9"/>
<path d="M1568.40,423.80H1579.60V458.90L1578.10,460.90L1579.60,462.90V497.90H1568.40V462.90L1569.90,460.90L1568.40,458.90Z" fill="#a3a3ff" stroke="#0000ff" stroke-width="2.0" stroke-linejoin="round"/>
<line x1="1574.00" y1="406.50" x2="1574.00" y2="423.80" stroke="#0000ff" stroke-width="1.3"/>
<line x1="1571.20" y1="406.50" x2="1576.80" y2="406.50" stroke="#0000ff" stroke-width="1.5"/>
<line x1="1574.00" y1="513.70" x2="1574.00" y2="497.90" stroke="#0000ff" stroke-width="1.3"/>
<line x1="1571.20" y1="513.70" x2="1576.80" y2="513.70" stroke="#0000ff" stroke-width="1.5"/>
<line x1="1569.90" y1="460.90" x2="1578.10" y2="460.90" stroke="#0000ff" stroke-width="2.2"/>
<path d="M1583.00,496.70H1594.20V505.30L1592.70,507.30L1594.20,509.30V563.00H1583.00V509.30L1584.50,507.30L1583.00,505.30Z" fill="#ffa3a3" stroke="#ff0000" stroke-width="2.0" stroke-linejoin="round"/>
<line x1="1588.60" y1="487.20" x2="1588.60" y2="496.70" stroke="#ff0000" stroke-width="1.3"/>
<line x1="1585.80" y1="487.20" x2="1591.40" y2="487.20" stroke="#ff0000" stroke-width="1.5"/>
<line x1="1584.50" y1="507.30" x2="1592.70" y2="507.30" stroke="#ff0000" stroke-width="2.2"/>
<text transform="translate(1752.30,364.00) scale(1.0,1)" font-size="21" fill="#000" font-weight="normal">1<tspan dx="-0.40">0</tspan></text>
<text x="1814.10" y="362.90" font-size="10.2" class="m" font-weight="bold" letter-spacing="1.08">TAWSS~</text>
<text x="1882.00" y="362.90" font-size="10.2" class="m" font-weight="bold" letter-spacing="1.08">BV</text>
<text x="1942.60" y="362.90" font-size="10.2" fill="#0000ff" class="m" font-weight="bold" letter-spacing="1.08">IIR</text>
<text x="2019.80" y="362.90" font-size="10.2" fill="#ff0000" class="m" font-weight="bold" letter-spacing="1.08">BA</text>
<text x="1820.30" y="376.20" font-size="10.5" class="m" font-weight="bold" font-style="italic">p</text>
<text x="1821.20" y="389.40" font-size="10.5" class="m" font-weight="bold" font-style="italic">r</text>
<text x="1905.80" y="376.20" font-size="10.0" text-anchor="end" fill="#222" class="m" letter-spacing="1.20">&lt;0.001</text>
<text x="1905.80" y="389.40" font-size="10.0" text-anchor="end" fill="#222" class="m" letter-spacing="1.20">-0.431</text>
<text x="1980.20" y="376.20" font-size="10.0" text-anchor="end" fill="#222" class="m" letter-spacing="1.20">&lt;0.001</text>
<text x="1980.20" y="389.40" font-size="10.0" text-anchor="end" fill="#222" class="m" letter-spacing="1.20">0.475</text>
<text x="2054.80" y="376.20" font-size="10.0" text-anchor="end" fill="#222" class="m" letter-spacing="1.20">&lt;0.001</text>
<text x="2054.80" y="389.40" font-size="10.0" text-anchor="end" fill="#222" class="m" letter-spacing="1.20">-0.524</text>
<rect x="1818.60" y="396.60" width="214.50" height="208.10" fill="none" stroke="#000" stroke-width="1.3"/>
<line x1="1845.80" y1="604.70" x2="1845.80" y2="601.70" stroke="#000" stroke-width="1.1"/>
<line x1="1899.40" y1="604.70" x2="1899.40" y2="601.70" stroke="#000" stroke-width="1.1"/>
<line x1="1953.00" y1="604.70" x2="1953.00" y2="601.70" stroke="#000" stroke-width="1.1"/>
<line x1="2006.40" y1="604.70" x2="2006.40" y2="601.70" stroke="#000" stroke-width="1.1"/>
<text x="1845.50" y="628.80" font-size="18.4" text-anchor="middle" textLength="21.6" lengthAdjust="spacingAndGlyphs">Q1</text>
<text x="1899.60" y="628.80" font-size="18.4" text-anchor="middle">Q2</text>
<text x="1953.20" y="628.80" font-size="18.4" text-anchor="middle">Q3</text>
<text x="2006.60" y="628.80" font-size="18.4" text-anchor="middle">Q4</text>
<text x="1926.30" y="660.90" font-size="21" text-anchor="middle" textLength="71.5" lengthAdjust="spacingAndGlyphs">TAWSS</text>
<line x1="1818.60" y1="604.90" x2="1821.60" y2="604.90" stroke="#000" stroke-width="1.1"/>
<text x="1808.80" y="609.50" font-size="17.6" text-anchor="end" textLength="11.45" lengthAdjust="spacingAndGlyphs">0</text>
<line x1="1818.60" y1="548.90" x2="1821.60" y2="548.90" stroke="#000" stroke-width="1.1"/>
<text x="1808.80" y="553.50" font-size="17.6" text-anchor="end" textLength="28.62" lengthAdjust="spacingAndGlyphs">0.5</text>
<line x1="1818.60" y1="492.90" x2="1821.60" y2="492.90" stroke="#000" stroke-width="1.1"/>
<text x="1808.80" y="497.50" font-size="17.6" text-anchor="end" textLength="25.20" lengthAdjust="spacingAndGlyphs">1.0</text>
<line x1="1818.60" y1="436.90" x2="1821.60" y2="436.90" stroke="#000" stroke-width="1.1"/>
<text x="1808.80" y="441.50" font-size="17.6" text-anchor="end" textLength="25.20" lengthAdjust="spacingAndGlyphs">1.5</text>
<text transform="translate(1770.60,495.10) rotate(-90)" font-size="21" text-anchor="middle" fill="#000">BV (mV)</text>
<line x1="2033.10" y1="604.50" x2="2030.10" y2="604.50" stroke="#000" stroke-width="1.1"/>
<text x="2043.00" y="609.30" font-size="17.6" textLength="11.45" lengthAdjust="spacingAndGlyphs">0</text>
<line x1="2033.10" y1="574.28" x2="2030.10" y2="574.28" stroke="#000" stroke-width="1.1"/>
<text x="2043.00" y="579.08" font-size="17.6" textLength="28.62" lengthAdjust="spacingAndGlyphs">0.2</text>
<line x1="2033.10" y1="544.07" x2="2030.10" y2="544.07" stroke="#000" stroke-width="1.1"/>
<text x="2043.00" y="548.87" font-size="17.6" textLength="28.62" lengthAdjust="spacingAndGlyphs">0.4</text>
<line x1="2033.10" y1="513.85" x2="2030.10" y2="513.85" stroke="#000" stroke-width="1.1"/>
<text x="2043.00" y="518.65" font-size="17.6" textLength="28.62" lengthAdjust="spacingAndGlyphs">0.6</text>
<line x1="2033.10" y1="483.63" x2="2030.10" y2="483.63" stroke="#000" stroke-width="1.1"/>
<text x="2043.00" y="488.43" font-size="17.6" textLength="28.62" lengthAdjust="spacingAndGlyphs">0.8</text>
<line x1="2033.10" y1="453.42" x2="2030.10" y2="453.42" stroke="#000" stroke-width="1.1"/>
<text x="2043.00" y="458.22" font-size="17.6" textLength="25.20" lengthAdjust="spacingAndGlyphs">1.0</text>
<line x1="2033.10" y1="423.20" x2="2030.10" y2="423.20" stroke="#000" stroke-width="1.1"/>
<text x="2043.00" y="428.00" font-size="17.6" textLength="25.20" lengthAdjust="spacingAndGlyphs">1.2</text>
<text transform="translate(2083.40,499.90) rotate(90)" font-size="21" text-anchor="middle" fill="#0000ff" textLength="24.6" lengthAdjust="spacingAndGlyphs">IIR</text>
<line x1="2104.90" y1="396.60" x2="2104.90" y2="604.70" stroke="#000" stroke-width="1.3"/>
<line x1="2104.90" y1="603.90" x2="2101.90" y2="603.90" stroke="#000" stroke-width="1.1"/>
<text x="2112.20" y="609.20" font-size="17.6" textLength="11.45" lengthAdjust="spacingAndGlyphs">0</text>
<line x1="2104.90" y1="575.40" x2="2101.90" y2="575.40" stroke="#000" stroke-width="1.1"/>
<text x="2112.20" y="580.70" font-size="17.6" textLength="28.62" lengthAdjust="spacingAndGlyphs">0.5</text>
<line x1="2104.90" y1="546.90" x2="2101.90" y2="546.90" stroke="#000" stroke-width="1.1"/>
<text x="2112.20" y="552.20" font-size="17.6" textLength="25.20" lengthAdjust="spacingAndGlyphs">1.0</text>
<line x1="2104.90" y1="518.40" x2="2101.90" y2="518.40" stroke="#000" stroke-width="1.1"/>
<text x="2112.20" y="523.70" font-size="17.6" textLength="25.20" lengthAdjust="spacingAndGlyphs">1.5</text>
<line x1="2104.90" y1="489.90" x2="2101.90" y2="489.90" stroke="#000" stroke-width="1.1"/>
<text x="2112.20" y="495.20" font-size="17.6" textLength="28.62" lengthAdjust="spacingAndGlyphs">2.0</text>
<line x1="2104.90" y1="461.40" x2="2101.90" y2="461.40" stroke="#000" stroke-width="1.1"/>
<text x="2112.20" y="466.70" font-size="17.6" textLength="28.62" lengthAdjust="spacingAndGlyphs">2.5</text>
<line x1="2104.90" y1="432.90" x2="2101.90" y2="432.90" stroke="#000" stroke-width="1.1"/>
<text x="2112.20" y="438.20" font-size="17.6" textLength="28.62" lengthAdjust="spacingAndGlyphs">3.0</text>
<line x1="2104.90" y1="404.40" x2="2101.90" y2="404.40" stroke="#000" stroke-width="1.1"/>
<text x="2112.20" y="409.70" font-size="17.6" textLength="28.62" lengthAdjust="spacingAndGlyphs">3.5</text>
<text transform="translate(2151.80,500.50) rotate(90)" font-size="21" text-anchor="middle" fill="#ff0000">BA (s)</text>
<path d="M1826.80,431.10H1838.00V467.60L1836.50,469.60L1838.00,471.60V506.10H1826.80V471.60L1828.30,469.60L1826.80,467.60Z" fill="#fff" stroke="#000" stroke-width="1.2" stroke-linejoin="round"/>
<line x1="1832.40" y1="406.50" x2="1832.40" y2="431.10" stroke="#000" stroke-width="1.3"/>
<line x1="1829.60" y1="406.50" x2="1835.20" y2="406.50" stroke="#000" stroke-width="1.5"/>
<line x1="1832.40" y1="529.90" x2="1832.40" y2="506.10" stroke="#000" stroke-width="1.3"/>
<line x1="1829.60" y1="529.90" x2="1835.20" y2="529.90" stroke="#000" stroke-width="1.5"/>
<line x1="1828.30" y1="469.60" x2="1836.50" y2="469.60" stroke="#000" stroke-width="1.9"/>
<path d="M1840.40,452.60H1851.60V492.70L1850.10,494.70L1851.60,496.70V545.10H1840.40V496.70L1841.90,494.70L1840.40,492.70Z" fill="#a3a3ff" stroke="#0000ff" stroke-width="2.0" stroke-linejoin="round"/>
<line x1="1846.00" y1="439.50" x2="1846.00" y2="452.60" stroke="#0000ff" stroke-width="1.3"/>
<line x1="1843.20" y1="439.50" x2="1848.80" y2="439.50" stroke="#0000ff" stroke-width="1.5"/>
<line x1="1846.00" y1="556.20" x2="1846.00" y2="545.10" stroke="#0000ff" stroke-width="1.3"/>
<line x1="1843.20" y1="556.20" x2="1848.80" y2="556.20" stroke="#0000ff" stroke-width="1.5"/>
<line x1="1841.90" y1="494.70" x2="1850.10" y2="494.70" stroke="#0000ff" stroke-width="2.2"/>
<path d="M1853.90,396.90H1865.10V503.40L1862.10,509.90L1865.10,516.40V585.60H1853.90V516.40L1856.90,509.90L1853.90,503.40Z" fill="#ffa3a3" stroke="#ff0000" stroke-width="2.0" stroke-linejoin="round"/>
<line x1="1859.50" y1="406.10" x2="1859.50" y2="396.90" stroke="#ff0000" stroke-width="1.3"/>
<line x1="1856.70" y1="406.10" x2="1862.30" y2="406.10" stroke="#ff0000" stroke-width="1.5"/>
<line x1="1859.50" y1="589.20" x2="1859.50" y2="585.60" stroke="#ff0000" stroke-width="1.3"/>
<line x1="1856.70" y1="589.20" x2="1862.30" y2="589.20" stroke="#ff0000" stroke-width="1.5"/>
<line x1="1856.90" y1="509.90" x2="1862.10" y2="509.90" stroke="#ff0000" stroke-width="2.2"/>
<path d="M1880.40,482.20H1891.60V511.50L1890.10,513.50L1891.60,515.50V554.00H1880.40V515.50L1881.90,513.50L1880.40,511.50Z" fill="#fff" stroke="#000" stroke-width="1.2" stroke-linejoin="round"/>
<line x1="1886.00" y1="446.40" x2="1886.00" y2="482.20" stroke="#000" stroke-width="1.3"/>
<line x1="1883.20" y1="446.40" x2="1888.80" y2="446.40" stroke="#000" stroke-width="1.5"/>
<line x1="1886.00" y1="567.70" x2="1886.00" y2="554.00" stroke="#000" stroke-width="1.3"/>
<line x1="1883.20" y1="567.70" x2="1888.80" y2="567.70" stroke="#000" stroke-width="1.5"/>
<line x1="1881.90" y1="513.50" x2="1890.10" y2="513.50" stroke="#000" stroke-width="1.9"/>
<path d="M1893.80,425.90H1905.00V446.80L1903.50,448.80L1905.00,450.80V470.80H1893.80V450.80L1895.30,448.80L1893.80,446.80Z" fill="#a3a3ff" stroke="#0000ff" stroke-width="2.0" stroke-linejoin="round"/>
<line x1="1899.40" y1="418.80" x2="1899.40" y2="425.90" stroke="#0000ff" stroke-width="1.3"/>
<line x1="1896.60" y1="418.80" x2="1902.20" y2="418.80" stroke="#0000ff" stroke-width="1.5"/>
<line x1="1899.40" y1="485.70" x2="1899.40" y2="470.80" stroke="#0000ff" stroke-width="1.3"/>
<line x1="1896.60" y1="485.70" x2="1902.20" y2="485.70" stroke="#0000ff" stroke-width="1.5"/>
<line x1="1895.30" y1="448.80" x2="1903.50" y2="448.80" stroke="#0000ff" stroke-width="2.2"/>
<path d="M1907.90,575.20H1919.10V596.90H1907.90Z" fill="#ffa3a3" stroke="#ff0000" stroke-width="2.0" stroke-linejoin="round"/>
<line x1="1913.50" y1="568.10" x2="1913.50" y2="575.20" stroke="#ff0000" stroke-width="1.3"/>
<line x1="1910.70" y1="568.10" x2="1916.30" y2="568.10" stroke="#ff0000" stroke-width="1.5"/>
<line x1="1913.50" y1="598.70" x2="1913.50" y2="596.90" stroke="#ff0000" stroke-width="1.3"/>
<line x1="1910.70" y1="598.70" x2="1916.30" y2="598.70" stroke="#ff0000" stroke-width="1.5"/>
<line x1="1907.90" y1="582.90" x2="1919.10" y2="582.90" stroke="#ff0000" stroke-width="2.2"/>
<path d="M1934.30,495.30H1945.50V528.20L1944.00,530.20L1945.50,532.20V560.00H1934.30V532.20L1935.80,530.20L1934.30,528.20Z" fill="#fff" stroke="#000" stroke-width="1.2" stroke-linejoin="round"/>
<line x1="1939.90" y1="458.30" x2="1939.90" y2="495.30" stroke="#000" stroke-width="1.3"/>
<line x1="1937.10" y1="458.30" x2="1942.70" y2="458.30" stroke="#000" stroke-width="1.5"/>
<line x1="1939.90" y1="579.30" x2="1939.90" y2="560.00" stroke="#000" stroke-width="1.3"/>
<line x1="1937.10" y1="579.30" x2="1942.70" y2="579.30" stroke="#000" stroke-width="1.5"/>
<line x1="1935.80" y1="530.20" x2="1944.00" y2="530.20" stroke="#000" stroke-width="1.9"/>
<path d="M1947.40,416.60H1958.60V427.50L1957.10,429.50L1958.60,431.50V459.30H1947.40V431.50L1948.90,429.50L1947.40,427.50Z" fill="#a3a3ff" stroke="#0000ff" stroke-width="2.0" stroke-linejoin="round"/>
<line x1="1953.00" y1="410.00" x2="1953.00" y2="416.60" stroke="#0000ff" stroke-width="1.3"/>
<line x1="1950.20" y1="410.00" x2="1955.80" y2="410.00" stroke="#0000ff" stroke-width="1.5"/>
<line x1="1953.00" y1="468.80" x2="1953.00" y2="459.30" stroke="#0000ff" stroke-width="1.3"/>
<line x1="1950.20" y1="468.80" x2="1955.80" y2="468.80" stroke="#0000ff" stroke-width="1.5"/>
<line x1="1948.90" y1="429.50" x2="1957.10" y2="429.50" stroke="#0000ff" stroke-width="2.2"/>
<path d="M1961.70,574.00H1972.90V593.90H1961.70Z" fill="#ffa3a3" stroke="#ff0000" stroke-width="2.0" stroke-linejoin="round"/>
<line x1="1967.30" y1="566.90" x2="1967.30" y2="574.00" stroke="#ff0000" stroke-width="1.3"/>
<line x1="1964.50" y1="566.90" x2="1970.10" y2="566.90" stroke="#ff0000" stroke-width="1.5"/>
<line x1="1967.30" y1="596.90" x2="1967.30" y2="593.90" stroke="#ff0000" stroke-width="1.3"/>
<line x1="1964.50" y1="596.90" x2="1970.10" y2="596.90" stroke="#ff0000" stroke-width="1.5"/>
<line x1="1961.70" y1="582.00" x2="1972.90" y2="582.00" stroke="#ff0000" stroke-width="2.2"/>
<path d="M1987.90,514.70H1999.10V549.90L1997.60,551.90L1999.10,553.90V576.90H1987.90V553.90L1989.40,551.90L1987.90,549.90Z" fill="#fff" stroke="#000" stroke-width="1.2" stroke-linejoin="round"/>
<line x1="1993.50" y1="496.50" x2="1993.50" y2="514.70" stroke="#000" stroke-width="1.3"/>
<line x1="1990.70" y1="496.50" x2="1996.30" y2="496.50" stroke="#000" stroke-width="1.5"/>
<line x1="1993.50" y1="587.60" x2="1993.50" y2="576.90" stroke="#000" stroke-width="1.3"/>
<line x1="1990.70" y1="587.60" x2="1996.30" y2="587.60" stroke="#000" stroke-width="1.5"/>
<line x1="1989.40" y1="551.90" x2="1997.60" y2="551.90" stroke="#000" stroke-width="1.9"/>
<path d="M2001.10,414.50H2012.30V424.40L2010.80,426.40L2012.30,428.40V454.50H2001.10V428.40L2002.60,426.40L2001.10,424.40Z" fill="#a3a3ff" stroke="#0000ff" stroke-width="2.0" stroke-linejoin="round"/>
<line x1="2006.70" y1="406.50" x2="2006.70" y2="414.50" stroke="#0000ff" stroke-width="1.3"/>
<line x1="2003.90" y1="406.50" x2="2009.50" y2="406.50" stroke="#0000ff" stroke-width="1.5"/>
<line x1="2006.70" y1="463.70" x2="2006.70" y2="454.50" stroke="#0000ff" stroke-width="1.3"/>
<line x1="2003.90" y1="463.70" x2="2009.50" y2="463.70" stroke="#0000ff" stroke-width="1.5"/>
<line x1="2002.60" y1="426.40" x2="2010.80" y2="426.40" stroke="#0000ff" stroke-width="2.2"/>
<path d="M2015.60,575.70H2026.80V596.90H2015.60Z" fill="#ffa3a3" stroke="#ff0000" stroke-width="2.0" stroke-linejoin="round"/>
<line x1="2021.20" y1="568.90" x2="2021.20" y2="575.70" stroke="#ff0000" stroke-width="1.3"/>
<line x1="2018.40" y1="568.90" x2="2024.00" y2="568.90" stroke="#ff0000" stroke-width="1.5"/>
<line x1="2021.20" y1="599.50" x2="2021.20" y2="596.90" stroke="#ff0000" stroke-width="1.3"/>
<line x1="2018.40" y1="599.50" x2="2024.00" y2="599.50" stroke="#ff0000" stroke-width="1.5"/>
<line x1="2015.60" y1="587.60" x2="2026.80" y2="587.60" stroke="#ff0000" stroke-width="2.2"/>
<text transform="translate(0.50,705.80) scale(0.72,1)" font-size="21" fill="#000" font-weight="normal">1<tspan dx="-0.60">1</tspan></text>
<text x="60.10" y="704.90" font-size="10.2" class="m" font-weight="bold" letter-spacing="1.08">TAWSS~</text>
<text x="131.70" y="704.90" font-size="10.2" class="m" font-weight="bold" letter-spacing="1.08">BV</text>
<text x="196.60" y="704.90" font-size="10.2" fill="#0000ff" class="m" font-weight="bold" letter-spacing="1.08">IIR</text>
<text x="275.60" y="704.90" font-size="10.2" fill="#ff0000" class="m" font-weight="bold" letter-spacing="1.08">BA</text>
<text x="64.80" y="718.60" font-size="10.5" class="m" font-weight="bold" font-style="italic">p</text>
<text x="65.70" y="732.20" font-size="10.5" class="m" font-weight="bold" font-style="italic">r</text>
<text x="153.90" y="718.60" font-size="10.0" text-anchor="end" fill="#222" class="m" letter-spacing="1.20">&lt;0.001</text>
<text x="153.90" y="732.20" font-size="10.0" text-anchor="end" fill="#222" class="m" letter-spacing="1.20">-0.021</text>
<text x="227.70" y="718.60" font-size="10.0" text-anchor="end" fill="#222" class="m" letter-spacing="1.20">&lt;0.001</text>
<text x="227.70" y="732.20" font-size="10.0" text-anchor="end" fill="#222" class="m" letter-spacing="1.20">0.390</text>
<text x="301.50" y="718.60" font-size="10.0" text-anchor="end" fill="#222" class="m" letter-spacing="1.20">&lt;0.001</text>
<text x="301.50" y="732.20" font-size="10.0" text-anchor="end" fill="#222" class="m" letter-spacing="1.20">0.176</text>
<rect x="69.30" y="740.60" width="214.80" height="208.40" fill="none" stroke="#000" stroke-width="1.3"/>
<line x1="96.40" y1="949.00" x2="96.40" y2="946.00" stroke="#000" stroke-width="1.1"/>
<line x1="149.60" y1="949.00" x2="149.60" y2="946.00" stroke="#000" stroke-width="1.1"/>
<line x1="203.60" y1="949.00" x2="203.60" y2="946.00" stroke="#000" stroke-width="1.1"/>
<line x1="256.70" y1="949.00" x2="256.70" y2="946.00" stroke="#000" stroke-width="1.1"/>
<text x="96.10" y="975.90" font-size="18.4" text-anchor="middle" textLength="21.6" lengthAdjust="spacingAndGlyphs">Q1</text>
<text x="149.80" y="975.90" font-size="18.4" text-anchor="middle">Q2</text>
<text x="203.80" y="975.90" font-size="18.4" text-anchor="middle">Q3</text>
<text x="256.90" y="975.90" font-size="18.4" text-anchor="middle">Q4</text>
<text x="176.00" y="1005.60" font-size="21" text-anchor="middle" textLength="71.5" lengthAdjust="spacingAndGlyphs">TAWSS</text>
<line x1="69.30" y1="948.70" x2="72.30" y2="948.70" stroke="#000" stroke-width="1.1"/>
<text x="59.50" y="952.70" font-size="17.6" text-anchor="end" textLength="11.45" lengthAdjust="spacingAndGlyphs">0</text>
<line x1="69.30" y1="917.38" x2="72.30" y2="917.38" stroke="#000" stroke-width="1.1"/>
<text x="59.50" y="921.38" font-size="17.6" text-anchor="end" textLength="28.62" lengthAdjust="spacingAndGlyphs">0.5</text>
<line x1="69.30" y1="886.07" x2="72.30" y2="886.07" stroke="#000" stroke-width="1.1"/>
<text x="59.50" y="890.07" font-size="17.6" text-anchor="end" textLength="25.20" lengthAdjust="spacingAndGlyphs">1.0</text>
<line x1="69.30" y1="854.75" x2="72.30" y2="854.75" stroke="#000" stroke-width="1.1"/>
<text x="59.50" y="858.75" font-size="17.6" text-anchor="end" textLength="25.20" lengthAdjust="spacingAndGlyphs">1.5</text>
<line x1="69.30" y1="823.43" x2="72.30" y2="823.43" stroke="#000" stroke-width="1.1"/>
<text x="59.50" y="827.43" font-size="17.6" text-anchor="end" textLength="28.62" lengthAdjust="spacingAndGlyphs">2.0</text>
<line x1="69.30" y1="792.12" x2="72.30" y2="792.12" stroke="#000" stroke-width="1.1"/>
<text x="59.50" y="796.12" font-size="17.6" text-anchor="end" textLength="28.62" lengthAdjust="spacingAndGlyphs">2.5</text>
<line x1="69.30" y1="760.80" x2="72.30" y2="760.80" stroke="#000" stroke-width="1.1"/>
<text x="59.50" y="764.80" font-size="17.6" text-anchor="end" textLength="28.62" lengthAdjust="spacingAndGlyphs">3.0</text>
<text transform="translate(18.60,845.00) rotate(-90)" font-size="21" text-anchor="middle" fill="#000">BV (mV)</text>
<line x1="284.10" y1="948.60" x2="281.10" y2="948.60" stroke="#000" stroke-width="1.1"/>
<text x="292.50" y="953.40" font-size="17.6" textLength="11.45" lengthAdjust="spacingAndGlyphs">0</text>
<line x1="284.10" y1="913.68" x2="281.10" y2="913.68" stroke="#000" stroke-width="1.1"/>
<text x="292.50" y="918.48" font-size="17.6" textLength="28.62" lengthAdjust="spacingAndGlyphs">0.2</text>
<line x1="284.10" y1="878.76" x2="281.10" y2="878.76" stroke="#000" stroke-width="1.1"/>
<text x="292.50" y="883.56" font-size="17.6" textLength="28.62" lengthAdjust="spacingAndGlyphs">0.4</text>
<line x1="284.10" y1="843.84" x2="281.10" y2="843.84" stroke="#000" stroke-width="1.1"/>
<text x="292.50" y="848.64" font-size="17.6" textLength="28.62" lengthAdjust="spacingAndGlyphs">0.6</text>
<line x1="284.10" y1="808.92" x2="281.10" y2="808.92" stroke="#000" stroke-width="1.1"/>
<text x="292.50" y="813.72" font-size="17.6" textLength="28.62" lengthAdjust="spacingAndGlyphs">0.8</text>
<line x1="284.10" y1="774.00" x2="281.10" y2="774.00" stroke="#000" stroke-width="1.1"/>
<text x="292.50" y="778.80" font-size="17.6" textLength="25.20" lengthAdjust="spacingAndGlyphs">1.0</text>
<text transform="translate(333.10,844.50) rotate(90)" font-size="21" text-anchor="middle" fill="#0000ff" textLength="24.6" lengthAdjust="spacingAndGlyphs">IIR</text>
<line x1="359.90" y1="740.60" x2="359.90" y2="949.00" stroke="#000" stroke-width="1.3"/>
<line x1="359.90" y1="947.80" x2="356.90" y2="947.80" stroke="#000" stroke-width="1.1"/>
<text x="367.20" y="953.80" font-size="17.6" textLength="11.45" lengthAdjust="spacingAndGlyphs">0</text>
<line x1="359.90" y1="902.97" x2="356.90" y2="902.97" stroke="#000" stroke-width="1.1"/>
<text x="367.20" y="908.97" font-size="17.6" textLength="28.62" lengthAdjust="spacingAndGlyphs">0.1</text>
<line x1="359.90" y1="858.15" x2="356.90" y2="858.15" stroke="#000" stroke-width="1.1"/>
<text x="367.20" y="864.15" font-size="17.6" textLength="28.62" lengthAdjust="spacingAndGlyphs">0.2</text>
<line x1="359.90" y1="813.33" x2="356.90" y2="813.33" stroke="#000" stroke-width="1.1"/>
<text x="367.20" y="819.33" font-size="17.6" textLength="28.62" lengthAdjust="spacingAndGlyphs">0.3</text>
<line x1="359.90" y1="768.50" x2="356.90" y2="768.50" stroke="#000" stroke-width="1.1"/>
<text x="367.20" y="774.50" font-size="17.6" textLength="28.62" lengthAdjust="spacingAndGlyphs">0.4</text>
<text transform="translate(413.50,844.40) rotate(90)" font-size="21" text-anchor="middle" fill="#ff0000">BA (s)</text>
<line x1="240.8" y1="741.3" x2="246.8" y2="741.3" stroke="#0000ff" stroke-width="1.3"/>
<path d="M77.30,848.60H88.50V891.50L87.00,893.50L88.50,895.50V929.20H77.30V895.50L78.80,893.50L77.30,891.50Z" fill="#fff" stroke="#000" stroke-width="1.2" stroke-linejoin="round"/>
<line x1="82.90" y1="814.50" x2="82.90" y2="848.60" stroke="#000" stroke-width="1.3"/>
<line x1="80.10" y1="814.50" x2="85.70" y2="814.50" stroke="#000" stroke-width="1.5"/>
<line x1="82.90" y1="942.70" x2="82.90" y2="929.20" stroke="#000" stroke-width="1.3"/>
<line x1="80.10" y1="942.70" x2="85.70" y2="942.70" stroke="#000" stroke-width="1.5"/>
<line x1="78.80" y1="893.50" x2="87.00" y2="893.50" stroke="#000" stroke-width="1.9"/>
<path d="M90.80,814.00H102.00V847.60L100.50,849.60L102.00,851.60V871.80H90.80V851.60L92.30,849.60L90.80,847.60Z" fill="#a3a3ff" stroke="#0000ff" stroke-width="2.0" stroke-linejoin="round"/>
<line x1="96.40" y1="799.70" x2="96.40" y2="814.00" stroke="#0000ff" stroke-width="1.3"/>
<line x1="93.60" y1="799.70" x2="99.20" y2="799.70" stroke="#0000ff" stroke-width="1.5"/>
<line x1="96.40" y1="881.90" x2="96.40" y2="871.80" stroke="#0000ff" stroke-width="1.3"/>
<line x1="93.60" y1="881.90" x2="99.20" y2="881.90" stroke="#0000ff" stroke-width="1.5"/>
<line x1="92.30" y1="849.60" x2="100.50" y2="849.60" stroke="#0000ff" stroke-width="2.2"/>
<path d="M104.50,844.50H115.70V869.80L114.20,871.80L115.70,873.80V907.00H104.50V873.80L106.00,871.80L104.50,869.80Z" fill="#ffa3a3" stroke="#ff0000" stroke-width="2.0" stroke-linejoin="round"/>
<line x1="110.10" y1="822.00" x2="110.10" y2="844.50" stroke="#ff0000" stroke-width="1.3"/>
<line x1="107.30" y1="822.00" x2="112.90" y2="822.00" stroke="#ff0000" stroke-width="1.5"/>
<line x1="110.10" y1="917.30" x2="110.10" y2="907.00" stroke="#ff0000" stroke-width="1.3"/>
<line x1="107.30" y1="917.30" x2="112.90" y2="917.30" stroke="#ff0000" stroke-width="1.5"/>
<line x1="106.00" y1="871.80" x2="114.20" y2="871.80" stroke="#ff0000" stroke-width="2.2"/>
<path d="M130.70,807.70H141.90V864.40L140.40,866.40L141.90,868.40V903.00H130.70V868.40L132.20,866.40L130.70,864.40Z" fill="#fff" stroke="#000" stroke-width="1.2" stroke-linejoin="round"/>
<line x1="136.30" y1="750.80" x2="136.30" y2="807.70" stroke="#000" stroke-width="1.3"/>
<line x1="133.50" y1="750.80" x2="139.10" y2="750.80" stroke="#000" stroke-width="1.5"/>
<line x1="136.30" y1="933.80" x2="136.30" y2="903.00" stroke="#000" stroke-width="1.3"/>
<line x1="133.50" y1="933.80" x2="139.10" y2="933.80" stroke="#000" stroke-width="1.5"/>
<line x1="132.20" y1="866.40" x2="140.40" y2="866.40" stroke="#000" stroke-width="1.9"/>
<path d="M144.40,798.50H155.60V829.90L154.10,831.90L155.60,833.90V861.70H144.40V833.90L145.90,831.90L144.40,829.90Z" fill="#a3a3ff" stroke="#0000ff" stroke-width="2.0" stroke-linejoin="round"/>
<line x1="150.00" y1="784.20" x2="150.00" y2="798.50" stroke="#0000ff" stroke-width="1.3"/>
<line x1="147.20" y1="784.20" x2="152.80" y2="784.20" stroke="#0000ff" stroke-width="1.5"/>
<line x1="150.00" y1="873.60" x2="150.00" y2="861.70" stroke="#0000ff" stroke-width="1.3"/>
<line x1="147.20" y1="873.60" x2="152.80" y2="873.60" stroke="#0000ff" stroke-width="1.5"/>
<line x1="145.90" y1="831.90" x2="154.10" y2="831.90" stroke="#0000ff" stroke-width="2.2"/>
<path d="M158.10,762.00H169.30V802.90L167.80,804.90L169.30,806.90V864.00H158.10V806.90L159.60,804.90L158.10,802.90Z" fill="#ffa3a3" stroke="#ff0000" stroke-width="2.0" stroke-linejoin="round"/>
<line x1="163.70" y1="758.80" x2="163.70" y2="762.00" stroke="#ff0000" stroke-width="1.3"/>
<line x1="160.90" y1="758.80" x2="166.50" y2="758.80" stroke="#ff0000" stroke-width="1.5"/>
<line x1="163.70" y1="877.20" x2="163.70" y2="864.00" stroke="#ff0000" stroke-width="1.3"/>
<line x1="160.90" y1="877.20" x2="166.50" y2="877.20" stroke="#ff0000" stroke-width="1.5"/>
<line x1="159.60" y1="804.90" x2="167.80" y2="804.90" stroke="#ff0000" stroke-width="2.2"/>
<path d="M184.30,817.20H195.50V858.10L194.00,860.10L195.50,862.10V892.30H184.30V862.10L185.80,860.10L184.30,858.10Z" fill="#fff" stroke="#000" stroke-width="1.2" stroke-linejoin="round"/>
<line x1="189.90" y1="777.50" x2="189.90" y2="817.20" stroke="#000" stroke-width="1.3"/>
<line x1="187.10" y1="777.50" x2="192.70" y2="777.50" stroke="#000" stroke-width="1.5"/>
<line x1="189.90" y1="918.00" x2="189.90" y2="892.30" stroke="#000" stroke-width="1.3"/>
<line x1="187.10" y1="918.00" x2="192.70" y2="918.00" stroke="#000" stroke-width="1.5"/>
<line x1="185.80" y1="860.10" x2="194.00" y2="860.10" stroke="#000" stroke-width="1.9"/>
<path d="M198.00,783.00H209.20V816.40L207.70,818.40L209.20,820.40V853.00H198.00V820.40L199.50,818.40L198.00,816.40Z" fill="#a3a3ff" stroke="#0000ff" stroke-width="2.0" stroke-linejoin="round"/>
<line x1="203.60" y1="771.60" x2="203.60" y2="783.00" stroke="#0000ff" stroke-width="1.3"/>
<line x1="200.80" y1="771.60" x2="206.40" y2="771.60" stroke="#0000ff" stroke-width="1.5"/>
<line x1="203.60" y1="861.70" x2="203.60" y2="853.00" stroke="#0000ff" stroke-width="1.3"/>
<line x1="200.80" y1="861.70" x2="206.40" y2="861.70" stroke="#0000ff" stroke-width="1.5"/>
<line x1="199.50" y1="818.40" x2="207.70" y2="818.40" stroke="#0000ff" stroke-width="2.2"/>
<path d="M212.00,759.40H223.20V790.50L221.70,792.50L223.20,794.50V838.70H212.00V794.50L213.50,792.50L212.00,790.50Z" fill="#ffa3a3" stroke="#ff0000" stroke-width="2.0" stroke-linejoin="round"/>
<line x1="217.60" y1="750.80" x2="217.60" y2="759.40" stroke="#ff0000" stroke-width="1.3"/>
<line x1="214.80" y1="750.80" x2="220.40" y2="750.80" stroke="#ff0000" stroke-width="1.5"/>
<line x1="217.60" y1="857.50" x2="217.60" y2="838.70" stroke="#ff0000" stroke-width="1.3"/>
<line x1="214.80" y1="857.50" x2="220.40" y2="857.50" stroke="#ff0000" stroke-width="1.5"/>
<line x1="213.50" y1="792.50" x2="221.70" y2="792.50" stroke="#ff0000" stroke-width="2.2"/>
<path d="M238.20,838.70H249.40V872.20L247.90,874.20L249.40,876.20V901.80H238.20V876.20L239.70,874.20L238.20,872.20Z" fill="#fff" stroke="#000" stroke-width="1.2" stroke-linejoin="round"/>
<line x1="243.80" y1="819.60" x2="243.80" y2="838.70" stroke="#000" stroke-width="1.3"/>
<line x1="241.00" y1="819.60" x2="246.60" y2="819.60" stroke="#000" stroke-width="1.5"/>
<line x1="243.80" y1="913.50" x2="243.80" y2="901.80" stroke="#000" stroke-width="1.3"/>
<line x1="241.00" y1="913.50" x2="246.60" y2="913.50" stroke="#000" stroke-width="1.5"/>
<line x1="239.70" y1="874.20" x2="247.90" y2="874.20" stroke="#000" stroke-width="1.9"/>
<path d="M251.70,758.80H262.90V789.00L261.40,791.00L262.90,793.00V830.70H251.70V793.00L253.20,791.00L251.70,789.00Z" fill="#a3a3ff" stroke="#0000ff" stroke-width="2.0" stroke-linejoin="round"/>
<line x1="257.30" y1="750.80" x2="257.30" y2="758.80" stroke="#0000ff" stroke-width="1.3"/>
<line x1="254.50" y1="750.80" x2="260.10" y2="750.80" stroke="#0000ff" stroke-width="1.5"/>
<line x1="257.30" y1="839.30" x2="257.30" y2="830.70" stroke="#0000ff" stroke-width="1.3"/>
<line x1="254.50" y1="839.30" x2="260.10" y2="839.30" stroke="#0000ff" stroke-width="1.5"/>
<line x1="253.20" y1="791.00" x2="261.40" y2="791.00" stroke="#0000ff" stroke-width="2.2"/>
<path d="M266.00,766.60H277.20V808.10L275.70,810.10L277.20,812.10V860.50H266.00V812.10L267.50,810.10L266.00,808.10Z" fill="#ffa3a3" stroke="#ff0000" stroke-width="2.0" stroke-linejoin="round"/>
<line x1="271.60" y1="766.00" x2="271.60" y2="766.60" stroke="#ff0000" stroke-width="1.3"/>
<line x1="268.80" y1="766.00" x2="274.40" y2="766.00" stroke="#ff0000" stroke-width="1.5"/>
<line x1="271.60" y1="868.00" x2="271.60" y2="860.50" stroke="#ff0000" stroke-width="1.3"/>
<line x1="268.80" y1="868.00" x2="274.40" y2="868.00" stroke="#ff0000" stroke-width="1.5"/>
<line x1="267.50" y1="810.10" x2="275.70" y2="810.10" stroke="#ff0000" stroke-width="2.2"/>
<text transform="translate(445.20,705.60) scale(1.0,1)" font-size="21" fill="#000" font-weight="normal">1<tspan dx="-2.10">2</tspan></text>
<text x="501.30" y="704.90" font-size="10.2" class="m" font-weight="bold" letter-spacing="1.08">TAWSS~</text>
<text x="573.20" y="704.90" font-size="10.2" class="m" font-weight="bold" letter-spacing="1.08">BV</text>
<text x="637.40" y="704.90" font-size="10.2" fill="#0000ff" class="m" font-weight="bold" letter-spacing="1.08">IIR</text>
<text x="716.80" y="704.90" font-size="10.2" fill="#ff0000" class="m" font-weight="bold" letter-spacing="1.08">BA</text>
<text x="513.70" y="718.60" font-size="10.5" class="m" font-weight="bold" font-style="italic">p</text>
<text x="514.60" y="732.20" font-size="10.5" class="m" font-weight="bold" font-style="italic">r</text>
<text x="594.60" y="718.60" font-size="10.0" text-anchor="end" fill="#222" class="m" letter-spacing="1.20">&lt;0.001</text>
<text x="594.60" y="732.20" font-size="10.0" text-anchor="end" fill="#222" class="m" letter-spacing="1.20">-0.248</text>
<text x="667.70" y="718.60" font-size="10.0" text-anchor="end" fill="#222" class="m" letter-spacing="1.20">&lt;0.001</text>
<text x="667.70" y="732.20" font-size="10.0" text-anchor="end" fill="#222" class="m" letter-spacing="1.20">0.162</text>
<text x="741.50" y="718.60" font-size="10.0" text-anchor="end" fill="#222" class="m" letter-spacing="1.20">&lt;0.001</text>
<text x="741.50" y="732.20" font-size="10.0" text-anchor="end" fill="#222" class="m" letter-spacing="1.20">-0.521</text>
<rect x="511.60" y="740.60" width="214.90" height="208.40" fill="none" stroke="#000" stroke-width="1.3"/>
<line x1="538.40" y1="949.00" x2="538.40" y2="946.00" stroke="#000" stroke-width="1.1"/>
<line x1="592.10" y1="949.00" x2="592.10" y2="946.00" stroke="#000" stroke-width="1.1"/>
<line x1="645.60" y1="949.00" x2="645.60" y2="946.00" stroke="#000" stroke-width="1.1"/>
<line x1="699.30" y1="949.00" x2="699.30" y2="946.00" stroke="#000" stroke-width="1.1"/>
<text x="538.10" y="975.90" font-size="18.4" text-anchor="middle" textLength="21.6" lengthAdjust="spacingAndGlyphs">Q1</text>
<text x="592.30" y="975.90" font-size="18.4" text-anchor="middle">Q2</text>
<text x="645.80" y="975.90" font-size="18.4" text-anchor="middle">Q3</text>
<text x="699.50" y="975.90" font-size="18.4" text-anchor="middle">Q4</text>
<text x="619.20" y="1005.60" font-size="21" text-anchor="middle" textLength="71.5" lengthAdjust="spacingAndGlyphs">TAWSS</text>
<line x1="511.60" y1="949.40" x2="514.60" y2="949.40" stroke="#000" stroke-width="1.1"/>
<text x="500.60" y="954.40" font-size="17.6" text-anchor="end" textLength="11.45" lengthAdjust="spacingAndGlyphs">0</text>
<line x1="511.60" y1="923.69" x2="514.60" y2="923.69" stroke="#000" stroke-width="1.1"/>
<text x="500.60" y="928.69" font-size="17.6" text-anchor="end" textLength="28.62" lengthAdjust="spacingAndGlyphs">0.5</text>
<line x1="511.60" y1="897.98" x2="514.60" y2="897.98" stroke="#000" stroke-width="1.1"/>
<text x="500.60" y="902.98" font-size="17.6" text-anchor="end" textLength="25.20" lengthAdjust="spacingAndGlyphs">1.0</text>
<line x1="511.60" y1="872.26" x2="514.60" y2="872.26" stroke="#000" stroke-width="1.1"/>
<text x="500.60" y="877.26" font-size="17.6" text-anchor="end" textLength="25.20" lengthAdjust="spacingAndGlyphs">1.5</text>
<line x1="511.60" y1="846.55" x2="514.60" y2="846.55" stroke="#000" stroke-width="1.1"/>
<text x="500.60" y="851.55" font-size="17.6" text-anchor="end" textLength="28.62" lengthAdjust="spacingAndGlyphs">2.0</text>
<line x1="511.60" y1="820.84" x2="514.60" y2="820.84" stroke="#000" stroke-width="1.1"/>
<text x="500.60" y="825.84" font-size="17.6" text-anchor="end" textLength="28.62" lengthAdjust="spacingAndGlyphs">2.5</text>
<line x1="511.60" y1="795.12" x2="514.60" y2="795.12" stroke="#000" stroke-width="1.1"/>
<text x="500.60" y="800.12" font-size="17.6" text-anchor="end" textLength="28.62" lengthAdjust="spacingAndGlyphs">3.0</text>
<line x1="511.60" y1="769.41" x2="514.60" y2="769.41" stroke="#000" stroke-width="1.1"/>
<text x="500.60" y="774.41" font-size="17.6" text-anchor="end" textLength="28.62" lengthAdjust="spacingAndGlyphs">3.5</text>
<line x1="511.60" y1="743.70" x2="514.60" y2="743.70" stroke="#000" stroke-width="1.1"/>
<text x="500.60" y="748.70" font-size="17.6" text-anchor="end" textLength="28.62" lengthAdjust="spacingAndGlyphs">4.0</text>
<text transform="translate(463.80,845.00) rotate(-90)" font-size="21" text-anchor="middle" fill="#000">BV (mV)</text>
<line x1="726.50" y1="949.20" x2="723.50" y2="949.20" stroke="#000" stroke-width="1.1"/>
<text x="736.40" y="954.50" font-size="17.6" textLength="11.45" lengthAdjust="spacingAndGlyphs">0</text>
<line x1="726.50" y1="882.27" x2="723.50" y2="882.27" stroke="#000" stroke-width="1.1"/>
<text x="736.40" y="887.57" font-size="17.6" textLength="28.62" lengthAdjust="spacingAndGlyphs">0.5</text>
<line x1="726.50" y1="815.33" x2="723.50" y2="815.33" stroke="#000" stroke-width="1.1"/>
<text x="736.40" y="820.63" font-size="17.6" textLength="25.20" lengthAdjust="spacingAndGlyphs">1.0</text>
<line x1="726.50" y1="748.40" x2="723.50" y2="748.40" stroke="#000" stroke-width="1.1"/>
<text x="736.40" y="753.70" font-size="17.6" textLength="25.20" lengthAdjust="spacingAndGlyphs">1.5</text>
<text transform="translate(761.30,844.50) rotate(90)" font-size="21" text-anchor="middle" fill="#0000ff" textLength="24.6" lengthAdjust="spacingAndGlyphs">IIR</text>
<line x1="786.20" y1="740.60" x2="786.20" y2="949.00" stroke="#000" stroke-width="1.3"/>
<line x1="786.20" y1="948.40" x2="783.20" y2="948.40" stroke="#000" stroke-width="1.1"/>
<text x="794.60" y="953.70" font-size="17.6" textLength="11.45" lengthAdjust="spacingAndGlyphs">0</text>
<line x1="786.20" y1="921.23" x2="783.20" y2="921.23" stroke="#000" stroke-width="1.1"/>
<text x="794.60" y="926.53" font-size="17.6" textLength="28.62" lengthAdjust="spacingAndGlyphs">0.5</text>
<line x1="786.20" y1="894.06" x2="783.20" y2="894.06" stroke="#000" stroke-width="1.1"/>
<text x="794.60" y="899.36" font-size="17.6" textLength="25.20" lengthAdjust="spacingAndGlyphs">1.0</text>
<line x1="786.20" y1="866.89" x2="783.20" y2="866.89" stroke="#000" stroke-width="1.1"/>
<text x="794.60" y="872.19" font-size="17.6" textLength="25.20" lengthAdjust="spacingAndGlyphs">1.5</text>
<line x1="786.20" y1="839.71" x2="783.20" y2="839.71" stroke="#000" stroke-width="1.1"/>
<text x="794.60" y="845.01" font-size="17.6" textLength="28.62" lengthAdjust="spacingAndGlyphs">2.0</text>
<line x1="786.20" y1="812.54" x2="783.20" y2="812.54" stroke="#000" stroke-width="1.1"/>
<text x="794.60" y="817.84" font-size="17.6" textLength="28.62" lengthAdjust="spacingAndGlyphs">2.5</text>
<line x1="786.20" y1="785.37" x2="783.20" y2="785.37" stroke="#000" stroke-width="1.1"/>
<text x="794.60" y="790.67" font-size="17.6" textLength="28.62" lengthAdjust="spacingAndGlyphs">3.0</text>
<line x1="786.20" y1="758.20" x2="783.20" y2="758.20" stroke="#000" stroke-width="1.1"/>
<text x="794.60" y="763.50" font-size="17.6" textLength="28.62" lengthAdjust="spacingAndGlyphs">3.5</text>
<text transform="translate(840.30,843.90) rotate(90)" font-size="21" text-anchor="middle" fill="#ff0000">BA (s)</text>
<path d="M519.70,771.90H530.90V826.30L529.40,828.30L530.90,830.30V859.30H519.70V830.30L521.20,828.30L519.70,826.30Z" fill="#fff" stroke="#000" stroke-width="1.2" stroke-linejoin="round"/>
<line x1="525.30" y1="750.80" x2="525.30" y2="771.90" stroke="#000" stroke-width="1.3"/>
<line x1="522.50" y1="750.80" x2="528.10" y2="750.80" stroke="#000" stroke-width="1.5"/>
<line x1="525.30" y1="874.20" x2="525.30" y2="859.30" stroke="#000" stroke-width="1.3"/>
<line x1="522.50" y1="874.20" x2="528.10" y2="874.20" stroke="#000" stroke-width="1.5"/>
<line x1="521.20" y1="828.30" x2="529.40" y2="828.30" stroke="#000" stroke-width="1.9"/>
<path d="M533.10,789.00H544.30V812.00L542.80,814.00L544.30,816.00V831.50H533.10V816.00L534.60,814.00L533.10,812.00Z" fill="#a3a3ff" stroke="#0000ff" stroke-width="2.0" stroke-linejoin="round"/>
<line x1="538.70" y1="772.50" x2="538.70" y2="789.00" stroke="#0000ff" stroke-width="1.3"/>
<line x1="535.90" y1="772.50" x2="541.50" y2="772.50" stroke="#0000ff" stroke-width="1.5"/>
<line x1="538.70" y1="847.20" x2="538.70" y2="831.50" stroke="#0000ff" stroke-width="1.3"/>
<line x1="535.90" y1="847.20" x2="541.50" y2="847.20" stroke="#0000ff" stroke-width="1.5"/>
<line x1="534.60" y1="814.00" x2="542.80" y2="814.00" stroke="#0000ff" stroke-width="2.2"/>
<path d="M546.60,761.80H557.80V819.40L556.30,821.40L557.80,823.40V847.00H546.60V823.40L548.10,821.40L546.60,819.40Z" fill="#ffa3a3" stroke="#ff0000" stroke-width="2.0" stroke-linejoin="round"/>
<line x1="552.20" y1="750.80" x2="552.20" y2="761.80" stroke="#ff0000" stroke-width="1.3"/>
<line x1="549.40" y1="750.80" x2="555.00" y2="750.80" stroke="#ff0000" stroke-width="1.5"/>
<line x1="552.20" y1="866.10" x2="552.20" y2="847.00" stroke="#ff0000" stroke-width="1.3"/>
<line x1="549.40" y1="866.10" x2="555.00" y2="866.10" stroke="#ff0000" stroke-width="1.5"/>
<line x1="548.10" y1="821.40" x2="556.30" y2="821.40" stroke="#ff0000" stroke-width="2.2"/>
<path d="M573.30,811.30H584.50V847.10L583.00,849.10L584.50,851.10V882.50H573.30V851.10L574.80,849.10L573.30,847.10Z" fill="#fff" stroke="#000" stroke-width="1.2" stroke-linejoin="round"/>
<line x1="578.90" y1="790.20" x2="578.90" y2="811.30" stroke="#000" stroke-width="1.3"/>
<line x1="576.10" y1="790.20" x2="581.70" y2="790.20" stroke="#000" stroke-width="1.5"/>
<line x1="578.90" y1="895.90" x2="578.90" y2="882.50" stroke="#000" stroke-width="1.3"/>
<line x1="576.10" y1="895.90" x2="581.70" y2="895.90" stroke="#000" stroke-width="1.5"/>
<line x1="574.80" y1="849.10" x2="583.00" y2="849.10" stroke="#000" stroke-width="1.9"/>
<path d="M586.80,775.10H598.00V802.10L596.50,804.10L598.00,806.10V830.00H586.80V806.10L588.30,804.10L586.80,802.10Z" fill="#a3a3ff" stroke="#0000ff" stroke-width="2.0" stroke-linejoin="round"/>
<line x1="592.40" y1="753.20" x2="592.40" y2="775.10" stroke="#0000ff" stroke-width="1.3"/>
<line x1="589.60" y1="753.20" x2="595.20" y2="753.20" stroke="#0000ff" stroke-width="1.5"/>
<line x1="592.40" y1="844.60" x2="592.40" y2="830.00" stroke="#0000ff" stroke-width="1.3"/>
<line x1="589.60" y1="844.60" x2="595.20" y2="844.60" stroke="#0000ff" stroke-width="1.5"/>
<line x1="588.30" y1="804.10" x2="596.50" y2="804.10" stroke="#0000ff" stroke-width="2.2"/>
<path d="M600.50,834.70H611.70V851.90L610.20,853.90L611.70,855.90V903.40H600.50V855.90L602.00,853.90L600.50,851.90Z" fill="#ffa3a3" stroke="#ff0000" stroke-width="2.0" stroke-linejoin="round"/>
<line x1="606.10" y1="822.80" x2="606.10" y2="834.70" stroke="#ff0000" stroke-width="1.3"/>
<line x1="603.30" y1="822.80" x2="608.90" y2="822.80" stroke="#ff0000" stroke-width="1.5"/>
<line x1="606.10" y1="910.90" x2="606.10" y2="903.40" stroke="#ff0000" stroke-width="1.3"/>
<line x1="603.30" y1="910.90" x2="608.90" y2="910.90" stroke="#ff0000" stroke-width="1.5"/>
<line x1="602.00" y1="853.90" x2="610.20" y2="853.90" stroke="#ff0000" stroke-width="2.2"/>
<path d="M626.90,827.90H638.10V869.20L636.60,871.20L638.10,873.20V900.20H626.90V873.20L628.40,871.20L626.90,869.20Z" fill="#fff" stroke="#000" stroke-width="1.2" stroke-linejoin="round"/>
<line x1="632.50" y1="808.30" x2="632.50" y2="827.90" stroke="#000" stroke-width="1.3"/>
<line x1="629.70" y1="808.30" x2="635.30" y2="808.30" stroke="#000" stroke-width="1.5"/>
<line x1="632.50" y1="911.70" x2="632.50" y2="900.20" stroke="#000" stroke-width="1.3"/>
<line x1="629.70" y1="911.70" x2="635.30" y2="911.70" stroke="#000" stroke-width="1.5"/>
<line x1="628.40" y1="871.20" x2="636.60" y2="871.20" stroke="#000" stroke-width="1.9"/>
<path d="M640.00,777.90H651.20V802.10L649.70,804.10L651.20,806.10V827.10H640.00V806.10L641.50,804.10L640.00,802.10Z" fill="#a3a3ff" stroke="#0000ff" stroke-width="2.0" stroke-linejoin="round"/>
<line x1="645.60" y1="763.20" x2="645.60" y2="777.90" stroke="#0000ff" stroke-width="1.3"/>
<line x1="642.80" y1="763.20" x2="648.40" y2="763.20" stroke="#0000ff" stroke-width="1.5"/>
<line x1="645.60" y1="839.90" x2="645.60" y2="827.10" stroke="#0000ff" stroke-width="1.3"/>
<line x1="642.80" y1="839.90" x2="648.40" y2="839.90" stroke="#0000ff" stroke-width="1.5"/>
<line x1="641.50" y1="804.10" x2="649.70" y2="804.10" stroke="#0000ff" stroke-width="2.2"/>
<path d="M654.50,849.80H665.70V880.30L664.20,882.30L665.70,884.30V924.20H654.50V884.30L656.00,882.30L654.50,880.30Z" fill="#ffa3a3" stroke="#ff0000" stroke-width="2.0" stroke-linejoin="round"/>
<line x1="660.10" y1="842.70" x2="660.10" y2="849.80" stroke="#ff0000" stroke-width="1.3"/>
<line x1="657.30" y1="842.70" x2="662.90" y2="842.70" stroke="#ff0000" stroke-width="1.5"/>
<line x1="660.10" y1="926.00" x2="660.10" y2="924.20" stroke="#ff0000" stroke-width="1.3"/>
<line x1="657.30" y1="926.00" x2="662.90" y2="926.00" stroke="#ff0000" stroke-width="1.5"/>
<line x1="656.00" y1="882.30" x2="664.20" y2="882.30" stroke="#ff0000" stroke-width="2.2"/>
<path d="M680.60,822.80H691.80V868.40L690.30,870.40L691.80,872.40V899.00H680.60V872.40L682.10,870.40L680.60,868.40Z" fill="#fff" stroke="#000" stroke-width="1.2" stroke-linejoin="round"/>
<line x1="686.20" y1="803.50" x2="686.20" y2="822.80" stroke="#000" stroke-width="1.3"/>
<line x1="683.40" y1="803.50" x2="689.00" y2="803.50" stroke="#000" stroke-width="1.5"/>
<line x1="686.20" y1="910.50" x2="686.20" y2="899.00" stroke="#000" stroke-width="1.3"/>
<line x1="683.40" y1="910.50" x2="689.00" y2="910.50" stroke="#000" stroke-width="1.5"/>
<line x1="682.10" y1="870.40" x2="690.30" y2="870.40" stroke="#000" stroke-width="1.9"/>
<path d="M694.00,758.00H705.20V787.40L703.70,789.40L705.20,791.40V826.20H694.00V791.40L695.50,789.40L694.00,787.40Z" fill="#a3a3ff" stroke="#0000ff" stroke-width="2.0" stroke-linejoin="round"/>
<line x1="699.60" y1="751.10" x2="699.60" y2="758.00" stroke="#0000ff" stroke-width="1.3"/>
<line x1="696.80" y1="751.10" x2="702.40" y2="751.10" stroke="#0000ff" stroke-width="1.5"/>
<line x1="699.60" y1="835.70" x2="699.60" y2="826.20" stroke="#0000ff" stroke-width="1.3"/>
<line x1="696.80" y1="835.70" x2="702.40" y2="835.70" stroke="#0000ff" stroke-width="1.5"/>
<line x1="695.50" y1="789.40" x2="703.70" y2="789.40" stroke="#0000ff" stroke-width="2.2"/>
<path d="M708.30,866.80H719.50V893.40L718.00,895.40L719.50,897.40V922.80H708.30V897.40L709.80,895.40L708.30,893.40Z" fill="#ffa3a3" stroke="#ff0000" stroke-width="2.0" stroke-linejoin="round"/>
<line x1="713.90" y1="853.90" x2="713.90" y2="866.80" stroke="#ff0000" stroke-width="1.3"/>
<line x1="711.10" y1="853.90" x2="716.70" y2="853.90" stroke="#ff0000" stroke-width="1.5"/>
<line x1="713.90" y1="928.40" x2="713.90" y2="922.80" stroke="#ff0000" stroke-width="1.3"/>
<line x1="711.10" y1="928.40" x2="716.70" y2="928.40" stroke="#ff0000" stroke-width="1.5"/>
<line x1="709.80" y1="895.40" x2="718.00" y2="895.40" stroke="#ff0000" stroke-width="2.2"/>
<text transform="translate(878.20,705.60) scale(1.0,1)" font-size="21" fill="#000" font-weight="normal">1<tspan dx="-2.90">3</tspan></text>
<text x="933.10" y="704.90" font-size="10.2" class="m" font-weight="bold" letter-spacing="1.08">TAWSS~</text>
<text x="1004.70" y="704.90" font-size="10.2" class="m" font-weight="bold" letter-spacing="1.08">BV</text>
<text x="1070.30" y="704.90" font-size="10.2" fill="#0000ff" class="m" font-weight="bold" letter-spacing="1.08">IIR</text>
<text x="1155.90" y="704.90" font-size="10.2" fill="#ff0000" class="m" font-weight="bold" letter-spacing="1.08">BA</text>
<text x="943.00" y="718.60" font-size="10.5" class="m" font-weight="bold" font-style="italic">p</text>
<text x="943.90" y="732.20" font-size="10.5" class="m" font-weight="bold" font-style="italic">r</text>
<text x="1025.30" y="718.60" font-size="10.0" text-anchor="end" fill="#222" class="m" letter-spacing="1.20">&lt;0.001</text>
<text x="1025.30" y="732.20" font-size="10.0" text-anchor="end" fill="#222" class="m" letter-spacing="1.20">-0.414</text>
<text x="1085.10" y="718.60" font-size="10.0" text-anchor="end" fill="#222" class="m" letter-spacing="1.20">-</text>
<text x="1085.10" y="732.20" font-size="10.0" text-anchor="end" fill="#222" class="m" letter-spacing="1.20">-</text>
<text x="1180.30" y="718.60" font-size="10.0" text-anchor="end" fill="#222" class="m" letter-spacing="1.20">&lt;0.001</text>
<text x="1180.30" y="732.20" font-size="10.0" text-anchor="end" fill="#222" class="m" letter-spacing="1.20">-0.688</text>
<rect x="943.60" y="740.60" width="214.50" height="208.40" fill="none" stroke="#000" stroke-width="1.3"/>
<line x1="970.40" y1="949.00" x2="970.40" y2="946.00" stroke="#000" stroke-width="1.1"/>
<line x1="1024.40" y1="949.00" x2="1024.40" y2="946.00" stroke="#000" stroke-width="1.1"/>
<line x1="1078.40" y1="949.00" x2="1078.40" y2="946.00" stroke="#000" stroke-width="1.1"/>
<line x1="1131.70" y1="949.00" x2="1131.70" y2="946.00" stroke="#000" stroke-width="1.1"/>
<text x="970.10" y="975.90" font-size="18.4" text-anchor="middle" textLength="21.6" lengthAdjust="spacingAndGlyphs">Q1</text>
<text x="1024.60" y="975.90" font-size="18.4" text-anchor="middle">Q2</text>
<text x="1078.60" y="975.90" font-size="18.4" text-anchor="middle">Q3</text>
<text x="1131.90" y="975.90" font-size="18.4" text-anchor="middle">Q4</text>
<text x="1051.60" y="1005.60" font-size="21" text-anchor="middle" textLength="71.5" lengthAdjust="spacingAndGlyphs">TAWSS</text>
<line x1="943.60" y1="948.90" x2="946.60" y2="948.90" stroke="#000" stroke-width="1.1"/>
<text x="935.00" y="953.70" font-size="17.6" text-anchor="end" textLength="11.45" lengthAdjust="spacingAndGlyphs">0</text>
<line x1="943.60" y1="917.55" x2="946.60" y2="917.55" stroke="#000" stroke-width="1.1"/>
<text x="935.00" y="922.35" font-size="17.6" text-anchor="end" textLength="28.62" lengthAdjust="spacingAndGlyphs">0.5</text>
<line x1="943.60" y1="886.20" x2="946.60" y2="886.20" stroke="#000" stroke-width="1.1"/>
<text x="935.00" y="891.00" font-size="17.6" text-anchor="end" textLength="25.20" lengthAdjust="spacingAndGlyphs">1.0</text>
<line x1="943.60" y1="854.85" x2="946.60" y2="854.85" stroke="#000" stroke-width="1.1"/>
<text x="935.00" y="859.65" font-size="17.6" text-anchor="end" textLength="25.20" lengthAdjust="spacingAndGlyphs">1.5</text>
<line x1="943.60" y1="823.50" x2="946.60" y2="823.50" stroke="#000" stroke-width="1.1"/>
<text x="935.00" y="828.30" font-size="17.6" text-anchor="end" textLength="28.62" lengthAdjust="spacingAndGlyphs">2.0</text>
<line x1="943.60" y1="792.15" x2="946.60" y2="792.15" stroke="#000" stroke-width="1.1"/>
<text x="935.00" y="796.95" font-size="17.6" text-anchor="end" textLength="28.62" lengthAdjust="spacingAndGlyphs">2.5</text>
<line x1="943.60" y1="760.80" x2="946.60" y2="760.80" stroke="#000" stroke-width="1.1"/>
<text x="935.00" y="765.60" font-size="17.6" text-anchor="end" textLength="28.62" lengthAdjust="spacingAndGlyphs">3.0</text>
<text transform="translate(896.60,845.00) rotate(-90)" font-size="21" text-anchor="middle" fill="#000">BV (mV)</text>
<line x1="1158.10" y1="948.90" x2="1155.10" y2="948.90" stroke="#000" stroke-width="1.1"/>
<text x="1166.40" y="954.30" font-size="17.6" textLength="11.45" lengthAdjust="spacingAndGlyphs">0</text>
<line x1="1158.10" y1="917.55" x2="1155.10" y2="917.55" stroke="#000" stroke-width="1.1"/>
<text x="1166.40" y="922.95" font-size="17.6" textLength="28.62" lengthAdjust="spacingAndGlyphs">0.5</text>
<line x1="1158.10" y1="886.20" x2="1155.10" y2="886.20" stroke="#000" stroke-width="1.1"/>
<text x="1166.40" y="891.60" font-size="17.6" textLength="25.20" lengthAdjust="spacingAndGlyphs">1.0</text>
<line x1="1158.10" y1="854.85" x2="1155.10" y2="854.85" stroke="#000" stroke-width="1.1"/>
<text x="1166.40" y="860.25" font-size="17.6" textLength="25.20" lengthAdjust="spacingAndGlyphs">1.5</text>
<line x1="1158.10" y1="823.50" x2="1155.10" y2="823.50" stroke="#000" stroke-width="1.1"/>
<text x="1166.40" y="828.90" font-size="17.6" textLength="28.62" lengthAdjust="spacingAndGlyphs">2.0</text>
<line x1="1158.10" y1="792.15" x2="1155.10" y2="792.15" stroke="#000" stroke-width="1.1"/>
<text x="1166.40" y="797.55" font-size="17.6" textLength="28.62" lengthAdjust="spacingAndGlyphs">2.5</text>
<line x1="1158.10" y1="760.80" x2="1155.10" y2="760.80" stroke="#000" stroke-width="1.1"/>
<text x="1166.40" y="766.20" font-size="17.6" textLength="28.62" lengthAdjust="spacingAndGlyphs">3.0</text>
<text transform="translate(1198.40,845.50) rotate(90)" font-size="21" text-anchor="middle" fill="#000">BV (mV)</text>
<line x1="1232.60" y1="740.60" x2="1232.60" y2="949.00" stroke="#000" stroke-width="1.3"/>
<line x1="1232.60" y1="948.40" x2="1229.60" y2="948.40" stroke="#000" stroke-width="1.1"/>
<text x="1240.10" y="954.10" font-size="17.6" textLength="11.45" lengthAdjust="spacingAndGlyphs">0</text>
<line x1="1232.60" y1="901.73" x2="1229.60" y2="901.73" stroke="#000" stroke-width="1.1"/>
<text x="1240.10" y="907.43" font-size="17.6" textLength="10.08" lengthAdjust="spacingAndGlyphs">1</text>
<line x1="1232.60" y1="855.05" x2="1229.60" y2="855.05" stroke="#000" stroke-width="1.1"/>
<text x="1240.10" y="860.75" font-size="17.6" textLength="11.45" lengthAdjust="spacingAndGlyphs">2</text>
<line x1="1232.60" y1="808.38" x2="1229.60" y2="808.38" stroke="#000" stroke-width="1.1"/>
<text x="1240.10" y="814.08" font-size="17.6" textLength="11.45" lengthAdjust="spacingAndGlyphs">3</text>
<line x1="1232.60" y1="761.70" x2="1229.60" y2="761.70" stroke="#000" stroke-width="1.1"/>
<text x="1240.10" y="767.40" font-size="17.6" textLength="11.45" lengthAdjust="spacingAndGlyphs">4</text>
<text transform="translate(1268.70,843.90) rotate(90)" font-size="21" text-anchor="middle" fill="#ff0000">BA (s)</text>
<path d="M951.80,765.10H963.00V811.30L961.50,813.30L963.00,815.30V842.60H951.80V815.30L953.30,813.30L951.80,811.30Z" fill="#fff" stroke="#000" stroke-width="1.2" stroke-linejoin="round"/>
<line x1="957.40" y1="750.80" x2="957.40" y2="765.10" stroke="#000" stroke-width="1.3"/>
<line x1="954.60" y1="750.80" x2="960.20" y2="750.80" stroke="#000" stroke-width="1.5"/>
<line x1="957.40" y1="850.60" x2="957.40" y2="842.60" stroke="#000" stroke-width="1.3"/>
<line x1="954.60" y1="850.60" x2="960.20" y2="850.60" stroke="#000" stroke-width="1.5"/>
<line x1="953.30" y1="813.30" x2="961.50" y2="813.30" stroke="#000" stroke-width="1.9"/>
<path d="M978.90,759.70H990.10V769.50H978.90Z" fill="#ffa3a3" stroke="#ff0000" stroke-width="2.0" stroke-linejoin="round"/>
<line x1="984.50" y1="750.80" x2="984.50" y2="759.70" stroke="#ff0000" stroke-width="1.3"/>
<line x1="981.70" y1="750.80" x2="987.30" y2="750.80" stroke="#ff0000" stroke-width="1.5"/>
<line x1="984.50" y1="785.90" x2="984.50" y2="769.50" stroke="#ff0000" stroke-width="1.3"/>
<line x1="981.70" y1="785.90" x2="987.30" y2="785.90" stroke="#ff0000" stroke-width="1.5"/>
<line x1="978.90" y1="759.70" x2="990.10" y2="759.70" stroke="#ff0000" stroke-width="2.2"/>
<path d="M1005.40,843.40H1016.60V863.70H1005.40Z" fill="#fff" stroke="#000" stroke-width="1.2" stroke-linejoin="round"/>
<line x1="1011.00" y1="829.70" x2="1011.00" y2="843.40" stroke="#000" stroke-width="1.3"/>
<line x1="1008.20" y1="829.70" x2="1013.80" y2="829.70" stroke="#000" stroke-width="1.5"/>
<line x1="1011.00" y1="871.20" x2="1011.00" y2="863.70" stroke="#000" stroke-width="1.3"/>
<line x1="1008.20" y1="871.20" x2="1013.80" y2="871.20" stroke="#000" stroke-width="1.5"/>
<line x1="1005.40" y1="855.30" x2="1016.60" y2="855.30" stroke="#000" stroke-width="1.9"/>
<path d="M1032.90,789.00H1044.10V814.90L1042.60,816.90L1044.10,818.90V845.00H1032.90V818.90L1034.40,816.90L1032.90,814.90Z" fill="#ffa3a3" stroke="#ff0000" stroke-width="2.0" stroke-linejoin="round"/>
<line x1="1038.50" y1="779.90" x2="1038.50" y2="789.00" stroke="#ff0000" stroke-width="1.3"/>
<line x1="1035.70" y1="779.90" x2="1041.30" y2="779.90" stroke="#ff0000" stroke-width="1.5"/>
<line x1="1038.50" y1="862.90" x2="1038.50" y2="845.00" stroke="#ff0000" stroke-width="1.3"/>
<line x1="1035.70" y1="862.90" x2="1041.30" y2="862.90" stroke="#ff0000" stroke-width="1.5"/>
<line x1="1034.40" y1="816.90" x2="1042.60" y2="816.90" stroke="#ff0000" stroke-width="2.2"/>
<path d="M1059.30,845.10H1070.50V864.00H1059.30Z" fill="#fff" stroke="#000" stroke-width="1.2" stroke-linejoin="round"/>
<line x1="1064.90" y1="827.10" x2="1064.90" y2="845.10" stroke="#000" stroke-width="1.3"/>
<line x1="1062.10" y1="827.10" x2="1067.70" y2="827.10" stroke="#000" stroke-width="1.5"/>
<line x1="1064.90" y1="872.40" x2="1064.90" y2="864.00" stroke="#000" stroke-width="1.3"/>
<line x1="1062.10" y1="872.40" x2="1067.70" y2="872.40" stroke="#000" stroke-width="1.5"/>
<line x1="1059.30" y1="854.50" x2="1070.50" y2="854.50" stroke="#000" stroke-width="1.9"/>
<path d="M1086.70,811.60H1097.90V842.30L1096.40,844.30L1097.90,846.30V878.00H1086.70V846.30L1088.20,844.30L1086.70,842.30Z" fill="#ffa3a3" stroke="#ff0000" stroke-width="2.0" stroke-linejoin="round"/>
<line x1="1092.30" y1="800.50" x2="1092.30" y2="811.60" stroke="#ff0000" stroke-width="1.3"/>
<line x1="1089.50" y1="800.50" x2="1095.10" y2="800.50" stroke="#ff0000" stroke-width="1.5"/>
<line x1="1092.30" y1="891.10" x2="1092.30" y2="878.00" stroke="#ff0000" stroke-width="1.3"/>
<line x1="1089.50" y1="891.10" x2="1095.10" y2="891.10" stroke="#ff0000" stroke-width="1.5"/>
<line x1="1088.20" y1="844.30" x2="1096.40" y2="844.30" stroke="#ff0000" stroke-width="2.2"/>
<path d="M1112.70,849.30H1123.90V867.30H1112.70Z" fill="#fff" stroke="#000" stroke-width="1.2" stroke-linejoin="round"/>
<line x1="1118.30" y1="833.10" x2="1118.30" y2="849.30" stroke="#000" stroke-width="1.3"/>
<line x1="1115.50" y1="833.10" x2="1121.10" y2="833.10" stroke="#000" stroke-width="1.5"/>
<line x1="1118.30" y1="875.10" x2="1118.30" y2="867.30" stroke="#000" stroke-width="1.3"/>
<line x1="1115.50" y1="875.10" x2="1121.10" y2="875.10" stroke="#000" stroke-width="1.5"/>
<line x1="1112.70" y1="858.40" x2="1123.90" y2="858.40" stroke="#000" stroke-width="1.9"/>
<path d="M1140.60,851.50H1151.80V883.90L1150.30,885.90L1151.80,887.90V912.90H1140.60V887.90L1142.10,885.90L1140.60,883.90Z" fill="#ffa3a3" stroke="#ff0000" stroke-width="2.0" stroke-linejoin="round"/>
<line x1="1146.20" y1="831.50" x2="1146.20" y2="851.50" stroke="#ff0000" stroke-width="1.3"/>
<line x1="1143.40" y1="831.50" x2="1149.00" y2="831.50" stroke="#ff0000" stroke-width="1.5"/>
<line x1="1146.20" y1="920.40" x2="1146.20" y2="912.90" stroke="#ff0000" stroke-width="1.3"/>
<line x1="1143.40" y1="920.40" x2="1149.00" y2="920.40" stroke="#ff0000" stroke-width="1.5"/>
<line x1="1142.10" y1="885.90" x2="1150.30" y2="885.90" stroke="#ff0000" stroke-width="2.2"/>
<text transform="translate(1319.00,705.60) scale(1.0,1)" font-size="21" fill="#000" font-weight="normal">1<tspan dx="-1.70">4</tspan></text>
<text x="1375.30" y="704.90" font-size="10.2" class="m" font-weight="bold" letter-spacing="1.08">TAWSS~</text>
<text x="1447.60" y="704.90" font-size="10.2" class="m" font-weight="bold" letter-spacing="1.08">BV</text>
<text x="1518.50" y="704.90" font-size="10.2" fill="#0000ff" class="m" font-weight="bold" letter-spacing="1.08">IIR</text>
<text x="1597.40" y="704.90" font-size="10.2" fill="#ff0000" class="m" font-weight="bold" letter-spacing="1.08">BA</text>
<text x="1386.70" y="718.60" font-size="10.5" class="m" font-weight="bold" font-style="italic">p</text>
<text x="1387.60" y="732.20" font-size="10.5" class="m" font-weight="bold" font-style="italic">r</text>
<text x="1471.20" y="718.60" font-size="10.0" text-anchor="end" fill="#222" class="m" letter-spacing="1.20">&lt;0.001</text>
<text x="1471.20" y="732.20" font-size="10.0" text-anchor="end" fill="#222" class="m" letter-spacing="1.20">-0.323</text>
<text x="1531.00" y="718.60" font-size="10.0" text-anchor="end" fill="#222" class="m" letter-spacing="1.20">-</text>
<text x="1531.00" y="732.20" font-size="10.0" text-anchor="end" fill="#222" class="m" letter-spacing="1.20">-</text>
<text x="1626.20" y="718.60" font-size="10.0" text-anchor="end" fill="#222" class="m" letter-spacing="1.20">&lt;0.001</text>
<text x="1626.20" y="732.20" font-size="10.0" text-anchor="end" fill="#222" class="m" letter-spacing="1.20">-0.572</text>
<rect x="1386.60" y="740.60" width="213.90" height="208.40" fill="none" stroke="#000" stroke-width="1.3"/>
<line x1="1413.40" y1="949.00" x2="1413.40" y2="946.00" stroke="#000" stroke-width="1.1"/>
<line x1="1467.00" y1="949.00" x2="1467.00" y2="946.00" stroke="#000" stroke-width="1.1"/>
<line x1="1520.40" y1="949.00" x2="1520.40" y2="946.00" stroke="#000" stroke-width="1.1"/>
<line x1="1573.70" y1="949.00" x2="1573.70" y2="946.00" stroke="#000" stroke-width="1.1"/>
<text x="1413.10" y="975.90" font-size="18.4" text-anchor="middle" textLength="21.6" lengthAdjust="spacingAndGlyphs">Q1</text>
<text x="1467.20" y="975.90" font-size="18.4" text-anchor="middle">Q2</text>
<text x="1520.60" y="975.90" font-size="18.4" text-anchor="middle">Q3</text>
<text x="1573.90" y="975.90" font-size="18.4" text-anchor="middle">Q4</text>
<text x="1493.50" y="1005.60" font-size="21" text-anchor="middle" textLength="71.5" lengthAdjust="spacingAndGlyphs">TAWSS</text>
<line x1="1386.60" y1="948.80" x2="1389.60" y2="948.80" stroke="#000" stroke-width="1.1"/>
<text x="1377.20" y="954.30" font-size="17.6" text-anchor="end" textLength="11.45" lengthAdjust="spacingAndGlyphs">0</text>
<line x1="1386.60" y1="908.82" x2="1389.60" y2="908.82" stroke="#000" stroke-width="1.1"/>
<text x="1377.20" y="914.32" font-size="17.6" text-anchor="end" textLength="28.62" lengthAdjust="spacingAndGlyphs">0.5</text>
<line x1="1386.60" y1="868.84" x2="1389.60" y2="868.84" stroke="#000" stroke-width="1.1"/>
<text x="1377.20" y="874.34" font-size="17.6" text-anchor="end" textLength="25.20" lengthAdjust="spacingAndGlyphs">1.0</text>
<line x1="1386.60" y1="828.86" x2="1389.60" y2="828.86" stroke="#000" stroke-width="1.1"/>
<text x="1377.20" y="834.36" font-size="17.6" text-anchor="end" textLength="25.20" lengthAdjust="spacingAndGlyphs">1.5</text>
<line x1="1386.60" y1="788.88" x2="1389.60" y2="788.88" stroke="#000" stroke-width="1.1"/>
<text x="1377.20" y="794.38" font-size="17.6" text-anchor="end" textLength="28.62" lengthAdjust="spacingAndGlyphs">2.0</text>
<line x1="1386.60" y1="748.90" x2="1389.60" y2="748.90" stroke="#000" stroke-width="1.1"/>
<text x="1377.20" y="754.40" font-size="17.6" text-anchor="end" textLength="28.62" lengthAdjust="spacingAndGlyphs">2.5</text>
<text transform="translate(1337.80,845.00) rotate(-90)" font-size="21" text-anchor="middle" fill="#000">BV (mV)</text>
<line x1="1600.50" y1="948.80" x2="1597.50" y2="948.80" stroke="#000" stroke-width="1.1"/>
<text x="1606.90" y="953.60" font-size="17.6" textLength="11.45" lengthAdjust="spacingAndGlyphs">0</text>
<line x1="1600.50" y1="908.82" x2="1597.50" y2="908.82" stroke="#000" stroke-width="1.1"/>
<text x="1606.90" y="913.62" font-size="17.6" textLength="28.62" lengthAdjust="spacingAndGlyphs">0.5</text>
<line x1="1600.50" y1="868.84" x2="1597.50" y2="868.84" stroke="#000" stroke-width="1.1"/>
<text x="1606.90" y="873.64" font-size="17.6" textLength="25.20" lengthAdjust="spacingAndGlyphs">1.0</text>
<line x1="1600.50" y1="828.86" x2="1597.50" y2="828.86" stroke="#000" stroke-width="1.1"/>
<text x="1606.90" y="833.66" font-size="17.6" textLength="25.20" lengthAdjust="spacingAndGlyphs">1.5</text>
<line x1="1600.50" y1="788.88" x2="1597.50" y2="788.88" stroke="#000" stroke-width="1.1"/>
<text x="1606.90" y="793.68" font-size="17.6" textLength="28.62" lengthAdjust="spacingAndGlyphs">2.0</text>
<line x1="1600.50" y1="748.90" x2="1597.50" y2="748.90" stroke="#000" stroke-width="1.1"/>
<text x="1606.90" y="753.70" font-size="17.6" textLength="28.62" lengthAdjust="spacingAndGlyphs">2.5</text>
<text transform="translate(1640.70,845.50) rotate(90)" font-size="21" text-anchor="middle" fill="#000">BV (mV)</text>
<line x1="1673.70" y1="740.60" x2="1673.70" y2="949.00" stroke="#000" stroke-width="1.3"/>
<line x1="1673.70" y1="948.40" x2="1670.70" y2="948.40" stroke="#000" stroke-width="1.1"/>
<text x="1683.80" y="953.00" font-size="17.6" textLength="11.45" lengthAdjust="spacingAndGlyphs">0</text>
<line x1="1673.70" y1="912.88" x2="1670.70" y2="912.88" stroke="#000" stroke-width="1.1"/>
<text x="1683.80" y="917.48" font-size="17.6" textLength="10.08" lengthAdjust="spacingAndGlyphs">1</text>
<line x1="1673.70" y1="877.36" x2="1670.70" y2="877.36" stroke="#000" stroke-width="1.1"/>
<text x="1683.80" y="881.96" font-size="17.6" textLength="11.45" lengthAdjust="spacingAndGlyphs">2</text>
<line x1="1673.70" y1="841.84" x2="1670.70" y2="841.84" stroke="#000" stroke-width="1.1"/>
<text x="1683.80" y="846.44" font-size="17.6" textLength="11.45" lengthAdjust="spacingAndGlyphs">3</text>
<line x1="1673.70" y1="806.32" x2="1670.70" y2="806.32" stroke="#000" stroke-width="1.1"/>
<text x="1683.80" y="810.92" font-size="17.6" textLength="11.45" lengthAdjust="spacingAndGlyphs">4</text>
<line x1="1673.70" y1="770.80" x2="1670.70" y2="770.80" stroke="#000" stroke-width="1.1"/>
<text x="1683.80" y="775.40" font-size="17.6" textLength="11.45" lengthAdjust="spacingAndGlyphs">5</text>
<text transform="translate(1713.70,843.90) rotate(90)" font-size="21" text-anchor="middle" fill="#ff0000">BA (s)</text>
<path d="M1394.40,784.40H1405.60V832.70L1404.10,834.70L1405.60,836.70V872.00H1394.40V836.70L1395.90,834.70L1394.40,832.70Z" fill="#fff" stroke="#000" stroke-width="1.2" stroke-linejoin="round"/>
<line x1="1400.00" y1="750.80" x2="1400.00" y2="784.40" stroke="#000" stroke-width="1.3"/>
<line x1="1397.20" y1="750.80" x2="1402.80" y2="750.80" stroke="#000" stroke-width="1.5"/>
<line x1="1400.00" y1="888.70" x2="1400.00" y2="872.00" stroke="#000" stroke-width="1.3"/>
<line x1="1397.20" y1="888.70" x2="1402.80" y2="888.70" stroke="#000" stroke-width="1.5"/>
<line x1="1395.90" y1="834.70" x2="1404.10" y2="834.70" stroke="#000" stroke-width="1.9"/>
<path d="M1421.20,764.40H1432.40V764.40H1421.20Z" fill="#ffa3a3" stroke="#ff0000" stroke-width="2.0" stroke-linejoin="round"/>
<line x1="1426.80" y1="759.20" x2="1426.80" y2="764.40" stroke="#ff0000" stroke-width="1.3"/>
<line x1="1424.00" y1="759.20" x2="1429.60" y2="759.20" stroke="#ff0000" stroke-width="1.5"/>
<line x1="1426.80" y1="773.50" x2="1426.80" y2="764.40" stroke="#ff0000" stroke-width="1.3"/>
<line x1="1424.00" y1="773.50" x2="1429.60" y2="773.50" stroke="#ff0000" stroke-width="1.5"/>
<path d="M1447.70,854.20H1458.90V891.50H1447.70Z" fill="#fff" stroke="#000" stroke-width="1.2" stroke-linejoin="round"/>
<line x1="1453.30" y1="839.90" x2="1453.30" y2="854.20" stroke="#000" stroke-width="1.3"/>
<line x1="1450.50" y1="839.90" x2="1456.10" y2="839.90" stroke="#000" stroke-width="1.5"/>
<line x1="1453.30" y1="904.00" x2="1453.30" y2="891.50" stroke="#000" stroke-width="1.3"/>
<line x1="1450.50" y1="904.00" x2="1456.10" y2="904.00" stroke="#000" stroke-width="1.5"/>
<line x1="1447.70" y1="873.90" x2="1458.90" y2="873.90" stroke="#000" stroke-width="1.9"/>
<path d="M1475.10,764.80H1486.30V764.80L1484.80,766.30L1486.30,768.30V803.30H1475.10V768.30L1476.60,766.30L1475.10,764.80Z" fill="#ffa3a3" stroke="#ff0000" stroke-width="2.0" stroke-linejoin="round"/>
<line x1="1480.70" y1="750.80" x2="1480.70" y2="764.80" stroke="#ff0000" stroke-width="1.3"/>
<line x1="1477.90" y1="750.80" x2="1483.50" y2="750.80" stroke="#ff0000" stroke-width="1.5"/>
<line x1="1480.70" y1="830.70" x2="1480.70" y2="803.30" stroke="#ff0000" stroke-width="1.3"/>
<line x1="1477.90" y1="830.70" x2="1483.50" y2="830.70" stroke="#ff0000" stroke-width="1.5"/>
<line x1="1476.60" y1="766.30" x2="1484.80" y2="766.30" stroke="#ff0000" stroke-width="2.2"/>
<path d="M1501.30,857.50H1512.50V889.80L1511.00,891.80L1512.50,893.80V911.70H1501.30V893.80L1502.80,891.80L1501.30,889.80Z" fill="#fff" stroke="#000" stroke-width="1.2" stroke-linejoin="round"/>
<line x1="1506.90" y1="839.50" x2="1506.90" y2="857.50" stroke="#000" stroke-width="1.3"/>
<line x1="1504.10" y1="839.50" x2="1509.70" y2="839.50" stroke="#000" stroke-width="1.5"/>
<line x1="1506.90" y1="925.70" x2="1506.90" y2="911.70" stroke="#000" stroke-width="1.3"/>
<line x1="1504.10" y1="925.70" x2="1509.70" y2="925.70" stroke="#000" stroke-width="1.5"/>
<line x1="1502.80" y1="891.80" x2="1511.00" y2="891.80" stroke="#000" stroke-width="1.9"/>
<path d="M1529.00,813.60H1540.20V864.40L1538.70,866.40L1540.20,868.40V904.90H1529.00V868.40L1530.50,866.40L1529.00,864.40Z" fill="#ffa3a3" stroke="#ff0000" stroke-width="2.0" stroke-linejoin="round"/>
<line x1="1534.60" y1="800.90" x2="1534.60" y2="813.60" stroke="#ff0000" stroke-width="1.3"/>
<line x1="1531.80" y1="800.90" x2="1537.40" y2="800.90" stroke="#ff0000" stroke-width="1.5"/>
<line x1="1534.60" y1="912.90" x2="1534.60" y2="904.90" stroke="#ff0000" stroke-width="1.3"/>
<line x1="1531.80" y1="912.90" x2="1537.40" y2="912.90" stroke="#ff0000" stroke-width="1.5"/>
<line x1="1530.50" y1="866.40" x2="1538.70" y2="866.40" stroke="#ff0000" stroke-width="2.2"/>
<path d="M1555.00,860.10H1566.20V882.70L1564.70,884.70L1566.20,886.70V906.10H1555.00V886.70L1556.50,884.70L1555.00,882.70Z" fill="#fff" stroke="#000" stroke-width="1.2" stroke-linejoin="round"/>
<line x1="1560.60" y1="845.30" x2="1560.60" y2="860.10" stroke="#000" stroke-width="1.3"/>
<line x1="1557.80" y1="845.30" x2="1563.40" y2="845.30" stroke="#000" stroke-width="1.5"/>
<line x1="1560.60" y1="916.10" x2="1560.60" y2="906.10" stroke="#000" stroke-width="1.3"/>
<line x1="1557.80" y1="916.10" x2="1563.40" y2="916.10" stroke="#000" stroke-width="1.5"/>
<line x1="1556.50" y1="884.70" x2="1564.70" y2="884.70" stroke="#000" stroke-width="1.9"/>
<path d="M1583.00,857.70H1594.20V903.20L1592.70,905.20L1594.20,907.20V928.80H1583.00V907.20L1584.50,905.20L1583.00,903.20Z" fill="#ffa3a3" stroke="#ff0000" stroke-width="2.0" stroke-linejoin="round"/>
<line x1="1588.60" y1="835.10" x2="1588.60" y2="857.70" stroke="#ff0000" stroke-width="1.3"/>
<line x1="1585.80" y1="835.10" x2="1591.40" y2="835.10" stroke="#ff0000" stroke-width="1.5"/>
<line x1="1588.60" y1="937.10" x2="1588.60" y2="928.80" stroke="#ff0000" stroke-width="1.3"/>
<line x1="1585.80" y1="937.10" x2="1591.40" y2="937.10" stroke="#ff0000" stroke-width="1.5"/>
<line x1="1584.50" y1="905.20" x2="1592.70" y2="905.20" stroke="#ff0000" stroke-width="2.2"/>
<text transform="translate(1752.30,705.60) scale(1.0,1)" font-size="21" fill="#000" font-weight="normal">1<tspan dx="-2.10">5</tspan></text>
<text x="1807.80" y="704.90" font-size="10.2" class="m" font-weight="bold" letter-spacing="1.08">TAWSS~</text>
<text x="1879.50" y="704.90" font-size="10.2" class="m" font-weight="bold" letter-spacing="1.08">BV</text>
<text x="1938.10" y="704.90" font-size="10.2" fill="#0000ff" class="m" font-weight="bold" letter-spacing="1.08">IIR</text>
<text x="2030.40" y="704.90" font-size="10.2" fill="#ff0000" class="m" font-weight="bold" letter-spacing="1.08">BA</text>
<text x="1820.80" y="718.60" font-size="10.5" class="m" font-weight="bold" font-style="italic">p</text>
<text x="1821.70" y="732.20" font-size="10.5" class="m" font-weight="bold" font-style="italic">r</text>
<text x="1900.50" y="718.60" font-size="10.0" text-anchor="end" fill="#222" class="m" letter-spacing="1.20">&lt;0.001</text>
<text x="1900.50" y="732.20" font-size="10.0" text-anchor="end" fill="#222" class="m" letter-spacing="1.20">-0.372</text>
<text x="1953.20" y="718.60" font-size="10.0" text-anchor="end" fill="#222" class="m" letter-spacing="1.20">-</text>
<text x="1953.20" y="732.20" font-size="10.0" text-anchor="end" fill="#222" class="m" letter-spacing="1.20">-</text>
<text x="2048.40" y="718.60" font-size="10.0" text-anchor="end" fill="#222" class="m" letter-spacing="1.20">&lt;0.001</text>
<text x="2048.40" y="732.20" font-size="10.0" text-anchor="end" fill="#222" class="m" letter-spacing="1.20">-0.650</text>
<rect x="1818.90" y="740.60" width="214.20" height="208.20" fill="none" stroke="#000" stroke-width="1.3"/>
<line x1="1845.80" y1="948.80" x2="1845.80" y2="945.80" stroke="#000" stroke-width="1.1"/>
<line x1="1899.40" y1="948.80" x2="1899.40" y2="945.80" stroke="#000" stroke-width="1.1"/>
<line x1="1953.00" y1="948.80" x2="1953.00" y2="945.80" stroke="#000" stroke-width="1.1"/>
<line x1="2006.40" y1="948.80" x2="2006.40" y2="945.80" stroke="#000" stroke-width="1.1"/>
<text x="1845.50" y="975.90" font-size="18.4" text-anchor="middle" textLength="21.6" lengthAdjust="spacingAndGlyphs">Q1</text>
<text x="1899.60" y="975.90" font-size="18.4" text-anchor="middle">Q2</text>
<text x="1953.20" y="975.90" font-size="18.4" text-anchor="middle">Q3</text>
<text x="2006.60" y="975.90" font-size="18.4" text-anchor="middle">Q4</text>
<text x="1925.90" y="1005.60" font-size="21" text-anchor="middle" textLength="71.5" lengthAdjust="spacingAndGlyphs">TAWSS</text>
<line x1="1818.90" y1="948.80" x2="1821.90" y2="948.80" stroke="#000" stroke-width="1.1"/>
<text x="1808.80" y="953.60" font-size="17.6" text-anchor="end" textLength="11.45" lengthAdjust="spacingAndGlyphs">0</text>
<line x1="1818.90" y1="916.20" x2="1821.90" y2="916.20" stroke="#000" stroke-width="1.1"/>
<text x="1808.80" y="921.00" font-size="17.6" text-anchor="end" textLength="28.62" lengthAdjust="spacingAndGlyphs">0.5</text>
<line x1="1818.90" y1="883.60" x2="1821.90" y2="883.60" stroke="#000" stroke-width="1.1"/>
<text x="1808.80" y="888.40" font-size="17.6" text-anchor="end" textLength="25.20" lengthAdjust="spacingAndGlyphs">1.0</text>
<line x1="1818.90" y1="851.00" x2="1821.90" y2="851.00" stroke="#000" stroke-width="1.1"/>
<text x="1808.80" y="855.80" font-size="17.6" text-anchor="end" textLength="25.20" lengthAdjust="spacingAndGlyphs">1.5</text>
<line x1="1818.90" y1="818.40" x2="1821.90" y2="818.40" stroke="#000" stroke-width="1.1"/>
<text x="1808.80" y="823.20" font-size="17.6" text-anchor="end" textLength="28.62" lengthAdjust="spacingAndGlyphs">2.0</text>
<line x1="1818.90" y1="785.80" x2="1821.90" y2="785.80" stroke="#000" stroke-width="1.1"/>
<text x="1808.80" y="790.60" font-size="17.6" text-anchor="end" textLength="28.62" lengthAdjust="spacingAndGlyphs">2.5</text>
<line x1="1818.90" y1="753.20" x2="1821.90" y2="753.20" stroke="#000" stroke-width="1.1"/>
<text x="1808.80" y="758.00" font-size="17.6" text-anchor="end" textLength="28.62" lengthAdjust="spacingAndGlyphs">3.0</text>
<text transform="translate(1770.60,845.00) rotate(-90)" font-size="21" text-anchor="middle" fill="#000">BV (mV)</text>
<line x1="2033.10" y1="948.80" x2="2030.10" y2="948.80" stroke="#000" stroke-width="1.1"/>
<text x="2043.00" y="953.20" font-size="17.6" textLength="11.45" lengthAdjust="spacingAndGlyphs">0</text>
<line x1="2033.10" y1="916.20" x2="2030.10" y2="916.20" stroke="#000" stroke-width="1.1"/>
<text x="2043.00" y="920.60" font-size="17.6" textLength="28.62" lengthAdjust="spacingAndGlyphs">0.5</text>
<line x1="2033.10" y1="883.60" x2="2030.10" y2="883.60" stroke="#000" stroke-width="1.1"/>
<text x="2043.00" y="888.00" font-size="17.6" textLength="25.20" lengthAdjust="spacingAndGlyphs">1.0</text>
<line x1="2033.10" y1="851.00" x2="2030.10" y2="851.00" stroke="#000" stroke-width="1.1"/>
<text x="2043.00" y="855.40" font-size="17.6" textLength="25.20" lengthAdjust="spacingAndGlyphs">1.5</text>
<line x1="2033.10" y1="818.40" x2="2030.10" y2="818.40" stroke="#000" stroke-width="1.1"/>
<text x="2043.00" y="822.80" font-size="17.6" textLength="28.62" lengthAdjust="spacingAndGlyphs">2.0</text>
<line x1="2033.10" y1="785.80" x2="2030.10" y2="785.80" stroke="#000" stroke-width="1.1"/>
<text x="2043.00" y="790.20" font-size="17.6" textLength="28.62" lengthAdjust="spacingAndGlyphs">2.5</text>
<line x1="2033.10" y1="753.20" x2="2030.10" y2="753.20" stroke="#000" stroke-width="1.1"/>
<text x="2043.00" y="757.60" font-size="17.6" textLength="28.62" lengthAdjust="spacingAndGlyphs">3.0</text>
<text transform="translate(2081.00,845.60) rotate(90)" font-size="21" text-anchor="middle" fill="#000">BV (mV)</text>
<line x1="2104.90" y1="740.60" x2="2104.90" y2="948.80" stroke="#000" stroke-width="1.3"/>
<line x1="2104.90" y1="948.50" x2="2101.90" y2="948.50" stroke="#000" stroke-width="1.1"/>
<text x="2112.90" y="954.20" font-size="17.6" textLength="11.45" lengthAdjust="spacingAndGlyphs">0</text>
<line x1="2104.90" y1="906.48" x2="2101.90" y2="906.48" stroke="#000" stroke-width="1.1"/>
<text x="2112.90" y="912.18" font-size="17.6" textLength="10.08" lengthAdjust="spacingAndGlyphs">1</text>
<line x1="2104.90" y1="864.45" x2="2101.90" y2="864.45" stroke="#000" stroke-width="1.1"/>
<text x="2112.90" y="870.15" font-size="17.6" textLength="11.45" lengthAdjust="spacingAndGlyphs">2</text>
<line x1="2104.90" y1="822.42" x2="2101.90" y2="822.42" stroke="#000" stroke-width="1.1"/>
<text x="2112.90" y="828.12" font-size="17.6" textLength="11.45" lengthAdjust="spacingAndGlyphs">3</text>
<line x1="2104.90" y1="780.40" x2="2101.90" y2="780.40" stroke="#000" stroke-width="1.1"/>
<text x="2112.90" y="786.10" font-size="17.6" textLength="11.45" lengthAdjust="spacingAndGlyphs">4</text>
<text transform="translate(2143.70,844.50) rotate(90)" font-size="21" text-anchor="middle" fill="#ff0000">BA (s)</text>
<path d="M1826.80,799.70H1838.00V882.30L1836.50,884.30L1838.00,886.30V909.30H1826.80V886.30L1828.30,884.30L1826.80,882.30Z" fill="#fff" stroke="#000" stroke-width="1.2" stroke-linejoin="round"/>
<line x1="1832.40" y1="750.80" x2="1832.40" y2="799.70" stroke="#000" stroke-width="1.3"/>
<line x1="1829.60" y1="750.80" x2="1835.20" y2="750.80" stroke="#000" stroke-width="1.5"/>
<line x1="1832.40" y1="938.80" x2="1832.40" y2="909.30" stroke="#000" stroke-width="1.3"/>
<line x1="1829.60" y1="938.80" x2="1835.20" y2="938.80" stroke="#000" stroke-width="1.5"/>
<line x1="1828.30" y1="884.30" x2="1836.50" y2="884.30" stroke="#000" stroke-width="1.9"/>
<path d="M1853.90,758.00H1865.10V768.40H1853.90Z" fill="#ffa3a3" stroke="#ff0000" stroke-width="2.0" stroke-linejoin="round"/>
<line x1="1859.50" y1="750.80" x2="1859.50" y2="758.00" stroke="#ff0000" stroke-width="1.3"/>
<line x1="1856.70" y1="750.80" x2="1862.30" y2="750.80" stroke="#ff0000" stroke-width="1.5"/>
<line x1="1859.50" y1="783.30" x2="1859.50" y2="768.40" stroke="#ff0000" stroke-width="1.3"/>
<line x1="1856.70" y1="783.30" x2="1862.30" y2="783.30" stroke="#ff0000" stroke-width="1.5"/>
<line x1="1853.90" y1="758.60" x2="1865.10" y2="758.60" stroke="#ff0000" stroke-width="2.2"/>
<path d="M1880.40,895.60H1891.60V930.40H1880.40Z" fill="#fff" stroke="#000" stroke-width="1.2" stroke-linejoin="round"/>
<line x1="1886.00" y1="874.20" x2="1886.00" y2="895.60" stroke="#000" stroke-width="1.3"/>
<line x1="1883.20" y1="874.20" x2="1888.80" y2="874.20" stroke="#000" stroke-width="1.5"/>
<line x1="1886.00" y1="941.90" x2="1886.00" y2="930.40" stroke="#000" stroke-width="1.3"/>
<line x1="1883.20" y1="941.90" x2="1888.80" y2="941.90" stroke="#000" stroke-width="1.5"/>
<line x1="1880.40" y1="911.70" x2="1891.60" y2="911.70" stroke="#000" stroke-width="1.9"/>
<path d="M1907.90,763.90H1919.10V772.70L1917.60,774.70L1919.10,776.70V795.80H1907.90V776.70L1909.40,774.70L1907.90,772.70Z" fill="#ffa3a3" stroke="#ff0000" stroke-width="2.0" stroke-linejoin="round"/>
<line x1="1913.50" y1="758.50" x2="1913.50" y2="763.90" stroke="#ff0000" stroke-width="1.3"/>
<line x1="1910.70" y1="758.50" x2="1916.30" y2="758.50" stroke="#ff0000" stroke-width="1.5"/>
<line x1="1913.50" y1="806.90" x2="1913.50" y2="795.80" stroke="#ff0000" stroke-width="1.3"/>
<line x1="1910.70" y1="806.90" x2="1916.30" y2="806.90" stroke="#ff0000" stroke-width="1.5"/>
<line x1="1909.40" y1="774.70" x2="1917.60" y2="774.70" stroke="#ff0000" stroke-width="2.2"/>
<path d="M1934.30,894.40H1945.50V933.50H1934.30Z" fill="#fff" stroke="#000" stroke-width="1.2" stroke-linejoin="round"/>
<line x1="1939.90" y1="881.10" x2="1939.90" y2="894.40" stroke="#000" stroke-width="1.3"/>
<line x1="1937.10" y1="881.10" x2="1942.70" y2="881.10" stroke="#000" stroke-width="1.5"/>
<line x1="1939.90" y1="939.50" x2="1939.90" y2="933.50" stroke="#000" stroke-width="1.3"/>
<line x1="1937.10" y1="939.50" x2="1942.70" y2="939.50" stroke="#000" stroke-width="1.5"/>
<line x1="1934.30" y1="914.70" x2="1945.50" y2="914.70" stroke="#000" stroke-width="1.9"/>
<path d="M1961.70,771.90H1972.90V790.80L1971.40,792.80L1972.90,794.80V822.00H1961.70V794.80L1963.20,792.80L1961.70,790.80Z" fill="#ffa3a3" stroke="#ff0000" stroke-width="2.0" stroke-linejoin="round"/>
<line x1="1967.30" y1="768.40" x2="1967.30" y2="771.90" stroke="#ff0000" stroke-width="1.3"/>
<line x1="1964.50" y1="768.40" x2="1970.10" y2="768.40" stroke="#ff0000" stroke-width="1.5"/>
<line x1="1967.30" y1="830.00" x2="1967.30" y2="822.00" stroke="#ff0000" stroke-width="1.3"/>
<line x1="1964.50" y1="830.00" x2="1970.10" y2="830.00" stroke="#ff0000" stroke-width="1.5"/>
<line x1="1963.20" y1="792.80" x2="1971.40" y2="792.80" stroke="#ff0000" stroke-width="2.2"/>
<path d="M1987.70,899.40H1998.90V936.20H1987.70Z" fill="#fff" stroke="#000" stroke-width="1.2" stroke-linejoin="round"/>
<line x1="1993.30" y1="889.10" x2="1993.30" y2="899.40" stroke="#000" stroke-width="1.3"/>
<line x1="1990.50" y1="889.10" x2="1996.10" y2="889.10" stroke="#000" stroke-width="1.5"/>
<line x1="1993.30" y1="942.10" x2="1993.30" y2="936.20" stroke="#000" stroke-width="1.3"/>
<line x1="1990.50" y1="942.10" x2="1996.10" y2="942.10" stroke="#000" stroke-width="1.5"/>
<line x1="1987.70" y1="923.30" x2="1998.90" y2="923.30" stroke="#000" stroke-width="1.9"/>
<path d="M2015.60,794.60H2026.80V829.20L2025.30,831.20L2026.80,833.20V855.30H2015.60V833.20L2017.10,831.20L2015.60,829.20Z" fill="#ffa3a3" stroke="#ff0000" stroke-width="2.0" stroke-linejoin="round"/>
<line x1="2021.20" y1="790.60" x2="2021.20" y2="794.60" stroke="#ff0000" stroke-width="1.3"/>
<line x1="2018.40" y1="790.60" x2="2024.00" y2="790.60" stroke="#ff0000" stroke-width="1.5"/>
<line x1="2021.20" y1="865.20" x2="2021.20" y2="855.30" stroke="#ff0000" stroke-width="1.3"/>
<line x1="2018.40" y1="865.20" x2="2024.00" y2="865.20" stroke="#ff0000" stroke-width="1.5"/>
<line x1="2017.10" y1="831.20" x2="2025.30" y2="831.20" stroke="#ff0000" stroke-width="2.2"/>
</svg></body></html>
